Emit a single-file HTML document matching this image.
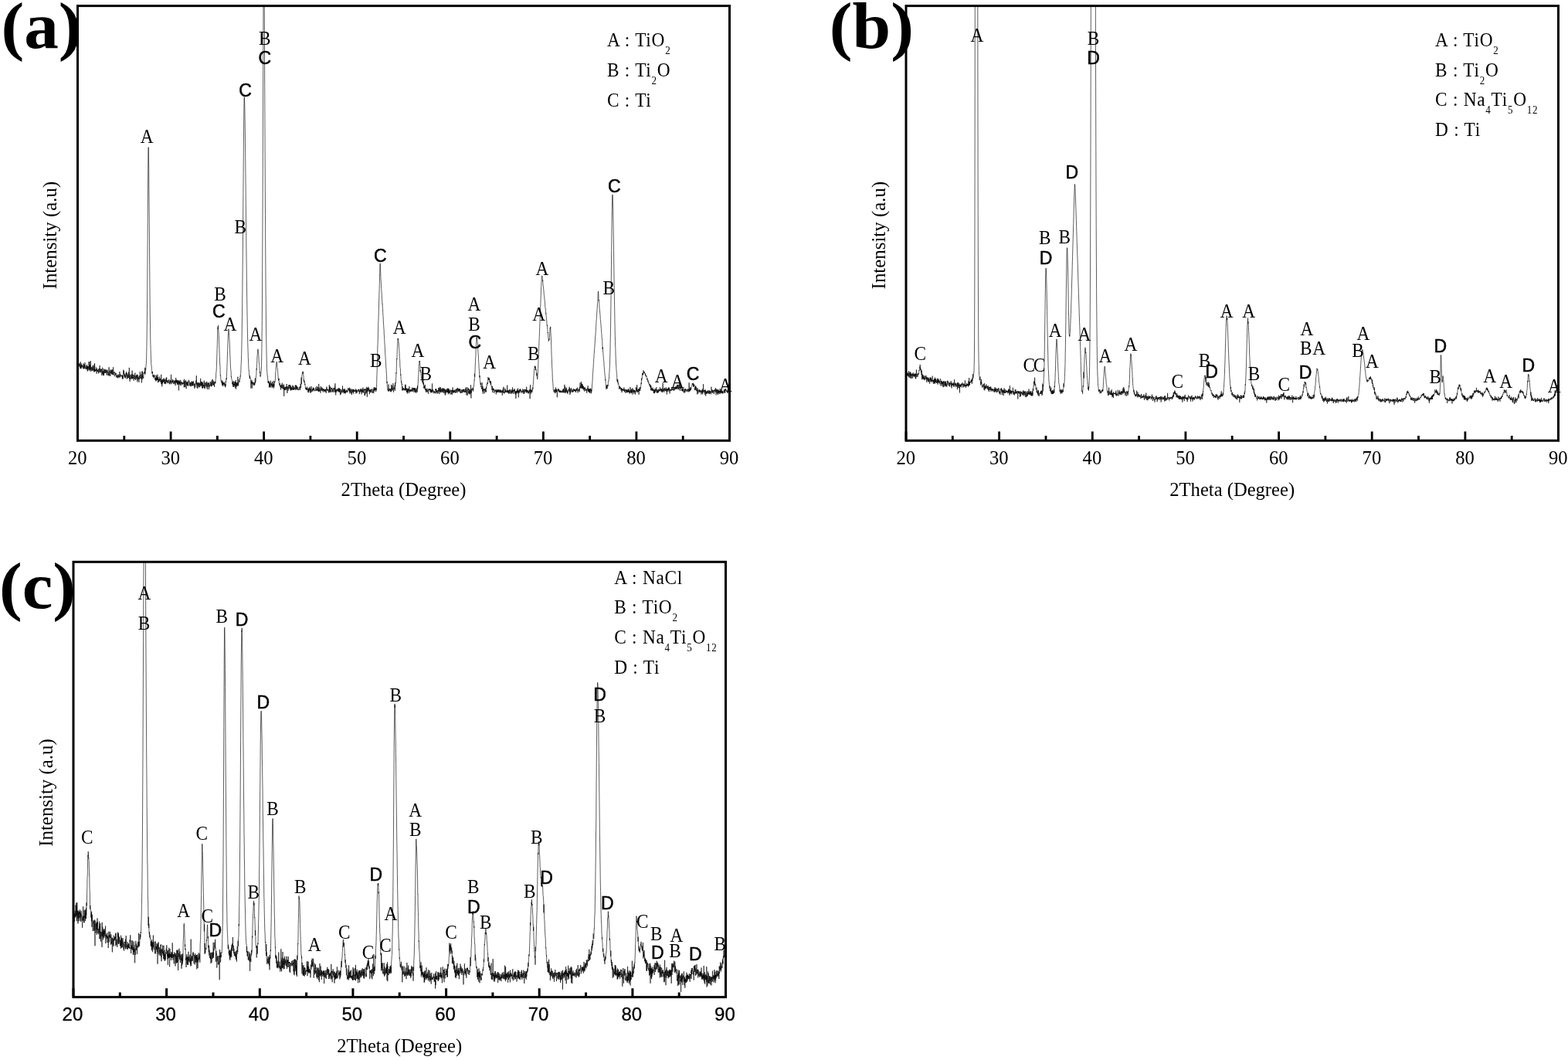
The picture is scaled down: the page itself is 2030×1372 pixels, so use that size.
<!DOCTYPE html>
<html lang="en">
<head>
<meta charset="utf-8">
<title>XRD patterns</title>
<style>
html,body{margin:0;padding:0;background:#fff;}
body{width:2030px;height:1372px;overflow:hidden;}
svg{display:block;}
text{fill:#000;}
</style>
</head>
<body>
<svg width="2030" height="1372" viewBox="0 0 2030 1372">
<rect width="2030" height="1372" fill="#fff"/>
<g id="panel-a">
<clipPath id="clip0"><rect x="100.5" y="7.6" width="846.5" height="562.7"/></clipPath>
<polyline clip-path="url(#clip0)" fill="none" stroke="#000" stroke-opacity="1" stroke-width="0.64" stroke-linejoin="round" points="100.5,475.1 100.7,470.7 100.9,470.6 101.1,465.6 101.3,472 101.5,470.3 101.7,471.2 101.9,473.4 102.1,473.8 102.3,470.6 102.5,471.1 102.7,471.9 102.9,474.7 103.1,474.6 103.3,470.4 103.5,471 103.7,475.1 103.9,477.2 104.1,468.3 104.3,472.1 104.5,476.3 104.7,473.2 104.9,474.7 105.1,477.3 105.3,470.5 105.5,474 105.7,475.4 105.9,472.5 106.1,473.6 106.3,472.7 106.5,473.8 106.7,473.4 106.9,475.5 107.1,473.5 107.3,474.4 107.5,474.3 107.7,474.8 107.9,477.4 108.1,470.5 108.3,477.2 108.5,476.3 108.7,471.5 108.9,474.1 109.1,474.8 109.3,477.3 109.5,472.5 109.7,475.5 109.9,469.3 110.1,471.2 110.3,472.3 110.5,476.4 110.7,476.5 110.9,477.6 111.1,476.2 111.3,475.9 111.5,475.2 111.7,477.8 111.9,473.3 112.1,474.9 112.3,476.2 112.5,471.9 112.7,478.4 112.9,473.9 113.1,475.6 113.3,480.7 113.5,474 113.7,474.5 113.9,479.3 114.1,474 114.3,475 114.5,477.3 114.7,477.1 114.9,477.3 115.1,468.1 115.3,479.5 115.5,478.7 115.7,478 115.9,468.2 116.1,478.1 116.3,472.4 116.5,478.5 116.7,472.8 116.9,478.7 117.1,480.8 117.3,467.2 117.5,475.4 117.7,476 117.9,479.1 118.1,475.1 118.3,476.6 118.5,476 118.7,476.7 118.9,480.3 119.1,475.3 119.3,477.6 119.5,479.5 119.7,479.3 119.9,474.6 120.1,472.9 120.3,478.5 120.5,479.5 120.7,477.7 120.9,473.7 121.1,475.9 121.3,479.3 121.5,477.7 121.7,477.6 121.9,481.7 122.1,471.7 122.3,481 122.5,470.3 122.7,473.8 122.9,480.3 123.1,480.5 123.3,478.1 123.5,480.1 123.7,480.1 123.9,478.7 124.1,480.2 124.3,479.1 124.5,475.4 124.7,479.5 124.9,479.6 125.1,483.7 125.3,477.1 125.5,479.9 125.7,479 125.9,479.7 126.1,480.7 126.3,481 126.5,479.1 126.7,480.3 126.9,481.5 127.1,477.4 127.3,479.2 127.5,483.4 127.7,481.9 127.9,479.8 128.1,479 128.3,479.6 128.5,476.7 128.7,482.4 128.9,481.2 129.1,473.1 129.3,477.3 129.5,478.6 129.7,481.3 129.9,480.6 130.1,479.1 130.3,477.6 130.5,482.3 130.7,477.7 130.9,479.1 131.1,478.5 131.3,477.9 131.5,481 131.7,481.8 131.9,486.1 132.1,478.2 132.3,478.7 132.5,475.7 132.7,484 132.9,481.6 133.1,479.8 133.3,483.1 133.5,485.7 133.7,480.8 133.9,485.2 134.1,481.4 134.3,477 134.5,486.2 134.7,483.5 134.9,480.5 135.1,480.1 135.3,478.3 135.5,483 135.7,481.9 135.9,480.3 136.1,478.9 136.3,481.8 136.5,478.4 136.7,482.9 136.9,481.4 137.1,482.1 137.3,481.7 137.5,478.5 137.7,479.2 137.9,482.2 138.1,485.6 138.3,479.9 138.5,480.9 138.7,482.4 138.9,478.7 139.1,478.6 139.3,481.6 139.5,482.2 139.7,481.6 139.9,485.9 140.1,481.9 140.3,483.1 140.5,485.8 140.7,486.2 140.9,479.2 141.1,475.2 141.3,480.4 141.5,479.8 141.7,486.5 141.9,484.2 142.1,479.8 142.3,480.3 142.5,483.2 142.7,485.3 142.9,486.8 143.1,482.6 143.3,478.3 143.5,482.8 143.7,482.3 143.9,482.4 144.1,483.2 144.3,479.4 144.5,484.4 144.7,478.8 144.9,482 145.1,484.1 145.3,484.2 145.5,484.5 145.7,478.2 145.9,484.3 146.1,485.2 146.3,482.9 146.5,475.2 146.7,481.5 146.9,485.5 147.1,485.1 147.3,481.9 147.5,482.6 147.7,482.8 147.9,482.9 148.1,480.8 148.3,485.1 148.5,487.3 148.7,486.9 148.9,484.7 149.1,484.1 149.3,482.6 149.5,483.1 149.7,483.9 149.9,485.6 150.1,482.8 150.3,485.2 150.5,485.9 150.7,487.9 150.9,486.4 151.1,488.6 151.3,488.9 151.5,486.3 151.7,486.4 151.9,484.8 152.1,485 152.3,488.8 152.5,486.8 152.7,488.1 152.9,489.5 153.1,484.7 153.3,485.5 153.5,485.8 153.7,487.9 153.9,485.3 154.1,486.8 154.3,488.3 154.5,488.4 154.7,486.7 154.9,481 155.1,485 155.3,488.5 155.5,486.9 155.7,483.9 155.9,485.1 156.1,485.1 156.3,485.1 156.5,486.5 156.7,486.2 156.9,487.4 157.1,487.5 157.3,485.7 157.5,487.1 157.7,486.6 157.9,485.8 158.1,485.9 158.3,489.8 158.5,485.6 158.7,489.5 158.9,491 159.1,487.5 159.3,489.5 159.5,484.5 159.7,480.3 159.9,478.6 160.1,483.8 160.3,484.2 160.5,480.1 160.7,486.7 160.9,487.3 161.1,486.5 161.3,483.8 161.5,489 161.7,485.1 161.9,487.6 162.1,485.9 162.3,489.5 162.5,486.4 162.7,486.4 162.9,486.4 163.1,482.9 163.3,485.5 163.5,480.9 163.7,484.6 163.9,487.6 164.1,486.5 164.3,490.8 164.5,490.4 164.7,483 164.9,487.3 165.1,484.9 165.3,488.5 165.5,487.7 165.7,489.4 165.9,488.1 166.1,488.8 166.3,486.5 166.5,481.7 166.7,489 166.9,485.3 167.1,486.1 167.3,475.9 167.5,490.7 167.7,486.6 167.9,490 168.1,493.8 168.3,491.2 168.5,490.6 168.7,488.7 168.9,484.6 169.1,488.5 169.3,490.9 169.5,487.6 169.7,486 169.9,486.4 170.1,486.9 170.3,484.4 170.5,490.1 170.7,487.6 170.9,490.2 171.1,479.6 171.3,484.9 171.5,486.2 171.7,490.3 171.9,484.7 172.1,486.8 172.3,489.1 172.5,489.9 172.7,489.5 172.9,484.8 173.1,492.7 173.3,487.8 173.5,488.2 173.7,488 173.9,487.3 174.1,485.7 174.3,487.2 174.5,490.9 174.7,484.8 174.9,482.5 175.1,488.4 175.3,488.7 175.5,489.5 175.7,492 175.9,486.7 176.1,488.6 176.3,489.2 176.5,486.3 176.7,490.3 176.9,486.3 177.1,485 177.3,487.5 177.5,484.6 177.7,490.6 177.9,494.4 178.1,485.3 178.3,486.3 178.5,491.8 178.7,489.2 178.9,487.7 179.1,490 179.3,488.6 179.5,489.9 179.7,491.5 179.9,494.7 180.1,489.8 180.3,486 180.5,490.9 180.7,489.7 180.9,488.4 181.1,486.9 181.3,481.2 181.5,486 181.7,489.9 181.9,489 182.1,489.3 182.3,486.9 182.5,486.3 182.7,484.5 182.9,490.4 183.1,487.5 183.3,487.6 183.5,495.4 183.7,488 183.9,480.7 184.1,491.1 184.3,480.7 184.5,488.3 184.7,484.7 184.9,485.3 185.1,488.7 185.3,487.7 185.5,488.2 185.7,489.7 185.9,488 186.1,482.3 186.3,483.9 186.5,483.4 186.7,483.6 186.9,480.9 187.1,480.7 187.3,482.8 187.5,482.5 187.7,475.8 187.9,481.3 188.1,484.6 188.3,477.3 188.5,477 188.7,478.6 188.9,475.7 189.1,472 189.3,471.3 189.5,466.7 189.7,461.4 189.9,449.9 190.1,437.9 190.3,421.7 190.5,400.3 190.7,375.6 190.9,343.8 191.1,310.5 191.3,273.9 191.5,244.3 191.7,217.2 191.9,196.1 192.1,190.6 192.3,190.7 192.5,203.8 192.7,219.4 192.9,243.1 193.1,267.6 193.3,291 193.5,317.3 193.7,342.4 193.9,368.8 194.1,388.8 194.3,406.6 194.5,421.1 194.7,436.1 194.9,445.2 195.1,451.6 195.3,459.2 195.5,464.5 195.7,470.3 195.9,472.6 196.1,472.7 196.3,477.6 196.5,479.4 196.7,479.6 196.9,483.6 197.1,481.5 197.3,483 197.5,481.2 197.7,485.1 197.9,487.5 198.1,485.4 198.3,485.3 198.5,487.3 198.7,487 198.9,489.3 199.1,487.9 199.3,485.5 199.5,487.9 199.7,487.6 199.9,485.2 200.1,487.5 200.3,487.4 200.5,490.9 200.7,490.4 200.9,489.9 201.1,492.2 201.3,489.2 201.5,491.8 201.7,489.2 201.9,493.5 202.1,485.5 202.3,490.9 202.5,492.6 202.7,489.6 202.9,486.9 203.1,491.4 203.3,488.9 203.5,492 203.7,491 203.9,484.7 204.1,490.1 204.3,488.3 204.5,495.2 204.7,489.8 204.9,492.3 205.1,490.4 205.3,492 205.5,492.1 205.7,494.5 205.9,492.1 206.1,490.6 206.3,487.5 206.5,493.1 206.7,490.3 206.9,491.1 207.1,491.6 207.3,493.6 207.5,490.6 207.7,490.7 207.9,489.7 208.1,491.3 208.3,495 208.5,490.6 208.7,484.8 208.9,496.7 209.1,493.3 209.3,497.6 209.5,492.2 209.7,500.3 209.9,498.7 210.1,491.4 210.3,493 210.5,496.4 210.7,491.2 210.9,494.5 211.1,490.4 211.3,490.6 211.5,493.5 211.7,491.9 211.9,493.2 212.1,494.8 212.3,489.5 212.5,490.6 212.7,491.9 212.9,496.8 213.1,491.3 213.3,493.5 213.5,493 213.7,496.7 213.9,491.1 214.1,491.8 214.3,492.5 214.5,494.2 214.7,497.1 214.9,489.9 215.1,489.2 215.3,493.1 215.5,494.1 215.7,488.4 215.9,491.8 216.1,495.3 216.3,492.3 216.5,494.5 216.7,494.1 216.9,495.1 217.1,494.7 217.3,494.8 217.5,496.2 217.7,492.4 217.9,493.6 218.1,495.5 218.3,492 218.5,492.2 218.7,491.4 218.9,490.9 219.1,493.5 219.3,494 219.5,496.9 219.7,494.9 219.9,497.4 220.1,492.9 220.3,494.2 220.5,493.1 220.7,495.7 220.9,492 221.1,494.1 221.3,488.3 221.5,484.8 221.7,487.5 221.9,497.2 222.1,495.4 222.3,494 222.5,494.2 222.7,493.1 222.9,495.5 223.1,493.9 223.3,490.8 223.5,492.7 223.7,495.1 223.9,494.3 224.1,491.9 224.3,495.5 224.5,495.2 224.7,495.2 224.9,497.2 225.1,493.6 225.3,492.7 225.5,493.9 225.7,493.5 225.9,496.9 226.1,495.4 226.3,493.3 226.5,492.8 226.7,495.9 226.9,492.1 227.1,499.1 227.3,497 227.5,491.3 227.7,489 227.9,493.6 228.1,493.3 228.3,495.5 228.5,491.6 228.7,494.6 228.9,493.2 229.1,495.8 229.3,491.9 229.5,497.8 229.7,493.3 229.9,497.8 230.1,497.8 230.3,496.6 230.5,492.1 230.7,491.9 230.9,497.6 231.1,493.2 231.3,494.5 231.5,505.4 231.7,493.6 231.9,496.3 232.1,492.4 232.3,492.9 232.5,497.2 232.7,493.7 232.9,496.8 233.1,496.6 233.3,498.4 233.5,496.4 233.7,491.8 233.9,493 234.1,499.3 234.3,497.6 234.5,495.7 234.7,494.1 234.9,496.2 235.1,494.4 235.3,495.6 235.5,495.5 235.7,497.5 235.9,496.1 236.1,497.5 236.3,495.6 236.5,497.1 236.7,495.4 236.9,497 237.1,496.1 237.3,495.4 237.5,494.8 237.7,494.9 237.9,496.4 238.1,492.3 238.3,501.4 238.5,490.7 238.7,495.2 238.9,500.9 239.1,497.1 239.3,496.2 239.5,493.4 239.7,496.5 239.9,498.2 240.1,501 240.3,497 240.5,491.9 240.7,495.6 240.9,497.3 241.1,503.2 241.3,494.9 241.5,495.5 241.7,497.5 241.9,497.1 242.1,493.8 242.3,498.6 242.5,493.9 242.7,499 242.9,499.1 243.1,495.9 243.3,495.8 243.5,499.8 243.7,495.8 243.9,494.3 244.1,495.1 244.3,491.7 244.5,493.3 244.7,495.2 244.9,493.5 245.1,494.3 245.3,499.4 245.5,496.8 245.7,496.1 245.9,498.1 246.1,495.9 246.3,494.9 246.5,499.7 246.7,499.1 246.9,495.4 247.1,498.8 247.3,500.2 247.5,498.2 247.7,495.9 247.9,494.5 248.1,496.6 248.3,493.3 248.5,498.2 248.7,496.9 248.9,499.7 249.1,495.5 249.3,499.1 249.5,494 249.7,496.5 249.9,498.5 250.1,498.2 250.3,497.3 250.5,493.3 250.7,495.9 250.9,498.8 251.1,499.6 251.3,497.3 251.5,496.7 251.7,498.4 251.9,502.9 252.1,499.9 252.3,498.3 252.5,496.5 252.7,501.2 252.9,498.2 253.1,496.7 253.3,496.8 253.5,495.2 253.7,493.3 253.9,492.5 254.1,496.4 254.3,486.1 254.5,498.2 254.7,496 254.9,498.1 255.1,502.2 255.3,495.5 255.5,495.7 255.7,500.1 255.9,502.8 256.1,496.4 256.3,494.9 256.5,497.8 256.7,497.6 256.9,499.8 257.1,496 257.3,497.3 257.5,501.3 257.7,497.9 257.9,494.9 258.1,498.9 258.3,498.5 258.5,496.3 258.7,501.2 258.9,499.9 259.1,499.3 259.3,499.5 259.5,498 259.7,489.9 259.9,499.7 260.1,498 260.3,493.7 260.5,499.2 260.7,496.1 260.9,495.2 261.1,498.7 261.3,494.1 261.5,502.2 261.7,501.4 261.9,495.7 262.1,496.4 262.3,502.9 262.5,500.5 262.7,494.7 262.9,500.5 263.1,501.8 263.3,498.5 263.5,497.9 263.7,500.3 263.9,499.3 264.1,497.3 264.3,492.6 264.5,499 264.7,499.4 264.9,502.7 265.1,498.7 265.3,502.9 265.5,498.1 265.7,495.2 265.9,498.3 266.1,500 266.3,499.4 266.5,499 266.7,495.3 266.9,496.1 267.1,498 267.3,500.1 267.5,501.6 267.7,493.8 267.9,498.1 268.1,497.7 268.3,504 268.5,498.7 268.7,496.5 268.9,495.4 269.1,499.9 269.3,500.5 269.5,496.9 269.7,495.8 269.9,496.6 270.1,495.3 270.3,504.2 270.5,496.9 270.7,495.8 270.9,497 271.1,501.3 271.3,499.1 271.5,498.5 271.7,498.1 271.9,499.6 272.1,499.4 272.3,493.9 272.5,497.6 272.7,496.3 272.9,498.6 273.1,497.9 273.3,500.1 273.5,500.3 273.7,498.5 273.9,494.4 274.1,500.1 274.3,492.1 274.5,498.5 274.7,497.5 274.9,497.7 275.1,490.8 275.3,493.9 275.5,496 275.7,497.7 275.9,497.5 276.1,498.6 276.3,497 276.5,492.8 276.7,498.8 276.9,495.7 277.1,494.6 277.3,496.4 277.5,501 277.7,497.2 277.9,494.6 278.1,496.3 278.3,495.5 278.5,494.4 278.7,493.8 278.9,496.3 279.1,491.6 279.3,490.5 279.5,489.5 279.7,483.9 279.9,481.1 280.1,481 280.3,475.9 280.5,471.2 280.7,465.8 280.9,457.9 281.1,451.3 281.3,445.6 281.5,438 281.7,430.3 281.9,423.7 282.1,425.7 282.3,422.6 282.5,421.1 282.7,424.7 282.9,428.2 283.1,431.4 283.3,433.7 283.5,442.7 283.7,446.6 283.9,451.1 284.1,457.4 284.3,461.5 284.5,466.1 284.7,472.1 284.9,472 285.1,479.9 285.3,486.4 285.5,485.6 285.7,488 285.9,491.2 286.1,492.8 286.3,493.4 286.5,492.3 286.7,495.2 286.9,493.9 287.1,493.7 287.3,496.7 287.5,497.1 287.7,498.8 287.9,492.6 288.1,497.8 288.3,494.1 288.5,497.2 288.7,500 288.9,495.5 289.1,497.9 289.3,495.9 289.5,497 289.7,495.2 289.9,496.9 290.1,498.3 290.3,497 290.5,494.7 290.7,495.2 290.9,499.5 291.1,498.8 291.3,496.6 291.5,497.4 291.7,501.3 291.9,497.2 292.1,499.7 292.3,493.4 292.5,494.8 292.7,493.3 292.9,489.5 293.1,489.9 293.3,491.3 293.5,483.9 293.7,481.1 293.9,475.5 294.1,469.8 294.3,464.6 294.5,457 294.7,454.1 294.9,445.8 295.1,440 295.3,434.1 295.5,430.4 295.7,429.7 295.9,425.7 296.1,426.7 296.3,427.8 296.5,430.8 296.7,436.2 296.9,437.8 297.1,442.3 297.3,445.5 297.5,451.7 297.7,457 297.9,460.8 298.1,465.3 298.3,470.8 298.5,477 298.7,477.3 298.9,479.6 299.1,480.6 299.3,488.1 299.5,487.4 299.7,490.4 299.9,490.3 300.1,490.7 300.3,491.7 300.5,492.5 300.7,496.9 300.9,495.8 301.1,496.5 301.3,498.3 301.5,494.4 301.7,500.5 301.9,498.5 302.1,493.1 302.3,499.9 302.5,500.9 302.7,497 302.9,497.4 303.1,498.4 303.3,494.1 303.5,497.8 303.7,499.3 303.9,496.7 304.1,499.8 304.3,501.8 304.5,494.1 304.7,494.2 304.9,499.6 305.1,492.2 305.3,498.6 305.5,503.8 305.7,495.4 305.9,496.2 306.1,500.7 306.3,495.6 306.5,496.3 306.7,499.1 306.9,496.8 307.1,495.3 307.3,499.5 307.5,497.4 307.7,496.6 307.9,487.7 308.1,497.9 308.3,495.2 308.5,499.6 308.7,497 308.9,496.9 309.1,491.4 309.3,493.5 309.5,493.4 309.7,493.8 309.9,494.7 310.1,494.8 310.3,494 310.5,489.5 310.7,490.4 310.9,488.8 311.1,486.4 311.3,487.4 311.5,484.9 311.7,483.7 311.9,478.2 312.1,471.3 312.3,470.2 312.5,465.2 312.7,458.3 312.9,449 313.1,438.2 313.3,424 313.5,410.4 313.7,392.7 313.9,373.2 314.1,351.5 314.3,328.6 314.5,305 314.7,278 314.9,249.6 315.1,223.3 315.3,197.1 315.5,177 315.7,155.9 315.9,139.9 316.1,128.6 316.3,125.5 316.5,131.7 316.7,133.1 316.9,141.5 317.1,155.6 317.3,168.2 317.5,184.6 317.7,203.5 317.9,223.8 318.1,241.8 318.3,264.7 318.5,282.4 318.7,300.3 318.9,321 319.1,338.3 319.3,356.9 319.5,371.3 319.7,385.3 319.9,398.7 320.1,410.4 320.3,422.6 320.5,432.5 320.7,442.2 320.9,449 321.1,454.7 321.3,462.5 321.5,466 321.7,471.3 321.9,476.5 322.1,479.4 322.3,479.2 322.5,482.3 322.7,486.7 322.9,487.6 323.1,488.3 323.3,490 323.5,486.1 323.7,490 323.9,488.9 324.1,491 324.3,492 324.5,493.8 324.7,495.4 324.9,502.6 325.1,494.4 325.3,493.6 325.5,496.6 325.7,495 325.9,491.6 326.1,494.8 326.3,502.6 326.5,493.8 326.7,496 326.9,498.4 327.1,495.5 327.3,496.1 327.5,496.3 327.7,494.8 327.9,495.9 328.1,495 328.3,496.4 328.5,495.6 328.7,498.8 328.9,496.9 329.1,498.9 329.3,494.9 329.5,497 329.7,498.1 329.9,498 330.1,495.4 330.3,489.4 330.5,495.9 330.7,494.4 330.9,493.1 331.1,493.6 331.3,489.2 331.5,486.4 331.7,486 331.9,484.4 332.1,477.2 332.3,478.5 332.5,472.6 332.7,470 332.9,463 333.1,459.8 333.3,458.1 333.5,455.6 333.7,452.9 333.9,451.8 334.1,452.7 334.3,455.5 334.5,455.4 334.7,457.6 334.9,461.2 335.1,465.2 335.3,469 335.5,470.5 335.7,473.5 335.9,475.9 336.1,478 336.3,481.6 336.5,482.9 336.7,481.4 336.9,487.3 337.1,486.4 337.3,487.3 337.5,485.5 337.7,485.4 337.9,482.8 338.1,481.7 338.3,479.3 338.5,473.6 338.7,464 338.9,450.8 339.1,435.7 339.3,414.4 339.5,387.4 339.7,348.5 339.9,306.8 340.1,257 340.3,201.4 340.5,142.1 340.7,81.5 340.9,32 341.1,-11.5 341.3,-39.4 341.5,-50.8 341.7,-44.7 341.9,-26.6 342.1,-2.8 342.3,30.1 342.5,67.8 342.7,111.7 342.9,152.3 343.1,196.9 343.3,239.8 343.5,278.7 343.7,315.7 343.9,347.4 344.1,376.7 344.3,399 344.5,418.9 344.7,436.1 344.9,447.3 345.1,461.1 345.3,466.9 345.5,476.6 345.7,481.3 345.9,482.2 346.1,486 346.3,486 346.5,486.2 346.7,491.6 346.9,491.5 347.1,495.8 347.3,493.1 347.5,495.2 347.7,494 347.9,495.8 348.1,494.8 348.3,495.6 348.5,501.5 348.7,493.6 348.9,496.6 349.1,499.4 349.3,497.9 349.5,495.7 349.7,500.9 349.9,498.9 350.1,501.7 350.3,496.9 350.5,492.7 350.7,497.4 350.9,497 351.1,499.3 351.3,496 351.5,497.3 351.7,496.9 351.9,499.6 352.1,497.7 352.3,502 352.5,494.2 352.7,495.3 352.9,499 353.1,499.8 353.3,497.2 353.5,497.6 353.7,501.1 353.9,498.7 354.1,492.9 354.3,502.7 354.5,501.5 354.7,496.7 354.9,500.4 355.1,497.3 355.3,496.5 355.5,496.3 355.7,493.7 355.9,494.8 356.1,492.4 356.3,492.5 356.5,488.7 356.7,481.6 356.9,481.1 357.1,480.6 357.3,475.4 357.5,472.8 357.7,471 357.9,469.6 358.1,468.1 358.3,468.8 358.5,469.4 358.7,472 358.9,475.3 359.1,476.3 359.3,477.1 359.5,479.6 359.7,482.5 359.9,485.5 360.1,487.2 360.3,490.5 360.5,492.6 360.7,490.7 360.9,491.8 361.1,489.8 361.3,496.8 361.5,498.3 361.7,498.5 361.9,498.8 362.1,496.5 362.3,495.8 362.5,497.7 362.7,500 362.9,501.1 363.1,498.5 363.3,499.4 363.5,504.5 363.7,499 363.9,499.4 364.1,498.4 364.3,497.9 364.5,502.3 364.7,499.4 364.9,499.6 365.1,499.3 365.3,495.7 365.5,502.1 365.7,500 365.9,497.8 366.1,503.4 366.3,500.8 366.5,501.3 366.7,501.6 366.9,503.6 367.1,498.9 367.3,500.2 367.5,497.5 367.7,512.8 367.9,500.8 368.1,500.7 368.3,504.9 368.5,503.1 368.7,504.7 368.9,501.7 369.1,504.7 369.3,500.7 369.5,502.2 369.7,502 369.9,501.1 370.1,504.9 370.3,504.3 370.5,500.8 370.7,503.2 370.9,502 371.1,497 371.3,501.4 371.5,500.6 371.7,501.7 371.9,508.9 372.1,500.3 372.3,500.6 372.5,503.1 372.7,501.8 372.9,505.8 373.1,505.4 373.3,501.1 373.5,503.5 373.7,498.4 373.9,500.7 374.1,500.2 374.3,500.3 374.5,498.1 374.7,502.5 374.9,502.4 375.1,500.8 375.3,502.1 375.5,503.8 375.7,498 375.9,500.2 376.1,505.5 376.3,499.5 376.5,501.1 376.7,504 376.9,505.1 377.1,503.2 377.3,501.7 377.5,504.6 377.7,502.1 377.9,500.8 378.1,504.4 378.3,501.3 378.5,499.5 378.7,498.7 378.9,501.9 379.1,505 379.3,503.3 379.5,502.2 379.7,504.2 379.9,499.4 380.1,502.8 380.3,503.4 380.5,504.7 380.7,501 380.9,503.8 381.1,502.6 381.3,502.4 381.5,503.6 381.7,502.7 381.9,502 382.1,502 382.3,498.7 382.5,505.1 382.7,504.9 382.9,503.7 383.1,498.3 383.3,503.8 383.5,501.2 383.7,499 383.9,500.9 384.1,502.2 384.3,503.5 384.5,500.1 384.7,500.8 384.9,505 385.1,501.5 385.3,501.4 385.5,501 385.7,501 385.9,504 386.1,503.5 386.3,504.4 386.5,504.5 386.7,505.2 386.9,503.3 387.1,504.2 387.3,503.8 387.5,503.8 387.7,500.5 387.9,502 388.1,501.7 388.3,501.1 388.5,504.6 388.7,504.8 388.9,503 389.1,496.9 389.3,500.9 389.5,502 389.7,496.6 389.9,494.6 390.1,488.5 390.3,497.2 390.5,493.9 390.7,491.4 390.9,485.7 391.1,485.2 391.3,483.2 391.5,483.2 391.7,482.2 391.9,483.6 392.1,480.7 392.3,483 392.5,481.7 392.7,483.7 392.9,486.1 393.1,487.4 393.3,493.2 393.5,491.3 393.7,493.5 393.9,495.2 394.1,493.2 394.3,495.2 394.5,496.2 394.7,498.1 394.9,496.7 395.1,498.6 395.3,500.1 395.5,503.4 395.7,502.6 395.9,501.7 396.1,503.7 396.3,502.8 396.5,503.3 396.7,504.8 396.9,501.8 397.1,503.8 397.3,504.8 397.5,502.7 397.7,500.6 397.9,502.2 398.1,502.9 398.3,504.1 398.5,503.1 398.7,503.6 398.9,507.8 399.1,504 399.3,508.1 399.5,503.5 399.7,505.5 399.9,502.2 400.1,503.9 400.3,503.1 400.5,502.7 400.7,505.7 400.9,502.5 401.1,500.6 401.3,508.2 401.5,503.8 401.7,503.8 401.9,505.1 402.1,502.7 402.3,504.8 402.5,508.6 402.7,503.3 402.9,503.3 403.1,500 403.3,505.2 403.5,507 403.7,506.5 403.9,505.2 404.1,504.9 404.3,505.4 404.5,503.1 404.7,506.2 404.9,506.6 405.1,504.6 405.3,505 405.5,501.4 405.7,504.9 405.9,505 406.1,502.7 406.3,505.4 406.5,503.3 406.7,502.6 406.9,504.2 407.1,505.1 407.3,506.2 407.5,505.6 407.7,505.3 407.9,506.1 408.1,505.5 408.3,505.2 408.5,505.2 408.7,501.6 408.9,503.5 409.1,505.7 409.3,505.5 409.5,504.6 409.7,504 409.9,505.9 410.1,499.8 410.3,503.3 410.5,503.6 410.7,505.1 410.9,503.6 411.1,504.2 411.3,500.9 411.5,506.3 411.7,504.5 411.9,505.7 412.1,503.4 412.3,506.1 412.5,506.7 412.7,496.9 412.9,501.9 413.1,507 413.3,505 413.5,501.7 413.7,503.2 413.9,504.1 414.1,506.1 414.3,503.6 414.5,505 414.7,506.7 414.9,508.6 415.1,507.8 415.3,499.9 415.5,504.1 415.7,502.2 415.9,501.5 416.1,505.9 416.3,503.4 416.5,503 416.7,502.6 416.9,505.2 417.1,504.4 417.3,501.8 417.5,505.8 417.7,505.7 417.9,504.1 418.1,503.8 418.3,507.6 418.5,503.8 418.7,504.9 418.9,504.4 419.1,505.3 419.3,503.5 419.5,503.1 419.7,506 419.9,504.2 420.1,506 420.3,507.3 420.5,504.6 420.7,506.3 420.9,505 421.1,507.2 421.3,505.3 421.5,503.7 421.7,505.4 421.9,505.1 422.1,503.8 422.3,508.8 422.5,502.7 422.7,503.1 422.9,500.5 423.1,501.5 423.3,505 423.5,504.7 423.7,503.7 423.9,505.9 424.1,505.8 424.3,503.7 424.5,505.1 424.7,506.3 424.9,505.5 425.1,504.8 425.3,504.5 425.5,505.4 425.7,508.4 425.9,503.8 426.1,504.2 426.3,498.2 426.5,505.2 426.7,507.8 426.9,500.7 427.1,507.1 427.3,507.4 427.5,500.3 427.7,502.3 427.9,505.9 428.1,505.2 428.3,506.8 428.5,508 428.7,507 428.9,502.6 429.1,503.8 429.3,502.1 429.5,504.1 429.7,501.8 429.9,504.2 430.1,507.2 430.3,503.8 430.5,504.5 430.7,505.2 430.9,507.4 431.1,505.5 431.3,504.7 431.5,504.6 431.7,501.9 431.9,507.7 432.1,505.3 432.3,504.9 432.5,504.7 432.7,504 432.9,502.2 433.1,503.8 433.3,505 433.5,500.4 433.7,507.5 433.9,496.3 434.1,507.6 434.3,504.9 434.5,505.8 434.7,511.4 434.9,505.4 435.1,503.6 435.3,506.1 435.5,507.6 435.7,505 435.9,504.3 436.1,505.6 436.3,505.6 436.5,505.4 436.7,504.2 436.9,506.4 437.1,502.7 437.3,503.7 437.5,506.4 437.7,504.2 437.9,505.5 438.1,505.2 438.3,505.2 438.5,506.6 438.7,502.2 438.9,507.5 439.1,502.5 439.3,507.6 439.5,506.5 439.7,503 439.9,506 440.1,504.9 440.3,503.5 440.5,511.2 440.7,507.3 440.9,506.1 441.1,508.1 441.3,510 441.5,510.1 441.7,507.4 441.9,504 442.1,506.6 442.3,507.1 442.5,505.7 442.7,505.5 442.9,508.4 443.1,505.9 443.3,504.4 443.5,499.5 443.7,504.7 443.9,503 444.1,507.9 444.3,504.9 444.5,505.9 444.7,506.9 444.9,507.2 445.1,504 445.3,509.3 445.5,507.2 445.7,506.7 445.9,503.9 446.1,508.8 446.3,502.9 446.5,507.4 446.7,505.1 446.9,508.9 447.1,508.2 447.3,505.7 447.5,509.4 447.7,506.3 447.9,507.5 448.1,507.1 448.3,507.1 448.5,504.7 448.7,505.1 448.9,507.4 449.1,507.5 449.3,507 449.5,505.2 449.7,504.8 449.9,507.9 450.1,505.5 450.3,504.8 450.5,502.4 450.7,502.5 450.9,503.7 451.1,502.3 451.3,504.9 451.5,505.2 451.7,504.1 451.9,505.8 452.1,505.7 452.3,503.2 452.5,507.4 452.7,501.6 452.9,509.4 453.1,503.6 453.3,506 453.5,505.3 453.7,506.7 453.9,507.6 454.1,506.5 454.3,503.3 454.5,507.2 454.7,509.2 454.9,506.6 455.1,507.8 455.3,511.1 455.5,504.9 455.7,504.7 455.9,505.8 456.1,503.7 456.3,507.1 456.5,506.3 456.7,505.8 456.9,508.2 457.1,503.8 457.3,507.7 457.5,509.6 457.7,504.1 457.9,506.4 458.1,506 458.3,504.8 458.5,506.9 458.7,504.6 458.9,505.1 459.1,506.7 459.3,505.9 459.5,506.7 459.7,506.3 459.9,505.2 460.1,506.1 460.3,503.5 460.5,506.6 460.7,505.7 460.9,509.4 461.1,506.3 461.3,507.6 461.5,504.1 461.7,507.4 461.9,506.4 462.1,508.6 462.3,506.7 462.5,505.5 462.7,506.8 462.9,506.9 463.1,506.7 463.3,506 463.5,504.1 463.7,504 463.9,505.1 464.1,505.6 464.3,503.7 464.5,505.5 464.7,507.1 464.9,505 465.1,507.1 465.3,510.1 465.5,506.5 465.7,506.5 465.9,507.8 466.1,503.8 466.3,505 466.5,504.9 466.7,507.1 466.9,503 467.1,506.3 467.3,504.9 467.5,505.1 467.7,504.7 467.9,508 468.1,510.3 468.3,503.5 468.5,508 468.7,504.2 468.9,505.9 469.1,504.8 469.3,505.1 469.5,505 469.7,507.3 469.9,501.6 470.1,508.5 470.3,506.5 470.5,508.1 470.7,506.3 470.9,503.8 471.1,505.2 471.3,505.9 471.5,505.5 471.7,504.6 471.9,503.3 472.1,512.1 472.3,506.9 472.5,511.6 472.7,509.1 472.9,503.2 473.1,505.4 473.3,503.5 473.5,505.7 473.7,506.6 473.9,509.5 474.1,506.7 474.3,506.4 474.5,504.8 474.7,500.8 474.9,508 475.1,504.8 475.3,513.8 475.5,502.1 475.7,506.9 475.9,506.4 476.1,502.1 476.3,503 476.5,504.7 476.7,505.5 476.9,500.7 477.1,503.1 477.3,506.6 477.5,505.9 477.7,502.4 477.9,503.3 478.1,504.8 478.3,510.2 478.5,505 478.7,505.4 478.9,504.4 479.1,506.1 479.3,508.2 479.5,504.2 479.7,506.1 479.9,506.6 480.1,507.8 480.3,507.2 480.5,505.2 480.7,504.4 480.9,506.7 481.1,505.3 481.3,503.2 481.5,504.7 481.7,505.1 481.9,508.9 482.1,507.2 482.3,507.4 482.5,506.7 482.7,507.5 482.9,507.7 483.1,503.5 483.3,506.4 483.5,506.5 483.7,509.1 483.9,506.1 484.1,501.2 484.3,505.5 484.5,503.4 484.7,506.6 484.9,502.6 485.1,504.3 485.3,504.6 485.5,501.2 485.7,504.4 485.9,503.3 486.1,504.9 486.3,503.7 486.5,502.7 486.7,507 486.9,502 487.1,503.4 487.3,504.9 487.5,502.2 487.7,495.6 487.9,486.7 488.1,482.2 488.3,474 488.5,467.7 488.7,459.6 488.9,447.9 489.1,445.5 489.3,437.1 489.5,430.3 489.7,420.8 489.9,414.7 490.1,410.1 490.3,402.9 490.5,393.2 490.7,388.1 490.9,381.8 491.1,374.5 491.3,366.6 491.5,358.6 491.7,353.6 491.9,344.7 492.1,340.8 492.3,341.2 492.5,347.5 492.7,351.3 492.9,358.4 493.1,362.5 493.3,365 493.5,369.8 493.7,373.4 493.9,375.9 494.1,378.8 494.3,382.8 494.5,386.6 494.7,389.2 494.9,393.4 495.1,393 495.3,398.1 495.5,399.3 495.7,404.6 495.9,408.4 496.1,409.7 496.3,415 496.5,419.1 496.7,421.5 496.9,425.2 497.1,427.1 497.3,433.1 497.5,435.5 497.7,439.6 497.9,443.2 498.1,446.5 498.3,449.2 498.5,453.8 498.7,457.7 498.9,460.4 499.1,463.7 499.3,467.1 499.5,469.2 499.7,474.1 499.9,477 500.1,478.6 500.3,483.1 500.5,485.1 500.7,490.9 500.9,495.9 501.1,493.9 501.3,498.9 501.5,502.1 501.7,504.9 501.9,505 502.1,505.4 502.3,505.5 502.5,505.5 502.7,504 502.9,506.6 503.1,497.5 503.3,504.3 503.5,502.7 503.7,506.5 503.9,506 504.1,503.8 504.3,503.1 504.5,505.2 504.7,505.1 504.9,504.7 505.1,505.3 505.3,503.3 505.5,506.1 505.7,507 505.9,503.9 506.1,503.8 506.3,507.4 506.5,497.8 506.7,503.9 506.9,503.9 507.1,502.1 507.3,505.9 507.5,505.3 507.7,504.9 507.9,498.9 508.1,504.5 508.3,504.6 508.5,505.1 508.7,504.3 508.9,496.1 509.1,504.2 509.3,504.3 509.5,507.7 509.7,502.9 509.9,501.8 510.1,503.7 510.3,502.2 510.5,501.9 510.7,502.8 510.9,503.2 511.1,498.9 511.3,505.8 511.5,496.4 511.7,499.9 511.9,495.1 512.1,496.3 512.3,495.9 512.5,492.8 512.7,488.7 512.9,482.3 513.1,483.5 513.3,476.8 513.5,468.5 513.7,464.2 513.9,465 514.1,458.4 514.3,452.4 514.5,448.3 514.7,445.2 514.9,443.4 515.1,437.8 515.3,440 515.5,438.5 515.7,440.2 515.9,443.2 516.1,443.1 516.3,446 516.5,449.1 516.7,450.5 516.9,454.3 517.1,457.5 517.3,464.3 517.5,464.5 517.7,466.3 517.9,475 518.1,475.9 518.3,476.7 518.5,481.3 518.7,485.7 518.9,484.7 519.1,490.8 519.3,491.8 519.5,495.2 519.7,493.5 519.9,497 520.1,497.8 520.3,496.6 520.5,499 520.7,505.3 520.9,500.1 521.1,501.4 521.3,502.9 521.5,503.2 521.7,505.4 521.9,502.8 522.1,504.6 522.3,503.3 522.5,502 522.7,504.3 522.9,504.5 523.1,505.1 523.3,505 523.5,504.5 523.7,502.9 523.9,504.1 524.1,505.1 524.3,505.4 524.5,497.7 524.7,505.2 524.9,504.1 525.1,498.1 525.3,505.1 525.5,504 525.7,502.7 525.9,505.1 526.1,502.2 526.3,504.7 526.5,508.1 526.7,504.2 526.9,507.8 527.1,505.5 527.3,503.4 527.5,507.1 527.7,504.4 527.9,509.7 528.1,502.6 528.3,506.9 528.5,507.5 528.7,503.7 528.9,503.1 529.1,504.7 529.3,505.2 529.5,504.3 529.7,506.1 529.9,500 530.1,508.5 530.3,506.7 530.5,507 530.7,504.7 530.9,506.9 531.1,505.6 531.3,504 531.5,506 531.7,506.8 531.9,506.1 532.1,504.1 532.3,504.7 532.5,506.3 532.7,505.9 532.9,504.9 533.1,506.2 533.3,501.8 533.5,505.7 533.7,507.1 533.9,506.9 534.1,504.5 534.3,505.7 534.5,505.7 534.7,501.8 534.9,504.1 535.1,503.2 535.3,504.5 535.5,503.4 535.7,502 535.9,507.6 536.1,503 536.3,504.4 536.5,504.3 536.7,502.5 536.9,505.7 537.1,502.2 537.3,507.7 537.5,502.3 537.7,507.8 537.9,504.5 538.1,504.4 538.3,504.6 538.5,506.4 538.7,506.9 538.9,508.6 539.1,503 539.3,506.8 539.5,505.8 539.7,503.9 539.9,501.8 540.1,507.5 540.3,504.9 540.5,499.1 540.7,502.9 540.9,499.8 541.1,497.2 541.3,495.4 541.5,490.3 541.7,487.6 541.9,485.1 542.1,477.5 542.3,474.3 542.5,470.9 542.7,470.7 542.9,467.4 543.1,468 543.3,468.6 543.5,467.2 543.7,472.2 543.9,473 544.1,480.8 544.3,478.9 544.5,481 544.7,482.2 544.9,481.7 545.1,485.6 545.3,487.4 545.5,489.2 545.7,490 545.9,489.8 546.1,489.5 546.3,492.4 546.5,493.8 546.7,494.7 546.9,493.4 547.1,492.2 547.3,494.9 547.5,495.8 547.7,496.5 547.9,491.9 548.1,497.1 548.3,498.6 548.5,495.4 548.7,502.5 548.9,500.4 549.1,500.3 549.3,501.9 549.5,501.1 549.7,499.4 549.9,503.5 550.1,502.8 550.3,497.9 550.5,504.3 550.7,504.4 550.9,504.7 551.1,504 551.3,506.6 551.5,502.9 551.7,506.6 551.9,507.9 552.1,504.1 552.3,506.7 552.5,505.9 552.7,505.5 552.9,502.7 553.1,503.4 553.3,506.5 553.5,507.5 553.7,506.6 553.9,505.4 554.1,504.5 554.3,507.3 554.5,509.9 554.7,508.2 554.9,503.6 555.1,504.5 555.3,503.3 555.5,503.9 555.7,505 555.9,503 556.1,505.1 556.3,504.6 556.5,503.6 556.7,504.8 556.9,507 557.1,505.9 557.3,505 557.5,503.4 557.7,508.3 557.9,504 558.1,506.7 558.3,504.7 558.5,508.2 558.7,508 558.9,505.6 559.1,505.1 559.3,507.8 559.5,496.4 559.7,504.7 559.9,506.7 560.1,503.9 560.3,505.3 560.5,504.8 560.7,506.4 560.9,505.9 561.1,509.2 561.3,507.4 561.5,506.2 561.7,507.1 561.9,505.8 562.1,506.6 562.3,507.2 562.5,507 562.7,508.6 562.9,507.1 563.1,508.1 563.3,506.9 563.5,507.1 563.7,509.5 563.9,503.1 564.1,505.5 564.3,503.1 564.5,504.6 564.7,505.6 564.9,507.9 565.1,504 565.3,507.9 565.5,506 565.7,505.7 565.9,509.7 566.1,507.6 566.3,506.8 566.5,505.6 566.7,506.1 566.9,505.4 567.1,509 567.3,506.5 567.5,504.9 567.7,501.9 567.9,507 568.1,504.4 568.3,505 568.5,503.6 568.7,502.4 568.9,510 569.1,505.8 569.3,500.9 569.5,507 569.7,506.5 569.9,504 570.1,505.8 570.3,507.2 570.5,501.4 570.7,507.2 570.9,508.2 571.1,507 571.3,506.6 571.5,503.4 571.7,505.2 571.9,507.7 572.1,504.5 572.3,504.4 572.5,505.2 572.7,502.6 572.9,506.8 573.1,504.6 573.3,506.4 573.5,508 573.7,502.1 573.9,504.1 574.1,508.7 574.3,505.7 574.5,504.7 574.7,503.1 574.9,506 575.1,503.1 575.3,504.9 575.5,507.1 575.7,508.6 575.9,503.6 576.1,509.4 576.3,511.6 576.5,504.9 576.7,506.1 576.9,510.4 577.1,507 577.3,504.3 577.5,504.1 577.7,507.8 577.9,508.1 578.1,505.1 578.3,506.4 578.5,507.5 578.7,505.6 578.9,502.7 579.1,507.9 579.3,507.5 579.5,503.7 579.7,508 579.9,505.3 580.1,502.6 580.3,510.3 580.5,503.3 580.7,508.3 580.9,506.9 581.1,509.1 581.3,503.4 581.5,506.5 581.7,508.8 581.9,505.1 582.1,507.6 582.3,506 582.5,507.6 582.7,507.7 582.9,510.6 583.1,504.8 583.3,504.4 583.5,505.1 583.7,506.5 583.9,506.8 584.1,505.6 584.3,507 584.5,510.3 584.7,508.4 584.9,505.1 585.1,506.1 585.3,504.6 585.5,510.7 585.7,505.2 585.9,506.8 586.1,501.4 586.3,505.8 586.5,508 586.7,506.3 586.9,505.5 587.1,506.4 587.3,508.7 587.5,505.3 587.7,505.2 587.9,508.1 588.1,505.2 588.3,507.6 588.5,505.7 588.7,504.7 588.9,504.3 589.1,507.6 589.3,507.4 589.5,507.4 589.7,508.7 589.9,504.3 590.1,505.2 590.3,506.3 590.5,508.2 590.7,504.8 590.9,503.1 591.1,506.2 591.3,505.1 591.5,504.5 591.7,502.9 591.9,507 592.1,508.4 592.3,504.3 592.5,501.8 592.7,505 592.9,505.5 593.1,506.9 593.3,506.1 593.5,502.9 593.7,506 593.9,506.2 594.1,504.8 594.3,506.5 594.5,503.6 594.7,505.4 594.9,503.6 595.1,505.9 595.3,507.3 595.5,503 595.7,506.3 595.9,508.3 596.1,506.6 596.3,509 596.5,508.4 596.7,507.8 596.9,506.5 597.1,504.2 597.3,505.9 597.5,505 597.7,508.2 597.9,508.9 598.1,509 598.3,507.5 598.5,506.1 598.7,507.9 598.9,504.3 599.1,507.4 599.3,503.9 599.5,505.5 599.7,506.3 599.9,506.8 600.1,503.6 600.3,503.9 600.5,504.1 600.7,507.5 600.9,504.1 601.1,507.4 601.3,507 601.5,507.6 601.7,507 601.9,506 602.1,507.4 602.3,502.9 602.5,506.8 602.7,507.3 602.9,507.4 603.1,505.1 603.3,501.2 603.5,508.6 603.7,506 603.9,511.6 604.1,505.6 604.3,505.7 604.5,506.1 604.7,503.9 604.9,503.8 605.1,501.3 605.3,511.8 605.5,507.6 605.7,505.7 605.9,504.5 606.1,503.2 606.3,502.7 606.5,504.2 606.7,503.1 606.9,509.4 607.1,503.2 607.3,509.2 607.5,506.9 607.7,509.5 607.9,505.3 608.1,507.5 608.3,510.7 608.5,506.8 608.7,507.7 608.9,504 609.1,508.6 609.3,506.1 609.5,498.3 609.7,500.4 609.9,515.4 610.1,503.3 610.3,503.1 610.5,508.4 610.7,505.5 610.9,504.9 611.1,504.7 611.3,503.3 611.5,502.8 611.7,503.4 611.9,504.8 612.1,505.1 612.3,501.8 612.5,506 612.7,506.4 612.9,502.2 613.1,500 613.3,499.9 613.5,500 613.7,497.1 613.9,495.2 614.1,491.8 614.3,492.3 614.5,483.7 614.7,487.8 614.9,481.7 615.1,477.7 615.3,472 615.5,468.6 615.7,462.4 615.9,461.8 616.1,454.2 616.3,449.5 616.5,445.7 616.7,442.7 616.9,440.2 617.1,436.5 617.3,438.8 617.5,438 617.7,442 617.9,442.1 618.1,442.6 618.3,444.2 618.5,446.8 618.7,451.4 618.9,454.2 619.1,457.6 619.3,459.9 619.5,464.8 619.7,468.5 619.9,470.8 620.1,476.2 620.3,478.2 620.5,480.5 620.7,484.9 620.9,488.5 621.1,486.1 621.3,491.5 621.5,492.5 621.7,493.7 621.9,496.7 622.1,498.1 622.3,497.4 622.5,495.5 622.7,499.7 622.9,501 623.1,499.9 623.3,502.3 623.5,503.5 623.7,502.3 623.9,503.1 624.1,495.2 624.3,503.3 624.5,502.7 624.7,506.5 624.9,502.8 625.1,500.2 625.3,509.7 625.5,504 625.7,506.5 625.9,502.9 626.1,504.1 626.3,504.6 626.5,503.7 626.7,504.9 626.9,506.7 627.1,507.1 627.3,509.4 627.5,505.7 627.7,503.6 627.9,505.9 628.1,503 628.3,504.7 628.5,502.8 628.7,505.9 628.9,507.3 629.1,505.1 629.3,507.5 629.5,500.7 629.7,503.2 629.9,500.8 630.1,500.5 630.3,497.6 630.5,498.4 630.7,497.3 630.9,495.4 631.1,497.1 631.3,495.5 631.5,496.2 631.7,491.9 631.9,488.1 632.1,489.6 632.3,489.5 632.5,491.9 632.7,490.3 632.9,489.5 633.1,491 633.3,492 633.5,489.4 633.7,491.9 633.9,494.3 634.1,495.2 634.3,492.7 634.5,495.3 634.7,495.8 634.9,494.3 635.1,496.1 635.3,498 635.5,493.5 635.7,498.1 635.9,499.4 636.1,500.2 636.3,499.8 636.5,499.3 636.7,503.4 636.9,504.8 637.1,503.9 637.3,504.5 637.5,499.9 637.7,508.1 637.9,503.1 638.1,503.7 638.3,503.4 638.5,504.4 638.7,502.7 638.9,504.3 639.1,504.3 639.3,505.9 639.5,503.2 639.7,508.8 639.9,507.7 640.1,506.8 640.3,505.8 640.5,505.9 640.7,506.4 640.9,505.5 641.1,506.1 641.3,504.6 641.5,506.6 641.7,504.6 641.9,505.4 642.1,505.2 642.3,510.4 642.5,506.4 642.7,507.9 642.9,504.1 643.1,507.2 643.3,505.8 643.5,507.7 643.7,505.6 643.9,504.6 644.1,507.8 644.3,506.6 644.5,504.3 644.7,506.4 644.9,505 645.1,507.7 645.3,506.9 645.5,507.4 645.7,504 645.9,506.3 646.1,505.9 646.3,507.3 646.5,506.3 646.7,506.9 646.9,504.7 647.1,508.4 647.3,507.1 647.5,504.3 647.7,508.1 647.9,504.8 648.1,505.6 648.3,505.2 648.5,508.1 648.7,505.6 648.9,505.7 649.1,507 649.3,507.5 649.5,508.3 649.7,505.8 649.9,505.4 650.1,505.2 650.3,511.7 650.5,505.1 650.7,507.3 650.9,505.8 651.1,506.1 651.3,502.8 651.5,508.4 651.7,507.3 651.9,500.7 652.1,505.7 652.3,506.5 652.5,509.1 652.7,507.2 652.9,508.8 653.1,509.4 653.3,507.9 653.5,505.1 653.7,504.3 653.9,502.6 654.1,507.7 654.3,507.1 654.5,504.1 654.7,507.6 654.9,506.7 655.1,505.7 655.3,508 655.5,506.7 655.7,505.8 655.9,505.5 656.1,505.9 656.3,507.5 656.5,506.7 656.7,498.6 656.9,507.7 657.1,508.3 657.3,505 657.5,507.9 657.7,505.8 657.9,506.5 658.1,508.6 658.3,505 658.5,506.7 658.7,509.8 658.9,509.4 659.1,506 659.3,505.1 659.5,509 659.7,507.1 659.9,507 660.1,503.9 660.3,506.7 660.5,503.9 660.7,505.9 660.9,509.4 661.1,508.3 661.3,509 661.5,506.3 661.7,506.9 661.9,505.7 662.1,509.7 662.3,507.4 662.5,504.2 662.7,505.9 662.9,508.5 663.1,505.8 663.3,507.1 663.5,501.4 663.7,502 663.9,508.4 664.1,505 664.3,506.4 664.5,507.8 664.7,509.9 664.9,506.2 665.1,504.6 665.3,506.5 665.5,503.8 665.7,506.1 665.9,504.8 666.1,506.2 666.3,503.5 666.5,509.4 666.7,506.3 666.9,508.1 667.1,506.4 667.3,510.7 667.5,509.7 667.7,507.4 667.9,515.8 668.1,506.3 668.3,508.1 668.5,506.4 668.7,508.3 668.9,506.4 669.1,509.5 669.3,504.2 669.5,508.1 669.7,506.2 669.9,506.4 670.1,508 670.3,506.1 670.5,502.5 670.7,508.3 670.9,505.4 671.1,506.9 671.3,514.3 671.5,505.9 671.7,509.1 671.9,505.3 672.1,507.3 672.3,506.9 672.5,504.2 672.7,507.8 672.9,508 673.1,508.5 673.3,503 673.5,505.8 673.7,505.5 673.9,506.4 674.1,504.3 674.3,505.5 674.5,506.9 674.7,507.1 674.9,505.6 675.1,506.5 675.3,508.9 675.5,508.2 675.7,506 675.9,506.8 676.1,506.2 676.3,506.2 676.5,506.8 676.7,503.4 676.9,504 677.1,508.4 677.3,505.8 677.5,504.9 677.7,507.4 677.9,510 678.1,508.2 678.3,507.2 678.5,503.8 678.7,504 678.9,509.4 679.1,506.8 679.3,505.9 679.5,506.6 679.7,507.5 679.9,503.8 680.1,505.8 680.3,505.7 680.5,504 680.7,506.2 680.9,507.3 681.1,504.6 681.3,505.5 681.5,508.4 681.7,500.8 681.9,507.3 682.1,505.4 682.3,505.2 682.5,507.4 682.7,504.8 682.9,507.1 683.1,506.7 683.3,509.2 683.5,506.2 683.7,505.4 683.9,507.1 684.1,508.4 684.3,507.1 684.5,508.4 684.7,509.4 684.9,505.4 685.1,506.5 685.3,506.2 685.5,507.7 685.7,503.9 685.9,508.2 686.1,516.2 686.3,507.3 686.5,498 686.7,505.8 686.9,507.5 687.1,504.6 687.3,507.6 687.5,509.7 687.7,504.4 687.9,504.6 688.1,504.4 688.3,507.4 688.5,505.6 688.7,505.2 688.9,507.8 689.1,505.4 689.3,504 689.5,504.9 689.7,501.6 689.9,503.4 690.1,498.2 690.3,497.9 690.5,494 690.7,493.1 690.9,486.9 691.1,486.1 691.3,484.1 691.5,479 691.7,477.9 691.9,476.8 692.1,473.8 692.3,474.4 692.5,475.5 692.7,475.9 692.9,473.7 693.1,475 693.3,479.1 693.5,475.3 693.7,478.8 693.9,478.1 694.1,478.7 694.3,481.7 694.5,483.6 694.7,485.9 694.9,486.4 695.1,482.8 695.3,488.1 695.5,489.4 695.7,490.9 695.9,490.9 696.1,485.2 696.3,482.8 696.5,477.6 696.7,475.2 696.9,469.2 697.1,464.2 697.3,458.2 697.5,454.2 697.7,449.1 697.9,443.6 698.1,438.9 698.3,435.6 698.5,429.2 698.7,423.2 698.9,418.8 699.1,412.1 699.3,408.4 699.5,402.1 699.7,398.2 699.9,392.8 700.1,386.3 700.3,382.5 700.5,374 700.7,371.6 700.9,367.2 701.1,362.4 701.3,357.4 701.5,356.9 701.7,357.7 701.9,358 702.1,357.8 702.3,360.7 702.5,364 702.7,362.6 702.9,367.5 703.1,368.1 703.3,370.8 703.5,372.1 703.7,374.1 703.9,375.2 704.1,378.2 704.3,381.2 704.5,382.5 704.7,382.7 704.9,387 705.1,387.6 705.3,391 705.5,391.8 705.7,396.1 705.9,398.4 706.1,399.6 706.3,399.4 706.5,402.6 706.7,406.1 706.9,405.4 707.1,408.4 707.3,410.3 707.5,413 707.7,414.2 707.9,418.1 708.1,420.1 708.3,421.7 708.5,420.7 708.7,426.1 708.9,427.1 709.1,431 709.3,430.2 709.5,431 709.7,435.4 709.9,437.8 710.1,438.8 710.3,440.7 710.5,441.7 710.7,438.7 710.9,440.1 711.1,440 711.3,437.5 711.5,435.6 711.7,430.8 711.9,429.3 712.1,424.5 712.3,425.3 712.5,425.5 712.7,422.8 712.9,428.8 713.1,432.8 713.3,436.3 713.5,440 713.7,447.4 713.9,453.4 714.1,461.3 714.3,464.2 714.5,470.2 714.7,475.8 714.9,477.9 715.1,482.7 715.3,491.7 715.5,491.5 715.7,494.6 715.9,496.6 716.1,500.3 716.3,503.9 716.5,505.9 716.7,506 716.9,507.1 717.1,507 717.3,507.6 717.5,507.1 717.7,506 717.9,504 718.1,506.6 718.3,506.3 718.5,504.9 718.7,509.2 718.9,504.4 719.1,508.1 719.3,505.1 719.5,501.5 719.7,505.7 719.9,504.3 720.1,507.7 720.3,503.5 720.5,506.5 720.7,505.9 720.9,506.6 721.1,505.2 721.3,514.3 721.5,508.9 721.7,508 721.9,505.7 722.1,504.2 722.3,505.7 722.5,503.3 722.7,504.3 722.9,503.1 723.1,504.6 723.3,504.2 723.5,506.9 723.7,503.9 723.9,507.5 724.1,507 724.3,506 724.5,508 724.7,506.8 724.9,505.1 725.1,504.9 725.3,506.6 725.5,507.9 725.7,506 725.9,507.6 726.1,506.1 726.3,507.4 726.5,508.2 726.7,505.8 726.9,505.7 727.1,506.8 727.3,507.9 727.5,507 727.7,506.6 727.9,507.3 728.1,506.8 728.3,504.7 728.5,508.2 728.7,508.1 728.9,507.7 729.1,503.4 729.3,508 729.5,503.3 729.7,505.8 729.9,505.6 730.1,508.6 730.3,507.7 730.5,506 730.7,506.8 730.9,497.9 731.1,505.8 731.3,507.3 731.5,507.8 731.7,500.5 731.9,508.9 732.1,509.1 732.3,505.3 732.5,506.5 732.7,506.9 732.9,502.9 733.1,507.9 733.3,501.7 733.5,506.4 733.7,505.5 733.9,505.2 734.1,504.9 734.3,504.9 734.5,509.2 734.7,506 734.9,508.3 735.1,509.6 735.3,506.4 735.5,506.3 735.7,504.2 735.9,504.4 736.1,506.6 736.3,506.4 736.5,505.5 736.7,503.4 736.9,503.9 737.1,500.7 737.3,505.2 737.5,507.9 737.7,502.3 737.9,511 738.1,507.3 738.3,503.6 738.5,506.6 738.7,508.6 738.9,506.6 739.1,506.3 739.3,503.3 739.5,502.6 739.7,502.2 739.9,506.2 740.1,506 740.3,507.4 740.5,505.2 740.7,505.6 740.9,503.7 741.1,507.2 741.3,507.2 741.5,506 741.7,507.8 741.9,505.5 742.1,506.2 742.3,505.5 742.5,503.1 742.7,506.7 742.9,506.5 743.1,505.8 743.3,505.2 743.5,503.8 743.7,506 743.9,504.1 744.1,504.6 744.3,505.9 744.5,506.5 744.7,503.8 744.9,504.3 745.1,506.2 745.3,504.6 745.5,507.9 745.7,506.8 745.9,505.5 746.1,503.5 746.3,503.8 746.5,505.6 746.7,502.6 746.9,503.4 747.1,504.6 747.3,505.9 747.5,501.6 747.7,504.4 747.9,504.9 748.1,508.4 748.3,505 748.5,504.9 748.7,504.3 748.9,504.5 749.1,504.8 749.3,503.7 749.5,504.4 749.7,506.3 749.9,502.7 750.1,507.1 750.3,505.3 750.5,500.8 750.7,501.6 750.9,500.4 751.1,495.4 751.3,502.6 751.5,501.2 751.7,499.8 751.9,499.9 752.1,499.2 752.3,501.5 752.5,494.1 752.7,502.2 752.9,502.9 753.1,499.3 753.3,496.7 753.5,502.3 753.7,500.3 753.9,497 754.1,499.6 754.3,502.6 754.5,498.7 754.7,503.7 754.9,500.5 755.1,502.6 755.3,502.9 755.5,499.9 755.7,502.7 755.9,505.3 756.1,502.2 756.3,501.9 756.5,504.2 756.7,501.6 756.9,506.6 757.1,506.2 757.3,501.5 757.5,501.6 757.7,503 757.9,502.8 758.1,505 758.3,505.4 758.5,505.8 758.7,504.4 758.9,504.8 759.1,503.4 759.3,504 759.5,507.3 759.7,508.7 759.9,504.2 760.1,505.6 760.3,504.4 760.5,503.2 760.7,502.5 760.9,504.2 761.1,499.3 761.3,501.4 761.5,507 761.7,503.2 761.9,503.2 762.1,504.8 762.3,507.7 762.5,503.3 762.7,507.1 762.9,503.5 763.1,506 763.3,505 763.5,508.3 763.7,503.6 763.9,508.7 764.1,503.2 764.3,503.8 764.5,505.5 764.7,505.1 764.9,502.6 765.1,505.7 765.3,509.3 765.5,504.2 765.7,507.4 765.9,505.5 766.1,506 766.3,503.7 766.5,497.4 766.7,497.3 766.9,495.4 767.1,492.2 767.3,484.9 767.5,482.8 767.7,482.3 767.9,476.9 768.1,476.3 768.3,471.5 768.5,468.5 768.7,464.4 768.9,463.4 769.1,458.3 769.3,457.1 769.5,452.5 769.7,450.9 769.9,449.2 770.1,444.9 770.3,443.1 770.5,439.2 770.7,435.9 770.9,434.3 771.1,431.6 771.3,427.5 771.5,423.3 771.7,422.4 771.9,418.1 772.1,414.2 772.3,412.5 772.5,408.4 772.7,405.5 772.9,402.2 773.1,399.8 773.3,398.1 773.5,392.2 773.7,391.6 773.9,388.1 774.1,383.9 774.3,379.8 774.5,377 774.7,378.7 774.9,381.9 775.1,389.1 775.3,388 775.5,389 775.7,392.7 775.9,394.8 776.1,399.3 776.3,400.9 776.5,401.9 776.7,405.1 776.9,406.3 777.1,409.9 777.3,413.6 777.5,414.2 777.7,417 777.9,418.7 778.1,422.1 778.3,425.3 778.5,425.8 778.7,430.3 778.9,431.5 779.1,436.9 779.3,437.1 779.5,440.3 779.7,440.8 779.9,445.8 780.1,451.9 780.3,449.5 780.5,455 780.7,454.9 780.9,457.1 781.1,461.3 781.3,462.1 781.5,465.6 781.7,466.9 781.9,468.9 782.1,474.2 782.3,475.3 782.5,478.6 782.7,481 782.9,482.3 783.1,485.3 783.3,486.4 783.5,488.8 783.7,492.3 783.9,491.2 784.1,496.6 784.3,497.4 784.5,501.1 784.7,500.4 784.9,503.9 785.1,502.8 785.3,500.3 785.5,502.2 785.7,498.9 785.9,498 786.1,503 786.3,502.2 786.5,498.9 786.7,499.8 786.9,498.2 787.1,499.7 787.3,495.6 787.5,493.2 787.7,493.4 787.9,493.5 788.1,492.9 788.3,489.5 788.5,489.7 788.7,483.8 788.9,483.1 789.1,478.1 789.3,474.5 789.5,469.1 789.7,464.3 789.9,457.3 790.1,444.8 790.3,436.2 790.5,424.8 790.7,410.2 790.9,395.8 791.1,379.3 791.3,362.2 791.5,342.2 791.7,324.7 791.9,306.3 792.1,287.7 792.3,271.7 792.5,260.6 792.7,252.4 792.9,251.9 793.1,252.2 793.3,256.1 793.5,262.3 793.7,271.2 793.9,284 794.1,294.5 794.3,309.5 794.5,323.6 794.7,336.4 794.9,350 795.1,367.1 795.3,376.9 795.5,389.9 795.7,399.4 795.9,413.7 796.1,423.7 796.3,434.4 796.5,441.5 796.7,448.5 796.9,451.4 797.1,461.6 797.3,465.8 797.5,471.1 797.7,473.2 797.9,477.3 798.1,479.6 798.3,483.4 798.5,483.8 798.7,486.5 798.9,492.9 799.1,493.4 799.3,490.9 799.5,495 799.7,491.2 799.9,494.9 800.1,494 800.3,497.4 800.5,496 800.7,497.5 800.9,498 801.1,498.1 801.3,501.1 801.5,500.4 801.7,503.6 801.9,501.5 802.1,501.5 802.3,499.8 802.5,500 802.7,502.7 802.9,501.4 803.1,503.7 803.3,503.3 803.5,501.5 803.7,502.1 803.9,504.8 804.1,504.7 804.3,505.9 804.5,502.3 804.7,504.2 804.9,502.9 805.1,508 805.3,503.9 805.5,504.3 805.7,503.8 805.9,503 806.1,505.4 806.3,503.7 806.5,504.9 806.7,505.5 806.9,504.8 807.1,503.9 807.3,506 807.5,505.1 807.7,503.2 807.9,501.5 808.1,503.2 808.3,505.3 808.5,507.4 808.7,504.3 808.9,505.7 809.1,503.7 809.3,506.7 809.5,506.5 809.7,506.1 809.9,505.7 810.1,509 810.3,504.8 810.5,504.1 810.7,505.5 810.9,506.1 811.1,505.2 811.3,505.6 811.5,507.6 811.7,504.2 811.9,507.7 812.1,504.9 812.3,507.4 812.5,508 812.7,506.1 812.9,505.2 813.1,507.5 813.3,503.6 813.5,507 813.7,503.2 813.9,506.1 814.1,505.6 814.3,507.9 814.5,505.3 814.7,508.3 814.9,506 815.1,509.6 815.3,505.7 815.5,505.5 815.7,504.5 815.9,500.9 816.1,505.5 816.3,508 816.5,505.9 816.7,504.3 816.9,508.9 817.1,508.8 817.3,506.1 817.5,508.2 817.7,503.5 817.9,507.9 818.1,506 818.3,504.3 818.5,506 818.7,510.6 818.9,502.2 819.1,505.5 819.3,506.3 819.5,506.7 819.7,507.7 819.9,505 820.1,504.1 820.3,506.3 820.5,506.1 820.7,509.8 820.9,504.7 821.1,507 821.3,505 821.5,507.9 821.7,505.9 821.9,506.9 822.1,505.8 822.3,508.1 822.5,510.6 822.7,507.4 822.9,508 823.1,506 823.3,501.2 823.5,504.4 823.7,506.6 823.9,505.3 824.1,506.1 824.3,502.8 824.5,504.9 824.7,498.2 824.9,504.7 825.1,508 825.3,504.8 825.5,507.4 825.7,506.8 825.9,504.6 826.1,504 826.3,504.9 826.5,506.9 826.7,503.1 826.9,505.6 827.1,510.7 827.3,508 827.5,504.3 827.7,505.3 827.9,504.8 828.1,501.9 828.3,505.7 828.5,501.2 828.7,505.6 828.9,501.8 829.1,502.6 829.3,502.6 829.5,502.4 829.7,499.2 829.9,498 830.1,495.4 830.3,497.1 830.5,489.9 830.7,492.3 830.9,489.9 831.1,489.4 831.3,490.1 831.5,483.9 831.7,485.3 831.9,482.9 832.1,484.5 832.3,482.7 832.5,483.3 832.7,485.3 832.9,479.3 833.1,479.8 833.3,481.3 833.5,482.4 833.7,481.2 833.9,483.1 834.1,482.5 834.3,481.2 834.5,483.1 834.7,483.3 834.9,483.1 835.1,483.8 835.3,484.1 835.5,485.9 835.7,483.5 835.9,487.3 836.1,487 836.3,486.2 836.5,486.9 836.7,487.2 836.9,486.1 837.1,486.9 837.3,489.5 837.5,489.7 837.7,489.8 837.9,491.8 838.1,489.7 838.3,491.3 838.5,493.2 838.7,494.2 838.9,493.1 839.1,493.4 839.3,492.5 839.5,496.1 839.7,495.7 839.9,495.7 840.1,495.2 840.3,498 840.5,497.6 840.7,498.3 840.9,499.4 841.1,498 841.3,497 841.5,497.3 841.7,500.5 841.9,499.2 842.1,501.6 842.3,499 842.5,498.6 842.7,505.2 842.9,499.7 843.1,505 843.3,503.5 843.5,502.2 843.7,503 843.9,503.3 844.1,505.9 844.3,503.1 844.5,504.2 844.7,506.1 844.9,502 845.1,501.7 845.3,503.8 845.5,503.4 845.7,505.5 845.9,504.1 846.1,504.4 846.3,508.5 846.5,504.4 846.7,508.9 846.9,506.8 847.1,504.9 847.3,509.2 847.5,505.3 847.7,506.3 847.9,503.5 848.1,503.1 848.3,507.7 848.5,504.4 848.7,503.5 848.9,503.8 849.1,506.5 849.3,504.5 849.5,503.8 849.7,501.1 849.9,504 850.1,505.7 850.3,508.1 850.5,504.3 850.7,508.9 850.9,506.4 851.1,504.5 851.3,506.4 851.5,507.3 851.7,506.6 851.9,508.4 852.1,505.3 852.3,507.9 852.5,504.9 852.7,503.5 852.9,505 853.1,504.8 853.3,506.5 853.5,505.2 853.7,506.2 853.9,504.2 854.1,504.9 854.3,505.9 854.5,501.2 854.7,504.3 854.9,505.4 855.1,503.9 855.3,503.6 855.5,505.3 855.7,503.5 855.9,504 856.1,507.2 856.3,504.6 856.5,503.6 856.7,503.8 856.9,507.1 857.1,502.6 857.3,505.7 857.5,508.1 857.7,504.5 857.9,506.8 858.1,495.7 858.3,503.1 858.5,503.2 858.7,506 858.9,504.6 859.1,506.2 859.3,503.7 859.5,504.3 859.7,507.8 859.9,506 860.1,502 860.3,504.5 860.5,502.7 860.7,505 860.9,502.9 861.1,506.1 861.3,504.9 861.5,505.8 861.7,504.5 861.9,505.3 862.1,505 862.3,501.3 862.5,506.7 862.7,505.3 862.9,503.9 863.1,503.1 863.3,510.5 863.5,507.7 863.7,505.7 863.9,503.1 864.1,506 864.3,503.2 864.5,504.4 864.7,506.4 864.9,506.9 865.1,504.7 865.3,501.5 865.5,504.3 865.7,505.2 865.9,501.9 866.1,504.3 866.3,501.7 866.5,506.4 866.7,503 866.9,506.2 867.1,509.4 867.3,507.4 867.5,506 867.7,505.1 867.9,504.2 868.1,504.1 868.3,504 868.5,506 868.7,504.2 868.9,506 869.1,503.7 869.3,504 869.5,501.8 869.7,501.3 869.9,504.8 870.1,503.5 870.3,504.8 870.5,504 870.7,504.2 870.9,504.5 871.1,501.2 871.3,504 871.5,505 871.7,504.3 871.9,505 872.1,501.1 872.3,505.7 872.5,505.1 872.7,505 872.9,504.4 873.1,504.6 873.3,505.1 873.5,502.8 873.7,501.9 873.9,503.8 874.1,500.6 874.3,503.3 874.5,501.1 874.7,501.5 874.9,501.2 875.1,503.5 875.3,500 875.5,503.6 875.7,500.7 875.9,500.2 876.1,503.5 876.3,500.9 876.5,497.9 876.7,500.3 876.9,501.4 877.1,502.2 877.3,498.1 877.5,499.8 877.7,503.8 877.9,499.9 878.1,497.8 878.3,503.4 878.5,502.5 878.7,501.9 878.9,504.3 879.1,502.2 879.3,498 879.5,501.7 879.7,499.8 879.9,494.1 880.1,500.1 880.3,500.2 880.5,506 880.7,501.7 880.9,502.9 881.1,501.3 881.3,501.9 881.5,502 881.7,502.3 881.9,502.2 882.1,502 882.3,501.2 882.5,505.9 882.7,504.9 882.9,504.2 883.1,504 883.3,502.3 883.5,506.4 883.7,503.5 883.9,503.9 884.1,503.8 884.3,505.3 884.5,506.8 884.7,503.1 884.9,502.4 885.1,505.4 885.3,507.6 885.5,508.6 885.7,507.9 885.9,508.2 886.1,504.6 886.3,505.7 886.5,507.2 886.7,503.7 886.9,508.1 887.1,503 887.3,502.9 887.5,505.4 887.7,503.9 887.9,504.1 888.1,505.3 888.3,504.7 888.5,504.8 888.7,504.6 888.9,506.6 889.1,505.7 889.3,505.5 889.5,503.9 889.7,504.6 889.9,507.3 890.1,505.4 890.3,505.8 890.5,504.5 890.7,503.3 890.9,504.3 891.1,505.1 891.3,504.7 891.5,507.4 891.7,503.9 891.9,505.5 892.1,495.3 892.3,505.3 892.5,506 892.7,506.8 892.9,502.9 893.1,505.7 893.3,503.1 893.5,506.1 893.7,500.9 893.9,502.3 894.1,503 894.3,504.8 894.5,502.6 894.7,503.6 894.9,502 895.1,502.2 895.3,500.3 895.5,499.5 895.7,499.4 895.9,498.7 896.1,497.5 896.3,496.5 896.5,498.2 896.7,496.9 896.9,496 897.1,496.5 897.3,495.7 897.5,500.8 897.7,496.6 897.9,498.8 898.1,499.9 898.3,497.6 898.5,500 898.7,499.4 898.9,497.8 899.1,501.5 899.3,502.1 899.5,505.2 899.7,503.3 899.9,501.7 900.1,504.1 900.3,500 900.5,502 900.7,499.4 900.9,504.8 901.1,503.6 901.3,501 901.5,505.8 901.7,505.6 901.9,505.8 902.1,506.3 902.3,503.8 902.5,504.1 902.7,510.4 902.9,502.1 903.1,502.5 903.3,505.9 903.5,505.4 903.7,504.9 903.9,509.4 904.1,506.2 904.3,505.9 904.5,506.8 904.7,506.4 904.9,505.5 905.1,504 905.3,506.4 905.5,505.6 905.7,507.7 905.9,505.2 906.1,505 906.3,507.9 906.5,507.7 906.7,504.8 906.9,504.7 907.1,505.8 907.3,505.9 907.5,506.6 907.7,506.7 907.9,510.6 908.1,506.3 908.3,505.1 908.5,508 908.7,506.8 908.9,505.8 909.1,508.6 909.3,503.4 909.5,507 909.7,510.3 909.9,505.5 910.1,507.1 910.3,507.2 910.5,497.1 910.7,505.6 910.9,505.9 911.1,508.1 911.3,506.6 911.5,506.1 911.7,505 911.9,506.3 912.1,504.5 912.3,508.8 912.5,510.7 912.7,507.5 912.9,505.4 913.1,508.4 913.3,504.5 913.5,508.2 913.7,512.5 913.9,508.8 914.1,506.4 914.3,507.8 914.5,509.2 914.7,507.1 914.9,509.6 915.1,506.5 915.3,506.8 915.5,509.5 915.7,506.3 915.9,507 916.1,505.7 916.3,505.2 916.5,508.8 916.7,507.5 916.9,506.2 917.1,506.2 917.3,506.9 917.5,508.3 917.7,507.8 917.9,509.9 918.1,505 918.3,510.1 918.5,505.9 918.7,506.8 918.9,506.1 919.1,508.6 919.3,507.2 919.5,507.7 919.7,508.4 919.9,506.2 920.1,507.2 920.3,510.4 920.5,508 920.7,507.9 920.9,500.7 921.1,503.4 921.3,507 921.5,507.4 921.7,508.3 921.9,505.5 922.1,504.4 922.3,507.6 922.5,508.6 922.7,505.3 922.9,506.6 923.1,508.2 923.3,505.1 923.5,505.5 923.7,506 923.9,505 924.1,508.5 924.3,510.1 924.5,507.9 924.7,505.8 924.9,504.5 925.1,505.8 925.3,505.9 925.5,504.2 925.7,505.2 925.9,507.7 926.1,506.6 926.3,502.1 926.5,507.2 926.7,507.3 926.9,507.3 927.1,511.4 927.3,503.7 927.5,507.1 927.7,508.2 927.9,503.7 928.1,506.4 928.3,506.4 928.5,504.8 928.7,509.3 928.9,507.8 929.1,508.6 929.3,510.7 929.5,504 929.7,510.3 929.9,505 930.1,507.1 930.3,505.9 930.5,508.9 930.7,505.4 930.9,507.2 931.1,507.9 931.3,506.5 931.5,508.2 931.7,509.7 931.9,510.2 932.1,503 932.3,507.1 932.5,508.3 932.7,507.4 932.9,509.2 933.1,506.8 933.3,508.5 933.5,504.8 933.7,504.8 933.9,504 934.1,507.9 934.3,507.6 934.5,509.1 934.7,507 934.9,507.4 935.1,505.7 935.3,509 935.5,507.1 935.7,507.1 935.9,509.7 936.1,507.3 936.3,507.7 936.5,507.3 936.7,508 936.9,507.6 937.1,508.1 937.3,504.2 937.5,506.7 937.7,507.6 937.9,506.5 938.1,504 938.3,508.5 938.5,506.8 938.7,508.8 938.9,503.3 939.1,504.4 939.3,505.9 939.5,506 939.7,503.1 939.9,504.2 940.1,505.1 940.3,506.9 940.5,506.8 940.7,505.9 940.9,505.5 941.1,506.3 941.3,506.9 941.5,508.3 941.7,505.5 941.9,506.2 942.1,508.9 942.3,503.8 942.5,505.5 942.7,505.8 942.9,506.3 943.1,506.8 943.3,502.9 943.5,505.4 943.7,508.3 943.9,504.9 944.1,506.6 944.3,506.8 944.5,505.9"/>
<rect x="100.5" y="7.6" width="844" height="562.7" fill="none" stroke="#000" stroke-width="3"/>
<path d="M100.5 570.3v-11.7M160.8 570.3v-6.3M221.1 570.3v-11.7M281.4 570.3v-6.3M341.6 570.3v-11.7M401.9 570.3v-6.3M462.2 570.3v-11.7M522.5 570.3v-6.3M582.8 570.3v-11.7M643.1 570.3v-6.3M703.4 570.3v-11.7M763.6 570.3v-6.3M823.9 570.3v-11.7M884.2 570.3v-6.3M944.5 570.3v-11.7" stroke="#000" stroke-width="2.8" fill="none"/>
<g font-family='"Liberation Serif","Times New Roman",serif' font-size="24.6" text-anchor="middle">
<text x="100.2" y="600.9">20</text>
<text x="220.7" y="600.9">30</text>
<text x="341.3" y="600.9">40</text>
<text x="461.9" y="600.9">50</text>
<text x="582.4" y="600.9">60</text>
<text x="703" y="600.9">70</text>
<text x="823.6" y="600.9">80</text>
<text x="944.1" y="600.9">90</text>
</g>
<text x="522.5" y="642.1" font-family='"Liberation Serif","Times New Roman",serif' font-size="24.6" text-anchor="middle">2Theta (Degree)</text>
<text transform="translate(73.2 304.6) rotate(-90)" font-family='"Liberation Serif","Times New Roman",serif' font-size="24.9" text-anchor="middle">Intensity (a.u)</text>
<text transform="translate(1.5 62) scale(1.05 1)" font-family='"Liberation Serif","Times New Roman",serif' font-size="85" font-weight="bold">(a)</text>
<g font-family='"Liberation Serif","Times New Roman",serif' font-size="25.1" letter-spacing="0.8">
<text transform="translate(785.9 59.8) scale(0.93 1)" xml:space="preserve">A : TiO<tspan dy="10" font-size="14">2</tspan></text>
<text transform="translate(785.9 98.7) scale(0.93 1)" xml:space="preserve">B : Ti<tspan dy="10" font-size="14">2</tspan><tspan dy="-10">O</tspan></text>
<text transform="translate(785.9 137.5) scale(0.93 1)" xml:space="preserve">C : Ti</text>
</g>
<g font-family='"Liberation Serif","Times New Roman",serif' font-size="25.1" text-anchor="middle"><text transform="translate(342.7 58.2) scale(0.93 1)">B</text><text transform="translate(190.1 184.5) scale(0.93 1)">A</text><text transform="translate(311.2 301.6) scale(0.93 1)">B</text><text transform="translate(285.1 389) scale(0.93 1)">B</text><text transform="translate(297.9 427.9) scale(0.93 1)">A</text><text transform="translate(331 441.3) scale(0.93 1)">A</text><text transform="translate(358.6 468.9) scale(0.93 1)">A</text><text transform="translate(394.5 472.3) scale(0.93 1)">A</text><text transform="translate(486.7 475.3) scale(0.93 1)">B</text><text transform="translate(517.2 431.8) scale(0.93 1)">A</text><text transform="translate(541 461.8) scale(0.93 1)">A</text><text transform="translate(551.2 492) scale(0.93 1)">B</text><text transform="translate(614 402.3) scale(0.93 1)">A</text><text transform="translate(614 427.9) scale(0.93 1)">B</text><text transform="translate(633.7 476.6) scale(0.93 1)">A</text><text transform="translate(690.8 466.4) scale(0.93 1)">B</text><text transform="translate(697.8 414.6) scale(0.93 1)">A</text><text transform="translate(701.9 356.2) scale(0.93 1)">A</text><text transform="translate(788.4 381.3) scale(0.93 1)">B</text><text transform="translate(856.1 495.3) scale(0.93 1)">A</text><text transform="translate(877.1 501.7) scale(0.93 1)">A</text><text transform="translate(939.3 507.3) scale(0.93 1)">A</text></g>
<g font-family='"Liberation Sans",Arial,sans-serif' font-size="23.0" text-anchor="middle" stroke="#000" stroke-width="0.5"><text x="342.7" y="83.1">C</text><text x="317.6" y="124.8">C</text><text x="492.3" y="338.7">C</text><text x="283.3" y="411.3">C</text><text x="614.8" y="450.5">C</text><text x="897" y="491.5">C</text><text x="795.3" y="248.6">C</text></g>
</g>
<g id="panel-b">
<clipPath id="clip1"><rect x="1173" y="7.6" width="847" height="562.7"/></clipPath>
<polyline clip-path="url(#clip1)" fill="none" stroke="#000" stroke-opacity="1" stroke-width="0.64" stroke-linejoin="round" points="1173,484.6 1173.2,482.8 1173.4,487.3 1173.6,484.6 1173.8,484.1 1174,483.1 1174.2,486.4 1174.4,483.1 1174.6,486 1174.8,482.1 1175,484.9 1175.2,484.5 1175.4,485.9 1175.6,486.3 1175.8,483.5 1176,487.2 1176.2,486.5 1176.4,480.3 1176.6,488 1176.8,487.8 1177,488.5 1177.2,482.6 1177.4,484.1 1177.6,485.7 1177.8,487 1178,488.8 1178.2,481 1178.4,486.3 1178.6,483.5 1178.8,485.4 1179,489.7 1179.2,482.3 1179.4,486.4 1179.6,485.4 1179.8,484.1 1180,490 1180.2,485.9 1180.4,485.2 1180.6,485.6 1180.8,483.8 1181,486.6 1181.2,484.6 1181.4,483.7 1181.6,489.3 1181.8,489.4 1182,484.7 1182.2,482.3 1182.4,486.4 1182.6,483.8 1182.8,484.5 1183,486.9 1183.2,486.6 1183.4,484.5 1183.6,486.7 1183.8,487.9 1184,485.7 1184.2,484.3 1184.4,486.9 1184.6,483.3 1184.8,486.8 1185,486.1 1185.2,489.7 1185.4,483.7 1185.6,490.5 1185.8,490.2 1186,486.3 1186.2,485.5 1186.4,478.5 1186.6,487 1186.8,488 1187,487.5 1187.2,486.2 1187.4,483.7 1187.6,485.5 1187.8,486.9 1188,486.8 1188.2,487.6 1188.4,484.9 1188.6,483 1188.8,483.6 1189,484.6 1189.2,485.1 1189.4,484.4 1189.6,483.9 1189.8,479 1190,479.2 1190.2,479.8 1190.4,478.4 1190.6,478.4 1190.8,474.7 1191,477 1191.2,471.9 1191.4,475.3 1191.6,478.8 1191.8,476.4 1192,478.8 1192.2,478 1192.4,481.6 1192.6,480.9 1192.8,479.2 1193,485.2 1193.2,479.7 1193.4,484.1 1193.6,491.2 1193.8,483.8 1194,485.3 1194.2,486.4 1194.4,485.5 1194.6,490.5 1194.8,485.5 1195,487.4 1195.2,489.5 1195.4,488.8 1195.6,491.1 1195.8,485.8 1196,488 1196.2,488.7 1196.4,490.5 1196.6,487.2 1196.8,488.8 1197,492.2 1197.2,489.7 1197.4,489.8 1197.6,489 1197.8,491.3 1198,486.3 1198.2,488.1 1198.4,488.4 1198.6,489.6 1198.8,489.5 1199,486 1199.2,490 1199.4,488.4 1199.6,494.7 1199.8,489.3 1200,491.5 1200.2,489 1200.4,489.7 1200.6,488.7 1200.8,491.8 1201,492.6 1201.2,488.3 1201.4,491.3 1201.6,494.7 1201.8,490.5 1202,494.1 1202.2,493.9 1202.4,489.4 1202.6,491.9 1202.8,490.8 1203,490.3 1203.2,493.6 1203.4,492.5 1203.6,496.7 1203.8,492.3 1204,490.3 1204.2,488.1 1204.4,491.8 1204.6,489.4 1204.8,493.6 1205,493.9 1205.2,488.8 1205.4,490.6 1205.6,493.6 1205.8,490.2 1206,494.7 1206.2,491.7 1206.4,492.5 1206.6,492.2 1206.8,493.2 1207,490.6 1207.2,486.6 1207.4,491.3 1207.6,494.2 1207.8,493.4 1208,491.9 1208.2,493.1 1208.4,496.9 1208.6,492.5 1208.8,492 1209,494 1209.2,491.8 1209.4,490.5 1209.6,495.9 1209.8,490.8 1210,496.6 1210.2,493.6 1210.4,488.5 1210.6,496.3 1210.8,492.9 1211,493.9 1211.2,490.7 1211.4,494.1 1211.6,490.3 1211.8,494.4 1212,495 1212.2,494.1 1212.4,495.8 1212.6,493.9 1212.8,492.1 1213,493 1213.2,495.8 1213.4,490.1 1213.6,494.4 1213.8,491.6 1214,497.7 1214.2,490.2 1214.4,489.7 1214.6,492.2 1214.8,495.4 1215,492.5 1215.2,494.8 1215.4,491.4 1215.6,493.6 1215.8,495.6 1216,494.7 1216.2,494.1 1216.4,493.1 1216.6,496.2 1216.8,497.5 1217,497 1217.2,492.2 1217.4,490.2 1217.6,493.1 1217.8,493.9 1218,495.4 1218.2,499.7 1218.4,495.7 1218.6,495.2 1218.8,493.1 1219,496.6 1219.2,492.6 1219.4,496.7 1219.6,497 1219.8,494.1 1220,498.5 1220.2,499.5 1220.4,494.2 1220.6,496.9 1220.8,494.7 1221,501.2 1221.2,497.3 1221.4,496.2 1221.6,493.3 1221.8,494.3 1222,500.6 1222.2,493.2 1222.4,493.8 1222.6,495.2 1222.8,494.9 1223,496.6 1223.2,499.5 1223.4,495.5 1223.6,499 1223.8,493.8 1224,497.2 1224.2,496.4 1224.4,500.5 1224.6,493.3 1224.8,499.2 1225,496.3 1225.2,496.8 1225.4,497.3 1225.6,499.7 1225.8,500.7 1226,497.2 1226.2,495.7 1226.4,495.3 1226.6,492.8 1226.8,495 1227,498.6 1227.2,492.9 1227.4,494.7 1227.6,495.9 1227.8,495.8 1228,495.5 1228.2,495.1 1228.4,496.8 1228.6,499.5 1228.8,498.3 1229,497.3 1229.2,495.1 1229.4,500.5 1229.6,497.7 1229.8,495.7 1230,495.2 1230.2,497.7 1230.4,496 1230.6,496 1230.8,497.3 1231,497 1231.2,493 1231.4,500.2 1231.6,498 1231.8,497.3 1232,502.4 1232.2,500.2 1232.4,495.6 1232.6,498.4 1232.8,495.5 1233,497.5 1233.2,497.8 1233.4,497 1233.6,498.5 1233.8,496.9 1234,499.1 1234.2,496.6 1234.4,499.5 1234.6,495.3 1234.8,500.9 1235,500.6 1235.2,499.7 1235.4,497.9 1235.6,491.1 1235.8,497.8 1236,498.1 1236.2,497.4 1236.4,498.5 1236.6,498.9 1236.8,497.3 1237,495.6 1237.2,500.9 1237.4,496 1237.6,498.1 1237.8,498 1238,498.6 1238.2,497.6 1238.4,499.7 1238.6,500.3 1238.8,499.9 1239,499.4 1239.2,495.8 1239.4,504.2 1239.6,499.3 1239.8,495.2 1240,497.7 1240.2,501.6 1240.4,495 1240.6,499.1 1240.8,498 1241,501.7 1241.2,499.7 1241.4,498.5 1241.6,499.2 1241.8,496.2 1242,502.6 1242.2,500.5 1242.4,508.4 1242.6,497.9 1242.8,499.9 1243,497.9 1243.2,497.5 1243.4,500.4 1243.6,498.8 1243.8,499.5 1244,500.3 1244.2,497.4 1244.4,501.3 1244.6,500.2 1244.8,496.6 1245,496.4 1245.2,498.7 1245.4,498.3 1245.6,497.4 1245.8,498.2 1246,495.2 1246.2,498 1246.4,499.2 1246.6,501.2 1246.8,501.6 1247,497.1 1247.2,498.5 1247.4,497.5 1247.6,498.5 1247.8,496.4 1248,500.9 1248.2,500.3 1248.4,497.9 1248.6,498.9 1248.8,499.5 1249,497.7 1249.2,499.7 1249.4,492.4 1249.6,497.6 1249.8,499.4 1250,500.3 1250.2,498.5 1250.4,502 1250.6,501.7 1250.8,498 1251,500 1251.2,498.3 1251.4,496 1251.6,499.7 1251.8,499.3 1252,497.1 1252.2,498.5 1252.4,499.1 1252.6,497.5 1252.8,498.9 1253,496.8 1253.2,498.1 1253.4,498.3 1253.6,500.7 1253.8,493.4 1254,499.4 1254.2,497.7 1254.4,499 1254.6,489.1 1254.8,496.2 1255,497.6 1255.2,494.7 1255.4,498.6 1255.6,494.4 1255.8,494 1256,495.3 1256.2,495.1 1256.4,494 1256.6,494.9 1256.8,495.2 1257,492.3 1257.2,491.6 1257.4,493.9 1257.6,491.3 1257.8,494.2 1258,494.7 1258.2,493.3 1258.4,496.9 1258.6,491.3 1258.8,489.2 1259,493.1 1259.2,490.3 1259.4,488.1 1259.6,484 1259.8,489.3 1260,489.1 1260.2,485.9 1260.4,483.5 1260.6,483.2 1260.8,483.3 1261,479.4 1261.2,473.7 1261.4,460.7 1261.6,434.9 1261.8,380.8 1262,285.1 1262.2,121.4 1262.4,-128.2 1262.6,-487.2 1262.8,-947.6 1263,-1487.8 1263.2,-2045.8 1263.4,-2537.7 1263.6,-2880.3 1263.8,-3000.4 1264,-2932.3 1264.2,-2734.7 1264.4,-2436.8 1264.6,-2063.9 1264.8,-1651.3 1265,-1239 1265.2,-852.1 1265.4,-511.4 1265.6,-229.3 1265.8,-8.3 1266,155.8 1266.2,274.9 1266.4,355.7 1266.6,409 1266.8,443.6 1267,463.4 1267.2,472.8 1267.4,478.7 1267.6,485.3 1267.8,486.2 1268,488.3 1268.2,491.7 1268.4,490.6 1268.6,491.4 1268.8,491.5 1269,487.5 1269.2,493.4 1269.4,495.2 1269.6,497.6 1269.8,498.6 1270,493.9 1270.2,495.9 1270.4,491 1270.6,497.1 1270.8,495.2 1271,497.8 1271.2,498.7 1271.4,498.9 1271.6,501.7 1271.8,500 1272,498 1272.2,497.9 1272.4,498.6 1272.6,498.4 1272.8,499.7 1273,501.2 1273.2,499.3 1273.4,497 1273.6,497.2 1273.8,501 1274,504.5 1274.2,501.4 1274.4,496.1 1274.6,502 1274.8,505.3 1275,501 1275.2,500.5 1275.4,502.9 1275.6,499.8 1275.8,499.3 1276,503.2 1276.2,499.7 1276.4,502.4 1276.6,500.3 1276.8,497.4 1277,499.7 1277.2,502.2 1277.4,501.5 1277.6,501.4 1277.8,500.9 1278,499.6 1278.2,503.7 1278.4,503.4 1278.6,503.8 1278.8,500.2 1279,502.8 1279.2,499.2 1279.4,504.6 1279.6,505.3 1279.8,502.7 1280,502.8 1280.2,503.6 1280.4,507 1280.6,500.8 1280.8,504.5 1281,504.4 1281.2,502.5 1281.4,500.9 1281.6,502.4 1281.8,502.7 1282,504.8 1282.2,500.2 1282.4,500.9 1282.6,503.4 1282.8,506.6 1283,501.3 1283.2,504 1283.4,503.2 1283.6,504.4 1283.8,504.2 1284,505.3 1284.2,504.2 1284.4,503 1284.6,506.4 1284.8,504.3 1285,505.6 1285.2,505.2 1285.4,505.3 1285.6,503.3 1285.8,503.9 1286,504 1286.2,504.9 1286.4,506.6 1286.6,507.2 1286.8,503.7 1287,504.4 1287.2,504.7 1287.4,507.9 1287.6,503.5 1287.8,505.1 1288,501.1 1288.2,505.8 1288.4,503.7 1288.6,505.2 1288.8,506.9 1289,503.4 1289.2,502 1289.4,506.5 1289.6,504.7 1289.8,506.6 1290,508.2 1290.2,504.1 1290.4,503.8 1290.6,504.6 1290.8,503 1291,504.5 1291.2,507.6 1291.4,504.4 1291.6,503.4 1291.8,506.4 1292,506.7 1292.2,506.8 1292.4,505.8 1292.6,504.7 1292.8,501.9 1293,504.1 1293.2,504.8 1293.4,503.6 1293.6,509.5 1293.8,506.7 1294,507.2 1294.2,507 1294.4,506.3 1294.6,508.5 1294.8,507.2 1295,510.8 1295.2,507.9 1295.4,502.9 1295.6,504.2 1295.8,505.4 1296,504.9 1296.2,504 1296.4,505.5 1296.6,502.1 1296.8,504.6 1297,507.9 1297.2,505.6 1297.4,511 1297.6,504.1 1297.8,506.3 1298,505.3 1298.2,505.4 1298.4,508.3 1298.6,507.3 1298.8,504.9 1299,505.1 1299.2,512.2 1299.4,505.3 1299.6,506.2 1299.8,508.9 1300,502.4 1300.2,506.6 1300.4,506.4 1300.6,508.6 1300.8,506.1 1301,503.9 1301.2,508.8 1301.4,507.6 1301.6,507.4 1301.8,506.6 1302,508.7 1302.2,506.4 1302.4,504.8 1302.6,507.3 1302.8,506.6 1303,507.4 1303.2,505.8 1303.4,507.2 1303.6,507.1 1303.8,506.1 1304,507.9 1304.2,507.1 1304.4,506.1 1304.6,507.1 1304.8,509.4 1305,509.1 1305.2,504.7 1305.4,508.2 1305.6,504.5 1305.8,505.9 1306,503.3 1306.2,508.1 1306.4,507.4 1306.6,504.7 1306.8,507.7 1307,511.7 1307.2,506.4 1307.4,499.2 1307.6,510 1307.8,507.1 1308,509.4 1308.2,506.3 1308.4,508.9 1308.6,504.9 1308.8,508.4 1309,507.1 1309.2,505.9 1309.4,507 1309.6,510.3 1309.8,505.9 1310,508.4 1310.2,506.2 1310.4,506.3 1310.6,507.5 1310.8,506.7 1311,507.3 1311.2,505.4 1311.4,501.7 1311.6,505.7 1311.8,508.9 1312,510.7 1312.2,506.2 1312.4,508.7 1312.6,509.9 1312.8,507.1 1313,508.4 1313.2,508.3 1313.4,511.6 1313.6,508 1313.8,508.7 1314,509.1 1314.2,504.1 1314.4,505.9 1314.6,509.1 1314.8,509.4 1315,504.3 1315.2,509.4 1315.4,508.5 1315.6,507.4 1315.8,508.7 1316,507.8 1316.2,509.6 1316.4,506.4 1316.6,507.7 1316.8,507.9 1317,506.8 1317.2,506.5 1317.4,508.8 1317.6,510 1317.8,516.5 1318,506.1 1318.2,508.1 1318.4,507.6 1318.6,508.4 1318.8,506.1 1319,509.1 1319.2,506.9 1319.4,509.5 1319.6,507.7 1319.8,507 1320,507.4 1320.2,508.7 1320.4,513.9 1320.6,509.6 1320.8,506 1321,507.2 1321.2,510.5 1321.4,513 1321.6,507.9 1321.8,509.4 1322,507.4 1322.2,508.6 1322.4,507.8 1322.6,508.6 1322.8,506.9 1323,510.4 1323.2,510.2 1323.4,509 1323.6,511.5 1323.8,509.4 1324,508.3 1324.2,509.7 1324.4,505.8 1324.6,509.7 1324.8,511.1 1325,505.4 1325.2,506.5 1325.4,512.4 1325.6,508.1 1325.8,507.8 1326,508.2 1326.2,507.9 1326.4,509.1 1326.6,506.7 1326.8,511.2 1327,509.9 1327.2,506 1327.4,513.6 1327.6,512.6 1327.8,507.3 1328,507.3 1328.2,507.5 1328.4,514.2 1328.6,512 1328.8,512 1329,509.9 1329.2,508.7 1329.4,508.8 1329.6,513.2 1329.8,506.2 1330,510.2 1330.2,512.6 1330.4,508.9 1330.6,510 1330.8,510.7 1331,507.3 1331.2,508.2 1331.4,506.6 1331.6,510.3 1331.8,507.6 1332,503.5 1332.2,510.7 1332.4,507.9 1332.6,510.2 1332.8,510 1333,508.8 1333.2,509.3 1333.4,509.9 1333.6,506.4 1333.8,511.4 1334,506.3 1334.2,510.7 1334.4,510.4 1334.6,507.6 1334.8,511.8 1335,511.1 1335.2,509.3 1335.4,511.6 1335.6,511.8 1335.8,508.4 1336,513 1336.2,505.9 1336.4,510.8 1336.6,508.8 1336.8,507.8 1337,511.8 1337.2,502.8 1337.4,503.9 1337.6,504.1 1337.8,505.8 1338,499.7 1338.2,499 1338.4,499.5 1338.6,493.5 1338.8,497.6 1339,494.6 1339.2,496.3 1339.4,495.5 1339.6,488.7 1339.8,494.6 1340,499.2 1340.2,496.9 1340.4,497.4 1340.6,496.8 1340.8,498.4 1341,502.8 1341.2,504.1 1341.4,503.1 1341.6,504.2 1341.8,503.6 1342,501.5 1342.2,507.9 1342.4,505.4 1342.6,504.5 1342.8,508 1343,507.2 1343.2,509.5 1343.4,507.5 1343.6,510.3 1343.8,509.4 1344,505.6 1344.2,512 1344.4,505 1344.6,508.7 1344.8,509.8 1345,511.7 1345.2,512.9 1345.4,510 1345.6,509.8 1345.8,510.3 1346,508.9 1346.2,508.2 1346.4,508.4 1346.6,509.1 1346.8,510.1 1347,506.8 1347.2,507 1347.4,506.4 1347.6,509.8 1347.8,507.6 1348,509 1348.2,505.3 1348.4,505.7 1348.6,507.9 1348.8,506.2 1349,511.9 1349.2,506.2 1349.4,510.2 1349.6,510.4 1349.8,496.6 1350,500.5 1350.2,506.4 1350.4,498.3 1350.6,500.5 1350.8,498.5 1351,496.2 1351.2,490.7 1351.4,486.9 1351.6,483.8 1351.8,476.9 1352,468.9 1352.2,459.9 1352.4,443.9 1352.6,432 1352.8,416.8 1353,402.8 1353.2,386.6 1353.4,373.4 1353.6,361.1 1353.8,353.2 1354,347.1 1354.2,347.1 1354.4,348.7 1354.6,355.8 1354.8,362.6 1355,372.1 1355.2,379.9 1355.4,392.1 1355.6,402.6 1355.8,413.5 1356,425.2 1356.2,434.9 1356.4,446.1 1356.6,452.9 1356.8,461.3 1357,470.8 1357.2,477.9 1357.4,479.2 1357.6,483.7 1357.8,489.9 1358,494.3 1358.2,494.3 1358.4,497.9 1358.6,498.4 1358.8,502.6 1359,502.3 1359.2,499.5 1359.4,505.8 1359.6,503.6 1359.8,505.9 1360,506.2 1360.2,506.3 1360.4,508.1 1360.6,502.7 1360.8,501.6 1361,506.9 1361.2,509.9 1361.4,509.1 1361.6,506.6 1361.8,506.1 1362,510.2 1362.2,505.9 1362.4,505 1362.6,510 1362.8,504.9 1363,509.2 1363.2,506.9 1363.4,509.8 1363.6,506.9 1363.8,508.9 1364,505.9 1364.2,508.2 1364.4,503.9 1364.6,504.7 1364.8,508.6 1365,503.4 1365.2,499.6 1365.4,501.2 1365.6,494.8 1365.8,495.1 1366,489.3 1366.2,482.6 1366.4,480.7 1366.6,472.4 1366.8,464.4 1367,457.1 1367.2,452.7 1367.4,449.1 1367.6,443.9 1367.8,440.2 1368,438.8 1368.2,440 1368.4,443.7 1368.6,445.8 1368.8,451.5 1369,457.1 1369.2,459.9 1369.4,467.4 1369.6,472 1369.8,476.3 1370,479.9 1370.2,483.5 1370.4,487.8 1370.6,491.4 1370.8,495.9 1371,496.3 1371.2,497.3 1371.4,498.9 1371.6,500.1 1371.8,501.1 1372,506.8 1372.2,506.3 1372.4,505.5 1372.6,506.2 1372.8,505.3 1373,509.7 1373.2,503.8 1373.4,506.7 1373.6,507.9 1373.8,508.6 1374,505.9 1374.2,507.8 1374.4,505 1374.6,507.3 1374.8,506.3 1375,509.3 1375.2,503.9 1375.4,506.4 1375.6,505.9 1375.8,505.2 1376,507.3 1376.2,506.3 1376.4,506.2 1376.6,507.2 1376.8,502.8 1377,496.3 1377.2,499.7 1377.4,501 1377.6,497.6 1377.8,495.9 1378,495.1 1378.2,492.5 1378.4,487.6 1378.6,482.6 1378.8,475.9 1379,471.4 1379.2,458.1 1379.4,446.4 1379.6,433.3 1379.8,421.4 1380,405.1 1380.2,388.4 1380.4,374.8 1380.6,360.9 1380.8,345.1 1381,329.8 1381.2,325.6 1381.4,320.6 1381.6,320.7 1381.8,322 1382,328 1382.2,335.7 1382.4,342.1 1382.6,352 1382.8,363.9 1383,373.9 1383.2,387.1 1383.4,400.5 1383.6,409.5 1383.8,419.7 1384,430.9 1384.2,432.3 1384.4,434.9 1384.6,433.7 1384.8,435.6 1385,434.4 1385.2,431.1 1385.4,429.3 1385.6,424.5 1385.8,421 1386,414.8 1386.2,411.5 1386.4,406.3 1386.6,400.3 1386.8,391.8 1387,387.9 1387.2,381.6 1387.4,373.4 1387.6,365.9 1387.8,360.1 1388,352.7 1388.2,344.6 1388.4,337.3 1388.6,332.6 1388.8,322.3 1389,317 1389.2,309.7 1389.4,301.5 1389.6,294.1 1389.8,289.8 1390,280.5 1390.2,270.4 1390.4,266.7 1390.6,260.3 1390.8,252.4 1391,248.4 1391.2,243.7 1391.4,238.4 1391.6,239.6 1391.8,243.4 1392,246.8 1392.2,251.2 1392.4,255.3 1392.6,261 1392.8,268.1 1393,273.1 1393.2,279.1 1393.4,285.5 1393.6,293.5 1393.8,298.3 1394,304.6 1394.2,312.3 1394.4,318.2 1394.6,322.3 1394.8,329.4 1395,334.8 1395.2,340.9 1395.4,347.3 1395.6,353.1 1395.8,360 1396,367.6 1396.2,371.6 1396.4,379.6 1396.6,385.9 1396.8,391.8 1397,398.4 1397.2,404.5 1397.4,411.1 1397.6,416.7 1397.8,422.5 1398,428.4 1398.2,433 1398.4,441.4 1398.6,448.4 1398.8,453.4 1399,459.8 1399.2,466.2 1399.4,473.7 1399.6,482 1399.8,488.1 1400,489.9 1400.2,495.6 1400.4,504 1400.6,506.8 1400.8,506.8 1401,505.8 1401.2,506.4 1401.4,506.6 1401.6,509.6 1401.8,504.6 1402,504.5 1402.2,499.3 1402.4,500.6 1402.6,498.3 1402.8,498.2 1403,481.5 1403.2,489.5 1403.4,481.4 1403.6,477.4 1403.8,471.7 1404,465.1 1404.2,460.7 1404.4,456.8 1404.6,453.1 1404.8,450.4 1405,449.8 1405.2,450.5 1405.4,451.8 1405.6,457 1405.8,455.9 1406,459.1 1406.2,463.2 1406.4,466.5 1406.6,471.9 1406.8,474.1 1407,479.9 1407.2,483.1 1407.4,485.6 1407.6,489.7 1407.8,492.3 1408,496.3 1408.2,496.1 1408.4,497.7 1408.6,500.6 1408.8,504.1 1409,500.6 1409.2,504.3 1409.4,505.5 1409.6,500.9 1409.8,501.7 1410,497 1410.2,492.1 1410.4,485.5 1410.6,475.5 1410.8,460.5 1411,440 1411.2,414.8 1411.4,375.1 1411.6,327.8 1411.8,263.8 1412,186.1 1412.2,89.4 1412.4,-27.2 1412.6,-159.8 1412.8,-313.5 1413,-481.8 1413.2,-666.8 1413.4,-856.5 1413.6,-1041.7 1413.8,-1231.7 1414,-1401.5 1414.2,-1550.2 1414.4,-1668.9 1414.6,-1751.8 1414.8,-1795.1 1415,-1797.5 1415.2,-1772.7 1415.4,-1727 1415.6,-1659.1 1415.8,-1571.8 1416,-1467.9 1416.2,-1349.8 1416.4,-1216.7 1416.6,-1079.3 1416.8,-942.3 1417,-800.5 1417.2,-660.6 1417.4,-524.3 1417.6,-397.5 1417.8,-272.5 1418,-162.4 1418.2,-61.9 1418.4,30.9 1418.6,111.2 1418.8,181 1419,242.9 1419.2,293.5 1419.4,336.7 1419.6,374.5 1419.8,403 1420,425.8 1420.2,446.4 1420.4,460.3 1420.6,471 1420.8,480.3 1421,487.3 1421.2,487.8 1421.4,495.6 1421.6,499.3 1421.8,499.9 1422,501.1 1422.2,504.9 1422.4,506.2 1422.6,507 1422.8,504.5 1423,506.1 1423.2,504.6 1423.4,504.9 1423.6,506.1 1423.8,504.2 1424,509.2 1424.2,508.2 1424.4,506.5 1424.6,505.6 1424.8,507.9 1425,508.5 1425.2,506.6 1425.4,508.5 1425.6,508.9 1425.8,507.2 1426,507.2 1426.2,506 1426.4,504.9 1426.6,506.8 1426.8,506.8 1427,505.4 1427.2,504.9 1427.4,506.2 1427.6,503.8 1427.8,506.5 1428,502.2 1428.2,501.2 1428.4,497.1 1428.6,494.4 1428.8,491.1 1429,487.7 1429.2,486.3 1429.4,482.3 1429.6,477.8 1429.8,476.2 1430,475 1430.2,474.1 1430.4,475.4 1430.6,475.7 1430.8,478.6 1431,481.6 1431.2,483.1 1431.4,487.3 1431.6,489.4 1431.8,489.4 1432,494 1432.2,495.8 1432.4,497.5 1432.6,497.9 1432.8,499.7 1433,501.6 1433.2,505.1 1433.4,505.8 1433.6,505.7 1433.8,505.6 1434,508.5 1434.2,506 1434.4,509.9 1434.6,511.9 1434.8,507.9 1435,508.3 1435.2,511.7 1435.4,507.1 1435.6,501.6 1435.8,507.7 1436,506.5 1436.2,507.6 1436.4,508.9 1436.6,510.3 1436.8,507.7 1437,509 1437.2,510.7 1437.4,509.6 1437.6,510.9 1437.8,507.5 1438,508.2 1438.2,505.7 1438.4,510.9 1438.6,508.7 1438.8,511 1439,508.4 1439.2,504.3 1439.4,508.2 1439.6,512 1439.8,509 1440,514.2 1440.2,508.6 1440.4,509.4 1440.6,512.9 1440.8,510.2 1441,509.1 1441.2,508.9 1441.4,514.9 1441.6,507.3 1441.8,509.9 1442,510 1442.2,508.8 1442.4,509.6 1442.6,509 1442.8,509.9 1443,509 1443.2,510.2 1443.4,508.9 1443.6,509.7 1443.8,509.5 1444,508.3 1444.2,507.9 1444.4,511.2 1444.6,506.1 1444.8,505.7 1445,506.4 1445.2,512.5 1445.4,510.8 1445.6,511.7 1445.8,509.3 1446,510.8 1446.2,509.6 1446.4,510.4 1446.6,512.2 1446.8,510 1447,507.9 1447.2,507.4 1447.4,504.7 1447.6,507.2 1447.8,508.2 1448,507.9 1448.2,512.4 1448.4,508.6 1448.6,508.5 1448.8,510.2 1449,509.3 1449.2,506.4 1449.4,509.7 1449.6,505.2 1449.8,508.7 1450,509.4 1450.2,508.3 1450.4,511.2 1450.6,508.7 1450.8,510.5 1451,507.7 1451.2,509.4 1451.4,507.1 1451.6,508 1451.8,508.6 1452,506 1452.2,511.3 1452.4,506.3 1452.6,506.2 1452.8,508.5 1453,508.2 1453.2,508.9 1453.4,507.9 1453.6,508.4 1453.8,502.6 1454,509.6 1454.2,506.7 1454.4,506.7 1454.6,508.4 1454.8,500.9 1455,506.8 1455.2,505.7 1455.4,507.3 1455.6,503.4 1455.8,508.4 1456,507.3 1456.2,507.8 1456.4,506.8 1456.6,509.3 1456.8,511.6 1457,507.4 1457.2,508.7 1457.4,509 1457.6,508.7 1457.8,509.1 1458,510.4 1458.2,512.8 1458.4,506.3 1458.6,506.2 1458.8,508.1 1459,507.6 1459.2,508.9 1459.4,507 1459.6,506.8 1459.8,507.1 1460,511.8 1460.2,506.8 1460.4,510 1460.6,506.2 1460.8,506.9 1461,505.2 1461.2,503.4 1461.4,503.2 1461.6,499.3 1461.8,500.5 1462,498.3 1462.2,494 1462.4,491.1 1462.6,483.5 1462.8,475.6 1463,475.3 1463.2,471.1 1463.4,464.8 1463.6,461 1463.8,457.7 1464,459.3 1464.2,459.5 1464.4,459 1464.6,461.8 1464.8,465.9 1465,469 1465.2,471.8 1465.4,474.5 1465.6,479 1465.8,479.2 1466,487.1 1466.2,490.1 1466.4,489.9 1466.6,496.3 1466.8,499.6 1467,500.4 1467.2,502.3 1467.4,503.2 1467.6,506.3 1467.8,507.1 1468,504.8 1468.2,508.8 1468.4,510.3 1468.6,507.4 1468.8,508.9 1469,510.8 1469.2,510.6 1469.4,509.9 1469.6,512.7 1469.8,511.6 1470,511.6 1470.2,513.2 1470.4,511 1470.6,512.3 1470.8,510.1 1471,510.9 1471.2,512.1 1471.4,511.2 1471.6,505.7 1471.8,511.7 1472,511 1472.2,512.9 1472.4,514.4 1472.6,510 1472.8,509.3 1473,507.4 1473.2,511.2 1473.4,513.1 1473.6,513.3 1473.8,510.4 1474,512.4 1474.2,510.1 1474.4,513 1474.6,514.2 1474.8,510.8 1475,513.2 1475.2,511.9 1475.4,511.8 1475.6,513 1475.8,513.5 1476,512.3 1476.2,512.1 1476.4,512.5 1476.6,513.9 1476.8,516.1 1477,514.4 1477.2,510.9 1477.4,513.3 1477.6,509.9 1477.8,514.9 1478,514 1478.2,514.6 1478.4,514.8 1478.6,513.6 1478.8,513.1 1479,515.2 1479.2,513 1479.4,514.2 1479.6,512.2 1479.8,513.3 1480,514.3 1480.2,512.2 1480.4,512.8 1480.6,514.3 1480.8,510.4 1481,511.9 1481.2,513.6 1481.4,517.7 1481.6,515 1481.8,514.6 1482,512.9 1482.2,514.4 1482.4,513.4 1482.6,511.5 1482.8,512.2 1483,516.5 1483.2,514 1483.4,514 1483.6,515.3 1483.8,508.6 1484,514 1484.2,514.2 1484.4,513.8 1484.6,517.7 1484.8,512.6 1485,514.9 1485.2,514.8 1485.4,513.4 1485.6,516.5 1485.8,518.3 1486,513.9 1486.2,514.8 1486.4,517.2 1486.6,514.5 1486.8,513 1487,512 1487.2,515.6 1487.4,514.3 1487.6,516 1487.8,513.5 1488,516.3 1488.2,514.8 1488.4,512.8 1488.6,515.5 1488.8,515.1 1489,513.2 1489.2,512.8 1489.4,514 1489.6,513.4 1489.8,513.9 1490,513.9 1490.2,515.1 1490.4,517 1490.6,514 1490.8,514.4 1491,515.3 1491.2,511.7 1491.4,510.6 1491.6,515.1 1491.8,513.1 1492,512.5 1492.2,518.9 1492.4,517.4 1492.6,515.3 1492.8,515.2 1493,513.6 1493.2,514.3 1493.4,516.6 1493.6,514.1 1493.8,514.7 1494,514.1 1494.2,518.2 1494.4,517.4 1494.6,517.1 1494.8,518.2 1495,520.6 1495.2,516 1495.4,516.5 1495.6,516.7 1495.8,517.3 1496,513.4 1496.2,512.8 1496.4,516.7 1496.6,515.4 1496.8,516.2 1497,516.4 1497.2,512.3 1497.4,515.7 1497.6,514.9 1497.8,514.8 1498,518.7 1498.2,520 1498.4,515.9 1498.6,514.4 1498.8,517.1 1499,517.5 1499.2,514.8 1499.4,517.1 1499.6,516.4 1499.8,514.1 1500,516.5 1500.2,514.5 1500.4,515.5 1500.6,514.3 1500.8,514.4 1501,515.3 1501.2,514.9 1501.4,514 1501.6,517.9 1501.8,515.7 1502,514.5 1502.2,513.4 1502.4,515.7 1502.6,516.3 1502.8,513 1503,514.8 1503.2,520.5 1503.4,514.6 1503.6,514.8 1503.8,516.8 1504,513.5 1504.2,513.1 1504.4,514.5 1504.6,515 1504.8,517.2 1505,517.5 1505.2,514.8 1505.4,516 1505.6,515 1505.8,515.2 1506,513.9 1506.2,514.7 1506.4,517.1 1506.6,515.5 1506.8,516.9 1507,514.7 1507.2,513.3 1507.4,515.4 1507.6,519.5 1507.8,518.1 1508,512.3 1508.2,516 1508.4,512.2 1508.6,514.1 1508.8,518.9 1509,515.6 1509.2,518.3 1509.4,516.4 1509.6,515.3 1509.8,515 1510,515 1510.2,514.8 1510.4,517.1 1510.6,517.9 1510.8,515.2 1511,515.7 1511.2,514.7 1511.4,514.5 1511.6,508.8 1511.8,517.2 1512,514.2 1512.2,514 1512.4,514 1512.6,514.7 1512.8,514.9 1513,514.5 1513.2,516.3 1513.4,515.4 1513.6,515.7 1513.8,518.4 1514,514.2 1514.2,515.4 1514.4,514.8 1514.6,515.8 1514.8,515.5 1515,514.5 1515.2,515.8 1515.4,514.6 1515.6,516.3 1515.8,514 1516,514.8 1516.2,514.8 1516.4,514.2 1516.6,515 1516.8,514.1 1517,514.3 1517.2,517 1517.4,515.2 1517.6,513 1517.8,516.4 1518,512.8 1518.2,512.7 1518.4,511.5 1518.6,513.5 1518.8,514.5 1519,510 1519.2,508.1 1519.4,509.3 1519.6,513.5 1519.8,508.1 1520,509.7 1520.2,507.3 1520.4,509 1520.6,507.4 1520.8,505.4 1521,507.5 1521.2,506.6 1521.4,510.5 1521.6,508.1 1521.8,507.5 1522,510.5 1522.2,510.5 1522.4,508.9 1522.6,510.7 1522.8,512.3 1523,514.4 1523.2,511.6 1523.4,511.4 1523.6,513.5 1523.8,509.2 1524,512.7 1524.2,513.2 1524.4,512.9 1524.6,514.8 1524.8,511.6 1525,514 1525.2,515.1 1525.4,515.4 1525.6,512 1525.8,514.1 1526,513.1 1526.2,516.9 1526.4,516.7 1526.6,515.2 1526.8,511.8 1527,515.9 1527.2,515.9 1527.4,512.4 1527.6,516.8 1527.8,515.1 1528,513 1528.2,516 1528.4,512.7 1528.6,515.1 1528.8,516.8 1529,516.9 1529.2,515.4 1529.4,514 1529.6,516.2 1529.8,516.3 1530,517.3 1530.2,513.6 1530.4,515.2 1530.6,518.5 1530.8,520.6 1531,513.7 1531.2,516.9 1531.4,513.6 1531.6,514.8 1531.8,515.5 1532,512.7 1532.2,515 1532.4,514.2 1532.6,515.2 1532.8,516.5 1533,514.2 1533.2,519.1 1533.4,516.8 1533.6,515.1 1533.8,512.6 1534,515.7 1534.2,510.9 1534.4,513.3 1534.6,515.1 1534.8,515.8 1535,514.4 1535.2,516.1 1535.4,514.9 1535.6,515.6 1535.8,516.7 1536,515 1536.2,514.6 1536.4,516.3 1536.6,515.6 1536.8,517.5 1537,514.3 1537.2,520 1537.4,516.8 1537.6,514.7 1537.8,514.3 1538,515.1 1538.2,517.1 1538.4,513 1538.6,511.5 1538.8,513.3 1539,513.3 1539.2,513 1539.4,514.1 1539.6,514.9 1539.8,514.4 1540,512.9 1540.2,515.3 1540.4,514.9 1540.6,516.5 1540.8,514.4 1541,515.9 1541.2,515.2 1541.4,519.7 1541.6,514.8 1541.8,513.1 1542,514.3 1542.2,516.3 1542.4,516.4 1542.6,513.2 1542.8,513.9 1543,511.7 1543.2,516.8 1543.4,516.4 1543.6,516.2 1543.8,514.5 1544,519.5 1544.2,515 1544.4,514.2 1544.6,516 1544.8,517.2 1545,515 1545.2,516 1545.4,516.7 1545.6,513.9 1545.8,515.6 1546,515.3 1546.2,515.8 1546.4,517.7 1546.6,514.2 1546.8,514.1 1547,515.8 1547.2,515.2 1547.4,514.9 1547.6,512.3 1547.8,515.1 1548,515 1548.2,513.3 1548.4,514 1548.6,514.2 1548.8,514.2 1549,516.5 1549.2,515.4 1549.4,515.7 1549.6,515.1 1549.8,515.3 1550,513.5 1550.2,516.2 1550.4,515.1 1550.6,512.2 1550.8,514.3 1551,514.8 1551.2,515.1 1551.4,514.3 1551.6,513.3 1551.8,514.9 1552,516.3 1552.2,515.2 1552.4,513.3 1552.6,514.9 1552.8,515.6 1553,514.8 1553.2,513.3 1553.4,512.3 1553.6,515.5 1553.8,514.5 1554,518 1554.2,514.6 1554.4,514.1 1554.6,515.7 1554.8,514.6 1555,516.2 1555.2,514.2 1555.4,513.5 1555.6,511.5 1555.8,513.5 1556,510.3 1556.2,513.8 1556.4,516.8 1556.6,510.9 1556.8,510.9 1557,508.8 1557.2,512.6 1557.4,506.5 1557.6,507.3 1557.8,503.3 1558,503.4 1558.2,501.7 1558.4,497.9 1558.6,496.1 1558.8,492.9 1559,490.9 1559.2,488.9 1559.4,487.4 1559.6,486 1559.8,486 1560,486.9 1560.2,486.3 1560.4,485.9 1560.6,490.2 1560.8,488.9 1561,494.5 1561.2,487.8 1561.4,493.7 1561.6,494.7 1561.8,498.6 1562,495.9 1562.2,494.8 1562.4,495.9 1562.6,496.4 1562.8,495.8 1563,497.1 1563.2,499.2 1563.4,496.6 1563.6,498 1563.8,499.8 1564,494.3 1564.2,495.8 1564.4,496.8 1564.6,498.5 1564.8,500.9 1565,500.1 1565.2,495.4 1565.4,501.5 1565.6,498 1565.8,499.2 1566,501.2 1566.2,501.6 1566.4,500.9 1566.6,502 1566.8,504 1567,503.8 1567.2,504.7 1567.4,505.5 1567.6,505.9 1567.8,505.7 1568,505 1568.2,507.2 1568.4,508.4 1568.6,508.4 1568.8,508.1 1569,510.7 1569.2,508.8 1569.4,508.7 1569.6,511.8 1569.8,511.8 1570,512.1 1570.2,511.6 1570.4,513.1 1570.6,509.9 1570.8,512.4 1571,512.8 1571.2,511 1571.4,515 1571.6,514.8 1571.8,513.4 1572,513.3 1572.2,513 1572.4,513 1572.6,513.7 1572.8,511.8 1573,513.1 1573.2,514 1573.4,512.9 1573.6,515 1573.8,514.3 1574,514.3 1574.2,510.4 1574.4,514.9 1574.6,510.5 1574.8,511.5 1575,513 1575.2,512.2 1575.4,512.6 1575.6,512.2 1575.8,510.6 1576,514.2 1576.2,514.8 1576.4,515.9 1576.6,512.2 1576.8,512.6 1577,517.6 1577.2,513.2 1577.4,513.7 1577.6,514.3 1577.8,515.1 1578,514.1 1578.2,513 1578.4,513.2 1578.6,512.5 1578.8,513 1579,516.2 1579.2,512.5 1579.4,511.6 1579.6,513.2 1579.8,513.9 1580,514 1580.2,511 1580.4,513.8 1580.6,512.7 1580.8,509.7 1581,512.5 1581.2,506.4 1581.4,513.1 1581.6,509.7 1581.8,511.1 1582,511.9 1582.2,511.2 1582.4,513.2 1582.6,510.9 1582.8,510.6 1583,512.5 1583.2,509.1 1583.4,508.3 1583.6,511.1 1583.8,507.6 1584,507.3 1584.2,502.7 1584.4,501.6 1584.6,500 1584.8,494.9 1585,493 1585.2,487.6 1585.4,484.2 1585.6,476.7 1585.8,471.8 1586,465.3 1586.2,458.9 1586.4,450.3 1586.6,443.4 1586.8,437.7 1587,430.8 1587.2,423.6 1587.4,417.7 1587.6,413 1587.8,411.1 1588,409.2 1588.2,408.7 1588.4,409.5 1588.6,413.8 1588.8,411.9 1589,416.7 1589.2,421 1589.4,426.2 1589.6,429.4 1589.8,434.9 1590,440.5 1590.2,447.4 1590.4,452.1 1590.6,457.4 1590.8,464.5 1591,468 1591.2,471.9 1591.4,476.2 1591.6,480.1 1591.8,484.2 1592,490 1592.2,490.9 1592.4,492.9 1592.6,496.5 1592.8,499.6 1593,499.4 1593.2,503.6 1593.4,500.8 1593.6,506 1593.8,506.9 1594,505 1594.2,507.5 1594.4,509 1594.6,510.5 1594.8,511.3 1595,509.5 1595.2,510 1595.4,510.6 1595.6,507.8 1595.8,509.2 1596,512.8 1596.2,512.5 1596.4,510 1596.6,510.8 1596.8,510.3 1597,513.7 1597.2,512.9 1597.4,513.5 1597.6,513.8 1597.8,512.2 1598,510.8 1598.2,512.2 1598.4,511.1 1598.6,513.7 1598.8,513.3 1599,514.8 1599.2,512.5 1599.4,515.7 1599.6,512.3 1599.8,512.9 1600,511.7 1600.2,511.8 1600.4,516.1 1600.6,515.5 1600.8,515 1601,516.4 1601.2,515 1601.4,514.2 1601.6,517.4 1601.8,512.5 1602,515.1 1602.2,512.5 1602.4,510.4 1602.6,513.5 1602.8,515.2 1603,511.3 1603.2,513.2 1603.4,513.2 1603.6,514.8 1603.8,513.4 1604,513.9 1604.2,515.2 1604.4,514.2 1604.6,513.3 1604.8,520.8 1605,513.6 1605.2,515 1605.4,514.4 1605.6,515.2 1605.8,515.6 1606,511.4 1606.2,513.7 1606.4,514.8 1606.6,513.8 1606.8,516.6 1607,514.9 1607.2,516.1 1607.4,511.7 1607.6,515.5 1607.8,514.6 1608,515.2 1608.2,512.8 1608.4,513.2 1608.6,513.6 1608.8,513.7 1609,513.3 1609.2,514.4 1609.4,511.7 1609.6,515.1 1609.8,511.4 1610,511.4 1610.2,513.4 1610.4,512 1610.6,515 1610.8,511.9 1611,511.1 1611.2,508 1611.4,510.1 1611.6,506.5 1611.8,507.3 1612,505.1 1612.2,497.6 1612.4,498.7 1612.6,495.5 1612.8,491 1613,485.8 1613.2,479.7 1613.4,475.5 1613.6,468.4 1613.8,459.9 1614,453 1614.2,445.3 1614.4,438.4 1614.6,431.8 1614.8,423.2 1615,420 1615.2,415.5 1615.4,413.2 1615.6,411.6 1615.8,418.7 1616,416.5 1616.2,420.4 1616.4,423.9 1616.6,428.2 1616.8,433.4 1617,437.9 1617.2,443.2 1617.4,447.4 1617.6,458.1 1617.8,461.5 1618,465.1 1618.2,469 1618.4,475 1618.6,480.3 1618.8,482.1 1619,487.6 1619.2,489.4 1619.4,490.2 1619.6,493.1 1619.8,494.5 1620,497 1620.2,497.1 1620.4,500 1620.6,498.7 1620.8,497.9 1621,499.4 1621.2,500 1621.4,501.6 1621.6,500.6 1621.8,503.4 1622,499.7 1622.2,504.2 1622.4,502.5 1622.6,504.3 1622.8,504.9 1623,506.2 1623.2,507.6 1623.4,508.8 1623.6,503.1 1623.8,507.3 1624,510.5 1624.2,508.3 1624.4,511.4 1624.6,513.3 1624.8,513.4 1625,510.2 1625.2,513.7 1625.4,513.1 1625.6,510.6 1625.8,513.5 1626,513.7 1626.2,512.9 1626.4,513.7 1626.6,516 1626.8,515.4 1627,515.9 1627.2,516.2 1627.4,516.5 1627.6,518.4 1627.8,516.2 1628,515 1628.2,512.1 1628.4,515.8 1628.6,514.1 1628.8,516.5 1629,515.3 1629.2,515.8 1629.4,515.2 1629.6,514.7 1629.8,514.1 1630,515.8 1630.2,513 1630.4,514.8 1630.6,515 1630.8,517 1631,517 1631.2,515.4 1631.4,516.5 1631.6,514.6 1631.8,516.7 1632,514.8 1632.2,516 1632.4,515 1632.6,512.9 1632.8,516.1 1633,515.5 1633.2,517 1633.4,515.5 1633.6,514.3 1633.8,515.8 1634,515.2 1634.2,515.4 1634.4,514.9 1634.6,517.1 1634.8,515.4 1635,517.2 1635.2,516.2 1635.4,512.9 1635.6,515.8 1635.8,516.2 1636,514.9 1636.2,513.6 1636.4,516.5 1636.6,515.3 1636.8,514 1637,516.5 1637.2,516.2 1637.4,518.2 1637.6,515.5 1637.8,516.1 1638,517.9 1638.2,517 1638.4,514.4 1638.6,518.1 1638.8,515.3 1639,517.1 1639.2,517.3 1639.4,516.8 1639.6,517 1639.8,521.4 1640,516.4 1640.2,517.7 1640.4,514.3 1640.6,517.5 1640.8,515.1 1641,516.5 1641.2,517.3 1641.4,513.6 1641.6,513.3 1641.8,516.6 1642,514 1642.2,517.5 1642.4,513.6 1642.6,514.3 1642.8,517.1 1643,517.4 1643.2,516.2 1643.4,516.5 1643.6,514.1 1643.8,515.2 1644,513.1 1644.2,517.9 1644.4,515.6 1644.6,513 1644.8,514.4 1645,517.6 1645.2,516.3 1645.4,516.5 1645.6,515.8 1645.8,514.5 1646,513.1 1646.2,517 1646.4,515.8 1646.6,513.2 1646.8,515.6 1647,515.2 1647.2,514.6 1647.4,514.7 1647.6,516.3 1647.8,517.3 1648,514.9 1648.2,516.9 1648.4,517.7 1648.6,515.1 1648.8,516.6 1649,512.7 1649.2,516.4 1649.4,516.7 1649.6,516.2 1649.8,516.3 1650,513.5 1650.2,516.3 1650.4,517.5 1650.6,517 1650.8,518.1 1651,518.9 1651.2,517.3 1651.4,514.3 1651.6,517.8 1651.8,517.7 1652,515.6 1652.2,515 1652.4,515.8 1652.6,517.7 1652.8,516 1653,514 1653.2,513.5 1653.4,514.2 1653.6,514.9 1653.8,515.4 1654,515.9 1654.2,514.3 1654.4,514.6 1654.6,514.8 1654.8,518.3 1655,516.9 1655.2,515.8 1655.4,511.7 1655.6,516.4 1655.8,514.3 1656,513.3 1656.2,517.4 1656.4,514.5 1656.6,512.8 1656.8,513.9 1657,515.8 1657.2,515.6 1657.4,512.9 1657.6,512.1 1657.8,512.7 1658,514.8 1658.2,514.1 1658.4,510 1658.6,513.9 1658.8,513.6 1659,514.6 1659.2,516.3 1659.4,514.3 1659.6,512.2 1659.8,511.4 1660,510.2 1660.2,513.6 1660.4,510.4 1660.6,512.4 1660.8,511.1 1661,510.5 1661.2,513.3 1661.4,511.1 1661.6,509.3 1661.8,513 1662,507.8 1662.2,514.3 1662.4,513.6 1662.6,514.6 1662.8,517.4 1663,514.8 1663.2,513.7 1663.4,512 1663.6,514 1663.8,514.4 1664,513.1 1664.2,512 1664.4,513.9 1664.6,514.4 1664.8,513.7 1665,514.9 1665.2,515.4 1665.4,516.1 1665.6,515.7 1665.8,516.6 1666,513.8 1666.2,516.6 1666.4,515.1 1666.6,513.1 1666.8,515.9 1667,515.1 1667.2,513.6 1667.4,517.6 1667.6,517.6 1667.8,513.5 1668,516.4 1668.2,514 1668.4,515.3 1668.6,511.9 1668.8,514.9 1669,514.1 1669.2,517.2 1669.4,512.7 1669.6,515 1669.8,514.8 1670,518 1670.2,514 1670.4,515.4 1670.6,514.4 1670.8,515.3 1671,514.6 1671.2,515.5 1671.4,514.4 1671.6,517.6 1671.8,516.5 1672,516.9 1672.2,516.5 1672.4,516.5 1672.6,516.7 1672.8,511.6 1673,516 1673.2,514.2 1673.4,516.6 1673.6,521.3 1673.8,514.7 1674,514.8 1674.2,514 1674.4,517 1674.6,514.6 1674.8,516 1675,512.9 1675.2,516.9 1675.4,517.2 1675.6,516 1675.8,515.1 1676,516.5 1676.2,516.9 1676.4,514.8 1676.6,516.9 1676.8,517.1 1677,516.6 1677.2,515.5 1677.4,516.7 1677.6,516.3 1677.8,512.9 1678,517.6 1678.2,515.5 1678.4,516.1 1678.6,515.1 1678.8,515.1 1679,516.8 1679.2,516.6 1679.4,515.6 1679.6,515.8 1679.8,514.6 1680,514.6 1680.2,514.6 1680.4,513.9 1680.6,515 1680.8,516.2 1681,516.1 1681.2,517.7 1681.4,515.3 1681.6,515.4 1681.8,514 1682,516.7 1682.2,516 1682.4,516.4 1682.6,516.8 1682.8,513.7 1683,516.3 1683.2,516 1683.4,511.8 1683.6,515.8 1683.8,516.8 1684,513.9 1684.2,516.3 1684.4,514.7 1684.6,513.9 1684.8,514.7 1685,513.1 1685.2,513.9 1685.4,513.4 1685.6,511 1685.8,512.5 1686,511 1686.2,510.1 1686.4,510.9 1686.6,508.5 1686.8,506.4 1687,506.8 1687.2,508.4 1687.4,504.8 1687.6,502 1687.8,502.8 1688,500.8 1688.2,497.4 1688.4,500.8 1688.6,497.4 1688.8,497.2 1689,496.2 1689.2,493.9 1689.4,495.8 1689.6,494.7 1689.8,495.6 1690,496.6 1690.2,497.3 1690.4,498.3 1690.6,495 1690.8,501.7 1691,500.9 1691.2,501.2 1691.4,502.7 1691.6,503 1691.8,504.9 1692,506 1692.2,506.5 1692.4,508 1692.6,508.3 1692.8,513.1 1693,511 1693.2,509.1 1693.4,510.8 1693.6,512 1693.8,508.6 1694,514.7 1694.2,515.6 1694.4,514.8 1694.6,513.1 1694.8,514.7 1695,513.5 1695.2,512.6 1695.4,511.3 1695.6,513.3 1695.8,515.4 1696,513 1696.2,516.1 1696.4,513.5 1696.6,513.6 1696.8,515.5 1697,516.2 1697.2,515.7 1697.4,516 1697.6,513.5 1697.8,516.8 1698,516.6 1698.2,513.8 1698.4,514.9 1698.6,515.9 1698.8,516.2 1699,514.9 1699.2,514.1 1699.4,515.7 1699.6,513.8 1699.8,514.7 1700,511.2 1700.2,511.7 1700.4,511.6 1700.6,513 1700.8,515.8 1701,514.2 1701.2,510.7 1701.4,513.9 1701.6,509.4 1701.8,507.3 1702,506 1702.2,505.2 1702.4,504.1 1702.6,499.9 1702.8,499.9 1703,499.1 1703.2,495 1703.4,493.9 1703.6,489.1 1703.8,488.3 1704,485.8 1704.2,484.2 1704.4,481.1 1704.6,479.8 1704.8,479.4 1705,476.7 1705.2,477.4 1705.4,477.5 1705.6,479.3 1705.8,478.3 1706,479.3 1706.2,481.6 1706.4,481.6 1706.6,484.2 1706.8,484.9 1707,487.4 1707.2,488.6 1707.4,491.7 1707.6,494.8 1707.8,495.2 1708,496.6 1708.2,497.9 1708.4,501.5 1708.6,500.3 1708.8,502.4 1709,504.4 1709.2,507 1709.4,508.9 1709.6,510.2 1709.8,508.9 1710,510.2 1710.2,510.2 1710.4,509.9 1710.6,510.9 1710.8,511.6 1711,513 1711.2,514.7 1711.4,511.8 1711.6,515.9 1711.8,516.2 1712,513.1 1712.2,515.3 1712.4,515.4 1712.6,518.7 1712.8,515.1 1713,515.6 1713.2,518.2 1713.4,516.8 1713.6,516.4 1713.8,520.5 1714,518.5 1714.2,515.8 1714.4,519.1 1714.6,517.8 1714.8,515.8 1715,514.7 1715.2,518.9 1715.4,515.6 1715.6,516.6 1715.8,517.1 1716,516.1 1716.2,518.3 1716.4,513.7 1716.6,516.6 1716.8,517.6 1717,516.1 1717.2,518 1717.4,519.7 1717.6,518.3 1717.8,520.1 1718,518.7 1718.2,515.4 1718.4,522.5 1718.6,519.8 1718.8,518 1719,517.3 1719.2,518.3 1719.4,519.5 1719.6,517.4 1719.8,517.6 1720,515.4 1720.2,517.7 1720.4,520.3 1720.6,518.1 1720.8,516.3 1721,519.1 1721.2,515.1 1721.4,515.9 1721.6,518.7 1721.8,518.1 1722,517.7 1722.2,518.5 1722.4,518.5 1722.6,517 1722.8,516.8 1723,516.4 1723.2,517.8 1723.4,518.9 1723.6,518.7 1723.8,516.4 1724,517.7 1724.2,519.4 1724.4,514.6 1724.6,518.1 1724.8,519.1 1725,518.9 1725.2,515.4 1725.4,518.8 1725.6,518.4 1725.8,517.4 1726,518.8 1726.2,521.9 1726.4,520.3 1726.6,517.3 1726.8,518 1727,520.2 1727.2,518.2 1727.4,517.1 1727.6,518.1 1727.8,517.2 1728,518.6 1728.2,520 1728.4,518.6 1728.6,518.3 1728.8,518.5 1729,517.1 1729.2,517.4 1729.4,521.9 1729.6,518.5 1729.8,518.3 1730,518.2 1730.2,520.9 1730.4,518.7 1730.6,517 1730.8,518.4 1731,516 1731.2,519.2 1731.4,516.2 1731.6,518.1 1731.8,517 1732,517.5 1732.2,521.6 1732.4,521.6 1732.6,517.9 1732.8,519.5 1733,517.9 1733.2,518.8 1733.4,517.2 1733.6,518.6 1733.8,517.3 1734,517.5 1734.2,518 1734.4,518.3 1734.6,519.8 1734.8,520.1 1735,517.3 1735.2,516.6 1735.4,518.7 1735.6,519.1 1735.8,517.9 1736,518.5 1736.2,518.9 1736.4,517.4 1736.6,516.5 1736.8,520.1 1737,519.9 1737.2,519.9 1737.4,518.8 1737.6,518 1737.8,518.4 1738,517.5 1738.2,516.5 1738.4,517.1 1738.6,519.7 1738.8,518.4 1739,517 1739.2,520.2 1739.4,517.1 1739.6,519.5 1739.8,516 1740,518.5 1740.2,516.4 1740.4,516.9 1740.6,517.9 1740.8,519.4 1741,518.2 1741.2,519.3 1741.4,518.6 1741.6,518.2 1741.8,519.1 1742,518.7 1742.2,520 1742.4,519.2 1742.6,520 1742.8,516.5 1743,518.3 1743.2,521.7 1743.4,518.2 1743.6,514.5 1743.8,516.8 1744,514.8 1744.2,518.4 1744.4,517.6 1744.6,518.2 1744.8,519.9 1745,519.3 1745.2,518.7 1745.4,518.7 1745.6,518.7 1745.8,512.9 1746,518.1 1746.2,518.7 1746.4,517.4 1746.6,518.7 1746.8,519.2 1747,520 1747.2,517.8 1747.4,517.8 1747.6,519.2 1747.8,517.7 1748,519.1 1748.2,519.4 1748.4,517.4 1748.6,518.9 1748.8,519.1 1749,517.3 1749.2,518.7 1749.4,518.2 1749.6,521.3 1749.8,518.4 1750,521.1 1750.2,517.6 1750.4,518.4 1750.6,516.6 1750.8,519.8 1751,518.3 1751.2,519.2 1751.4,518.3 1751.6,519.2 1751.8,517.8 1752,519.3 1752.2,519.1 1752.4,519.3 1752.6,517.2 1752.8,518.5 1753,518.1 1753.2,520.5 1753.4,519.7 1753.6,519.8 1753.8,516.5 1754,518.4 1754.2,517 1754.4,517.2 1754.6,517.4 1754.8,516.7 1755,519.8 1755.2,515.7 1755.4,516.8 1755.6,520 1755.8,517.2 1756,517.5 1756.2,517.8 1756.4,514.9 1756.6,516.6 1756.8,516.6 1757,513.8 1757.2,518.2 1757.4,518.8 1757.6,513.5 1757.8,513.1 1758,514.8 1758.2,512.3 1758.4,511.6 1758.6,511.4 1758.8,511.2 1759,509 1759.2,507.4 1759.4,504.9 1759.6,502.5 1759.8,501.5 1760,497.6 1760.2,495.9 1760.4,492.5 1760.6,488.7 1760.8,486.6 1761,483.8 1761.2,480.6 1761.4,477.6 1761.6,473.7 1761.8,470.3 1762,467.7 1762.2,465.2 1762.4,461.5 1762.6,460.1 1762.8,456.9 1763,455.4 1763.2,454.4 1763.4,453.1 1763.6,453.5 1763.8,452.4 1764,453.8 1764.2,453.7 1764.4,455.5 1764.6,455.4 1764.8,457.4 1765,457.8 1765.2,460.2 1765.4,461 1765.6,463.1 1765.8,464.5 1766,465 1766.2,468.1 1766.4,469.2 1766.6,470.1 1766.8,472.9 1767,475.5 1767.2,478.5 1767.4,478.9 1767.6,481.3 1767.8,481.9 1768,484.3 1768.2,487 1768.4,487.9 1768.6,488.6 1768.8,488.4 1769,491.1 1769.2,491 1769.4,492 1769.6,492.8 1769.8,492.1 1770,494.6 1770.2,491.3 1770.4,493.7 1770.6,493.1 1770.8,493 1771,492.7 1771.2,492.7 1771.4,493 1771.6,492.5 1771.8,493.2 1772,493.2 1772.2,491.6 1772.4,489.3 1772.6,489.5 1772.8,490.9 1773,489.2 1773.2,490.4 1773.4,488.2 1773.6,490.6 1773.8,489.2 1774,488.6 1774.2,490 1774.4,487.2 1774.6,490.3 1774.8,488.9 1775,491.5 1775.2,491.1 1775.4,490.5 1775.6,491.7 1775.8,491.9 1776,493.5 1776.2,493.9 1776.4,496.5 1776.6,491.4 1776.8,494.5 1777,497 1777.2,496.2 1777.4,500.4 1777.6,497.8 1777.8,500 1778,502.1 1778.2,501.1 1778.4,502.1 1778.6,503.3 1778.8,502.8 1779,504.5 1779.2,505 1779.4,501.6 1779.6,510.1 1779.8,506.9 1780,508.6 1780.2,507.4 1780.4,508.4 1780.6,509.6 1780.8,511.1 1781,509.5 1781.2,511 1781.4,512.8 1781.6,512.2 1781.8,512.1 1782,516.8 1782.2,513.2 1782.4,513.5 1782.6,514.2 1782.8,516.1 1783,515.8 1783.2,516.9 1783.4,515.7 1783.6,515.4 1783.8,514.9 1784,512.3 1784.2,516.6 1784.4,515.5 1784.6,518.7 1784.8,517.7 1785,515.4 1785.2,517.8 1785.4,517.6 1785.6,517.4 1785.8,518.5 1786,516.3 1786.2,517.3 1786.4,519.7 1786.6,518.8 1786.8,519.5 1787,517.1 1787.2,516.9 1787.4,516.1 1787.6,518.1 1787.8,520.4 1788,517.1 1788.2,518.9 1788.4,517.8 1788.6,518.2 1788.8,520.2 1789,518.3 1789.2,519.2 1789.4,516.9 1789.6,516.3 1789.8,518.1 1790,518.3 1790.2,519.4 1790.4,518.9 1790.6,516.3 1790.8,517.5 1791,518.3 1791.2,518.7 1791.4,519.2 1791.6,518.1 1791.8,518.7 1792,518.6 1792.2,519 1792.4,517.1 1792.6,515.6 1792.8,520.7 1793,520 1793.2,519.2 1793.4,520.8 1793.6,518.7 1793.8,520 1794,515.9 1794.2,517.1 1794.4,518.7 1794.6,517.6 1794.8,518 1795,516 1795.2,518.8 1795.4,517.2 1795.6,518.6 1795.8,518.9 1796,516.6 1796.2,518 1796.4,517.8 1796.6,517.3 1796.8,516.6 1797,517.5 1797.2,515.6 1797.4,518 1797.6,518.8 1797.8,516.2 1798,518 1798.2,517.8 1798.4,519.8 1798.6,518.9 1798.8,522.1 1799,517.7 1799.2,518.1 1799.4,516.7 1799.6,517.5 1799.8,517 1800,518.8 1800.2,519 1800.4,517.3 1800.6,520.3 1800.8,516.8 1801,517.6 1801.2,517.5 1801.4,518.7 1801.6,518 1801.8,519 1802,518.8 1802.2,518.8 1802.4,519.4 1802.6,517.9 1802.8,517.5 1803,517.6 1803.2,519.6 1803.4,516.5 1803.6,520.3 1803.8,516.6 1804,518.2 1804.2,518.3 1804.4,518.3 1804.6,517.7 1804.8,516.9 1805,523.8 1805.2,516.9 1805.4,519.4 1805.6,517.1 1805.8,517.3 1806,521.3 1806.2,517.7 1806.4,516.5 1806.6,517.1 1806.8,517.7 1807,517 1807.2,517.2 1807.4,519.1 1807.6,519 1807.8,517.9 1808,520 1808.2,518.3 1808.4,516.7 1808.6,514.6 1808.8,518.4 1809,518.5 1809.2,515.3 1809.4,517.3 1809.6,518.3 1809.8,521.4 1810,518.6 1810.2,519.9 1810.4,518.1 1810.6,519.6 1810.8,518.7 1811,519.3 1811.2,517.1 1811.4,519.1 1811.6,518.3 1811.8,516.7 1812,519 1812.2,516.9 1812.4,517.1 1812.6,517.1 1812.8,518.9 1813,520 1813.2,518.2 1813.4,519.3 1813.6,520 1813.8,517.3 1814,519.9 1814.2,518.8 1814.4,515.8 1814.6,517.4 1814.8,516.9 1815,515.3 1815.2,517.4 1815.4,518 1815.6,516.5 1815.8,518.3 1816,520.5 1816.2,518.8 1816.4,518.7 1816.6,515.6 1816.8,517.4 1817,517.7 1817.2,518.2 1817.4,518.6 1817.6,517.9 1817.8,515 1818,516.6 1818.2,515.1 1818.4,515.9 1818.6,516.1 1818.8,515.4 1819,517 1819.2,516.9 1819.4,516.5 1819.6,515.2 1819.8,513 1820,513.3 1820.2,514.8 1820.4,514.8 1820.6,509.7 1820.8,511 1821,510.4 1821.2,510.2 1821.4,510.5 1821.6,506.9 1821.8,509.2 1822,508 1822.2,505.8 1822.4,508.5 1822.6,507.8 1822.8,506.3 1823,508.5 1823.2,507.9 1823.4,508 1823.6,509 1823.8,507.8 1824,509.6 1824.2,511.1 1824.4,510.4 1824.6,509.8 1824.8,512 1825,512.8 1825.2,511.6 1825.4,512.9 1825.6,513.2 1825.8,513.7 1826,512.9 1826.2,513.6 1826.4,517.5 1826.6,514.7 1826.8,516.6 1827,515.7 1827.2,516.9 1827.4,515.9 1827.6,517.3 1827.8,518 1828,514.1 1828.2,517.9 1828.4,516.6 1828.6,517 1828.8,517.2 1829,518.3 1829.2,517.7 1829.4,515 1829.6,516.2 1829.8,515.4 1830,516.3 1830.2,519.1 1830.4,517.2 1830.6,518 1830.8,517.1 1831,515 1831.2,517.8 1831.4,519 1831.6,521.6 1831.8,518.8 1832,518.4 1832.2,515.5 1832.4,517 1832.6,518.6 1832.8,519.1 1833,519 1833.2,517 1833.4,518.8 1833.6,518.2 1833.8,519.1 1834,516.3 1834.2,515.1 1834.4,517.6 1834.6,516.1 1834.8,518.1 1835,515.5 1835.2,518.3 1835.4,516.2 1835.6,516.1 1835.8,516.9 1836,517.3 1836.2,513.4 1836.4,517.1 1836.6,516.4 1836.8,516.5 1837,517.4 1837.2,515.6 1837.4,515.2 1837.6,515.5 1837.8,517.3 1838,516.1 1838.2,515.4 1838.4,514.2 1838.6,514.3 1838.8,514.9 1839,515 1839.2,514.7 1839.4,514.5 1839.6,514.9 1839.8,513 1840,511.5 1840.2,511.3 1840.4,513.2 1840.6,512.8 1840.8,512 1841,511.6 1841.2,510.3 1841.4,511.9 1841.6,511.7 1841.8,510 1842,511.6 1842.2,511 1842.4,509.3 1842.6,511.1 1842.8,509.6 1843,512.2 1843.2,512.3 1843.4,509 1843.6,512.7 1843.8,511.8 1844,514.1 1844.2,515.4 1844.4,513 1844.6,514.4 1844.8,512.8 1845,514.6 1845.2,514.3 1845.4,514.4 1845.6,512.1 1845.8,513.9 1846,514.3 1846.2,514.7 1846.4,515.6 1846.6,514.5 1846.8,513.7 1847,516.6 1847.2,513.9 1847.4,514.3 1847.6,516.4 1847.8,516 1848,516.7 1848.2,515.5 1848.4,516.3 1848.6,515.2 1848.8,513 1849,516.6 1849.2,518.3 1849.4,518.4 1849.6,517.4 1849.8,514.9 1850,516.3 1850.2,518.5 1850.4,521.7 1850.6,515.5 1850.8,519.1 1851,515.2 1851.2,516.1 1851.4,515.9 1851.6,515.2 1851.8,516.3 1852,517.1 1852.2,514.7 1852.4,517.1 1852.6,514 1852.8,514.9 1853,514.2 1853.2,515.3 1853.4,516.1 1853.6,512.1 1853.8,517.1 1854,514.5 1854.2,514.5 1854.4,512.3 1854.6,516.9 1854.8,511.2 1855,513.5 1855.2,513.4 1855.4,513.2 1855.6,511.1 1855.8,510.4 1856,512.9 1856.2,510.4 1856.4,511.6 1856.6,510.1 1856.8,510.1 1857,509.5 1857.2,509.6 1857.4,509 1857.6,506.5 1857.8,504.3 1858,506.4 1858.2,506.6 1858.4,506.1 1858.6,507.6 1858.8,508.3 1859,506.4 1859.2,506.7 1859.4,508.4 1859.6,504.1 1859.8,508.2 1860,505.5 1860.2,506.6 1860.4,508.7 1860.6,508 1860.8,509.2 1861,510.8 1861.2,506.5 1861.4,510.4 1861.6,508.6 1861.8,508.5 1862,511.3 1862.2,510.1 1862.4,510.8 1862.6,509.4 1862.8,510.6 1863,511.1 1863.2,511.3 1863.4,512 1863.6,508.7 1863.8,509.7 1864,509.9 1864.2,507 1864.4,501.8 1864.6,495.7 1864.8,486.7 1865,476.9 1865.2,465.3 1865.4,459.4 1865.6,459.6 1865.8,463 1866,469.4 1866.2,477.2 1866.4,483.8 1866.6,489.5 1866.8,494.2 1867,495.2 1867.2,494.9 1867.4,492.2 1867.6,493 1867.8,489.7 1868,487.3 1868.2,486.5 1868.4,489.1 1868.6,490.4 1868.8,491.8 1869,494.3 1869.2,498.6 1869.4,501.5 1869.6,502.3 1869.8,509.9 1870,510.3 1870.2,509.7 1870.4,510.2 1870.6,513.1 1870.8,513.7 1871,514.5 1871.2,516.2 1871.4,514.6 1871.6,516.4 1871.8,517.1 1872,515.3 1872.2,516.3 1872.4,516.9 1872.6,517 1872.8,517.7 1873,517.8 1873.2,515.7 1873.4,516.4 1873.6,521.9 1873.8,519.6 1874,515.9 1874.2,518.1 1874.4,517.7 1874.6,517.7 1874.8,517.3 1875,517.7 1875.2,517.7 1875.4,519.3 1875.6,517.7 1875.8,517.3 1876,517.6 1876.2,519 1876.4,517.1 1876.6,515.2 1876.8,518.1 1877,517.1 1877.2,514 1877.4,516.8 1877.6,516.2 1877.8,518.3 1878,519.2 1878.2,517.9 1878.4,516.6 1878.6,515.8 1878.8,518.5 1879,516.3 1879.2,518 1879.4,517.9 1879.6,518.4 1879.8,516.4 1880,522.5 1880.2,517 1880.4,518 1880.6,518.8 1880.8,516.6 1881,517 1881.2,519.2 1881.4,517.9 1881.6,519.1 1881.8,516.7 1882,516.8 1882.2,518.1 1882.4,519.2 1882.6,515.4 1882.8,516.7 1883,517.5 1883.2,516.3 1883.4,517.8 1883.6,517 1883.8,517.2 1884,515.4 1884.2,516.1 1884.4,515.7 1884.6,514.8 1884.8,513.6 1885,516.6 1885.2,513.7 1885.4,515.8 1885.6,513.3 1885.8,512.1 1886,513.4 1886.2,509.8 1886.4,508.8 1886.6,510.8 1886.8,508 1887,506.4 1887.2,505.2 1887.4,501.4 1887.6,503.2 1887.8,502.9 1888,502.1 1888.2,503.7 1888.4,500.1 1888.6,500.3 1888.8,501.3 1889,497.8 1889.2,499.2 1889.4,498.3 1889.6,497.8 1889.8,500.4 1890,498.2 1890.2,500.5 1890.4,500.6 1890.6,504 1890.8,503.5 1891,502.6 1891.2,505.9 1891.4,504.7 1891.6,502.7 1891.8,503.9 1892,507.6 1892.2,508.1 1892.4,512.1 1892.6,511.6 1892.8,510.7 1893,509.3 1893.2,510.1 1893.4,510.8 1893.6,514.2 1893.8,512.8 1894,513.3 1894.2,511.3 1894.4,513 1894.6,514.6 1894.8,514.7 1895,511.8 1895.2,513.8 1895.4,517.1 1895.6,512.1 1895.8,517.4 1896,515.2 1896.2,512.7 1896.4,517.2 1896.6,513 1896.8,516.4 1897,517.1 1897.2,516.4 1897.4,517.5 1897.6,514.7 1897.8,517.1 1898,516.1 1898.2,516.2 1898.4,515.4 1898.6,515.2 1898.8,517.1 1899,518 1899.2,519.2 1899.4,515.7 1899.6,519.6 1899.8,517.2 1900,517.4 1900.2,514.5 1900.4,515 1900.6,517.5 1900.8,517.5 1901,516.8 1901.2,515.3 1901.4,515.2 1901.6,514.9 1901.8,514.6 1902,514.7 1902.2,514.4 1902.4,514 1902.6,514 1902.8,515.1 1903,515.9 1903.2,512 1903.4,515 1903.6,513.5 1903.8,512.5 1904,512.3 1904.2,513.1 1904.4,515 1904.6,512.8 1904.8,516.8 1905,513.9 1905.2,511.5 1905.4,512.9 1905.6,515.9 1905.8,512.7 1906,511.9 1906.2,514.2 1906.4,512.6 1906.6,511.1 1906.8,509.1 1907,513.3 1907.2,512.8 1907.4,512.2 1907.6,508.7 1907.8,509.1 1908,510.3 1908.2,508.7 1908.4,508.7 1908.6,505.5 1908.8,507.8 1909,508 1909.2,505.7 1909.4,508.1 1909.6,506 1909.8,506.7 1910,508.7 1910.2,506 1910.4,506.4 1910.6,506.3 1910.8,505.1 1911,506.8 1911.2,507.4 1911.4,501.9 1911.6,503.7 1911.8,507 1912,506.8 1912.2,506.6 1912.4,505.8 1912.6,507.2 1912.8,505.7 1913,505.4 1913.2,506.3 1913.4,504.9 1913.6,508.7 1913.8,507.2 1914,504.8 1914.2,507.6 1914.4,506.7 1914.6,507.1 1914.8,508.3 1915,506.3 1915.2,507 1915.4,507.8 1915.6,508.1 1915.8,506.7 1916,507.5 1916.2,505.9 1916.4,508.7 1916.6,507.8 1916.8,510.2 1917,508.2 1917.2,509.6 1917.4,509.6 1917.6,509.6 1917.8,509.6 1918,509.2 1918.2,508.3 1918.4,511.7 1918.6,511.3 1918.8,508.2 1919,507.9 1919.2,510.8 1919.4,513.8 1919.6,509.7 1919.8,508.9 1920,508.8 1920.2,510.8 1920.4,512.2 1920.6,510.1 1920.8,510.5 1921,510.4 1921.2,510.2 1921.4,507.8 1921.6,507.5 1921.8,507 1922,508.3 1922.2,508.4 1922.4,506.7 1922.6,506.4 1922.8,507.4 1923,507.5 1923.2,506.2 1923.4,505.9 1923.6,504.8 1923.8,505 1924,503.7 1924.2,501.8 1924.4,501.7 1924.6,503.3 1924.8,502.7 1925,504.7 1925.2,502 1925.4,505.1 1925.6,502.4 1925.8,503.2 1926,503.3 1926.2,505.9 1926.4,504 1926.6,507 1926.8,506.2 1927,506.6 1927.2,508.2 1927.4,506.9 1927.6,506.3 1927.8,507.7 1928,508.3 1928.2,509.9 1928.4,509.1 1928.6,509.3 1928.8,511.1 1929,512.2 1929.2,512.5 1929.4,512.5 1929.6,511.2 1929.8,511.7 1930,512 1930.2,514.6 1930.4,512.8 1930.6,514.4 1930.8,512.3 1931,514.3 1931.2,514.4 1931.4,514.2 1931.6,516.5 1931.8,514 1932,518.7 1932.2,514.5 1932.4,514.5 1932.6,516.7 1932.8,516.5 1933,516.6 1933.2,516.8 1933.4,517.3 1933.6,516 1933.8,517.9 1934,517.4 1934.2,517.6 1934.4,515.7 1934.6,518.3 1934.8,516.9 1935,517.7 1935.2,515.8 1935.4,512.6 1935.6,515.3 1935.8,516.3 1936,517.3 1936.2,515.7 1936.4,517.9 1936.6,516 1936.8,518 1937,513.9 1937.2,517.4 1937.4,517 1937.6,515.7 1937.8,516.3 1938,517.9 1938.2,516.5 1938.4,515.8 1938.6,517.8 1938.8,517.1 1939,517 1939.2,519.9 1939.4,517.1 1939.6,517.7 1939.8,518.3 1940,513.4 1940.2,517.3 1940.4,517.4 1940.6,516.4 1940.8,517.1 1941,517.5 1941.2,515.1 1941.4,515.6 1941.6,516.8 1941.8,517.5 1942,519.7 1942.2,515 1942.4,516 1942.6,515.2 1942.8,516.2 1943,516.7 1943.2,514.3 1943.4,515.9 1943.6,513.4 1943.8,516 1944,514.8 1944.2,513.3 1944.4,512.7 1944.6,512 1944.8,513.8 1945,514 1945.2,512.8 1945.4,510.4 1945.6,511.2 1945.8,510 1946,509.3 1946.2,509.3 1946.4,507.9 1946.6,508.2 1946.8,507.7 1947,508.8 1947.2,507.6 1947.4,504.2 1947.6,506.6 1947.8,506.4 1948,507 1948.2,506.9 1948.4,507.3 1948.6,505 1948.8,508.8 1949,506.6 1949.2,507.4 1949.4,507.6 1949.6,506.7 1949.8,505.8 1950,504.4 1950.2,507 1950.4,507.1 1950.6,508.6 1950.8,508.1 1951,512.7 1951.2,511.9 1951.4,511.2 1951.6,512.1 1951.8,512.5 1952,512.7 1952.2,512.3 1952.4,512.9 1952.6,513.9 1952.8,514.7 1953,513.4 1953.2,513.6 1953.4,514.3 1953.6,514.5 1953.8,515.8 1954,513.5 1954.2,511 1954.4,512.4 1954.6,515 1954.8,515.2 1955,516.4 1955.2,517.5 1955.4,515.2 1955.6,514.9 1955.8,517.2 1956,515 1956.2,516 1956.4,518 1956.6,516.8 1956.8,513.5 1957,517.2 1957.2,517.8 1957.4,516.8 1957.6,516.5 1957.8,516.2 1958,517.9 1958.2,520.1 1958.4,517.4 1958.6,521.2 1958.8,515 1959,517.6 1959.2,516.9 1959.4,513.8 1959.6,517.7 1959.8,517.9 1960,518.6 1960.2,519.5 1960.4,522.9 1960.6,518.7 1960.8,522.2 1961,518.7 1961.2,516.9 1961.4,518.6 1961.6,517.6 1961.8,514.2 1962,517.8 1962.2,517.4 1962.4,520.3 1962.6,516.4 1962.8,521.3 1963,518.3 1963.2,517 1963.4,516.1 1963.6,516.9 1963.8,516.6 1964,517.5 1964.2,518.6 1964.4,515.3 1964.6,516.2 1964.8,515.8 1965,515.1 1965.2,512.8 1965.4,513.4 1965.6,511.9 1965.8,510.4 1966,512.5 1966.2,515.5 1966.4,512.2 1966.6,511.2 1966.8,509.8 1967,508.6 1967.2,507.1 1967.4,507.5 1967.6,507.3 1967.8,505.7 1968,508.2 1968.2,506.2 1968.4,508.7 1968.6,504.1 1968.8,504.4 1969,505.6 1969.2,505.3 1969.4,507.3 1969.6,506.5 1969.8,506.2 1970,506.7 1970.2,507.5 1970.4,506.7 1970.6,508.4 1970.8,506 1971,507.8 1971.2,506.8 1971.4,507.8 1971.6,508.1 1971.8,509.5 1972,509.3 1972.2,507.5 1972.4,511.5 1972.6,511 1972.8,511.9 1973,511.1 1973.2,512.1 1973.4,512.2 1973.6,513.7 1973.8,514.7 1974,512.5 1974.2,515.1 1974.4,516.2 1974.6,514.2 1974.8,512.5 1975,513.1 1975.2,513.9 1975.4,515.4 1975.6,514.5 1975.8,512.7 1976,511.7 1976.2,509.8 1976.4,510.7 1976.6,507.3 1976.8,505 1977,504.6 1977.2,502.6 1977.4,498.2 1977.6,495.9 1977.8,492.8 1978,494.6 1978.2,488 1978.4,485.6 1978.6,484.1 1978.8,484.2 1979,486.6 1979.2,485.7 1979.4,488 1979.6,488.3 1979.8,490.3 1980,493.3 1980.2,492.7 1980.4,495.6 1980.6,499.3 1980.8,501.8 1981,503.4 1981.2,504.5 1981.4,506.3 1981.6,509.3 1981.8,512 1982,507.5 1982.2,513.7 1982.4,511.8 1982.6,519 1982.8,512 1983,514.9 1983.2,516 1983.4,515.5 1983.6,516.5 1983.8,517.9 1984,516.6 1984.2,518.1 1984.4,514.9 1984.6,516.3 1984.8,519.1 1985,518.6 1985.2,517.2 1985.4,518.7 1985.6,517.9 1985.8,517.1 1986,517.3 1986.2,517.3 1986.4,517.4 1986.6,517.9 1986.8,516.8 1987,515.2 1987.2,519.4 1987.4,519.6 1987.6,517.8 1987.8,518.2 1988,520.5 1988.2,516.1 1988.4,518.6 1988.6,518.2 1988.8,519.4 1989,520.1 1989.2,518.2 1989.4,518.7 1989.6,518.2 1989.8,516.8 1990,516.9 1990.2,517.8 1990.4,517.8 1990.6,519.5 1990.8,515.1 1991,519 1991.2,517 1991.4,517.4 1991.6,518 1991.8,517.8 1992,516.9 1992.2,518.9 1992.4,517.8 1992.6,519.1 1992.8,516.7 1993,517.9 1993.2,519.3 1993.4,516.5 1993.6,520.3 1993.8,519 1994,521.3 1994.2,518.9 1994.4,517.8 1994.6,520.4 1994.8,517 1995,518.7 1995.2,519.7 1995.4,514.9 1995.6,519.3 1995.8,518.6 1996,519.1 1996.2,518.5 1996.4,519.8 1996.6,519.4 1996.8,518.4 1997,518.4 1997.2,517.4 1997.4,519.1 1997.6,519.7 1997.8,519 1998,518.9 1998.2,519.1 1998.4,518 1998.6,517.7 1998.8,515.8 1999,517.2 1999.2,515.5 1999.4,519.4 1999.6,519.4 1999.8,518.7 2000,517.1 2000.2,517.6 2000.4,520 2000.6,518 2000.8,518.8 2001,517.6 2001.2,516.9 2001.4,517.2 2001.6,518.4 2001.8,517.3 2002,517.1 2002.2,520.8 2002.4,519.8 2002.6,517 2002.8,518.4 2003,518.8 2003.2,519.3 2003.4,517.8 2003.6,517.9 2003.8,519 2004,517.2 2004.2,517.5 2004.4,519.4 2004.6,515.8 2004.8,521.9 2005,519 2005.2,517 2005.4,516.8 2005.6,518.7 2005.8,518 2006,516.9 2006.2,515.9 2006.4,516.1 2006.6,516.3 2006.8,518.1 2007,517.6 2007.2,516.8 2007.4,515.5 2007.6,517.2 2007.8,516.8 2008,515.7 2008.2,515.9 2008.4,517 2008.6,515.6 2008.8,514 2009,514.8 2009.2,515.8 2009.4,516.6 2009.6,516.2 2009.8,514.6 2010,515.8 2010.2,515.2 2010.4,514.5 2010.6,513.4 2010.8,514.2 2011,514.1 2011.2,513.9 2011.4,515.2 2011.6,512.4 2011.8,512.3 2012,513.7 2012.2,510.6 2012.4,513.3 2012.6,509.9 2012.8,511.5 2013,508.7 2013.2,505.4 2013.4,512.2 2013.6,507 2013.8,508.7 2014,507.9 2014.2,505.3 2014.4,505.7 2014.6,506.6 2014.8,506.2 2015,505.9 2015.2,504.8 2015.4,502.8 2015.6,506.1 2015.8,502.7 2016,504 2016.2,506.5 2016.4,505.5 2016.6,502.9 2016.8,500.2 2017,503.7 2017.2,504.8 2017.4,504"/>
<rect x="1173" y="7.6" width="844.5" height="562.7" fill="none" stroke="#000" stroke-width="3"/>
<path d="M1173 570.3v-11.7M1233.3 570.3v-6.3M1293.6 570.3v-11.7M1354 570.3v-6.3M1414.3 570.3v-11.7M1474.6 570.3v-6.3M1534.9 570.3v-11.7M1595.2 570.3v-6.3M1655.6 570.3v-11.7M1715.9 570.3v-6.3M1776.2 570.3v-11.7M1836.5 570.3v-6.3M1896.9 570.3v-11.7M1957.2 570.3v-6.3M2017.5 570.3v-11.7" stroke="#000" stroke-width="2.8" fill="none"/>
<g font-family='"Liberation Serif","Times New Roman",serif' font-size="24.6" text-anchor="middle">
<text x="1172.7" y="600.9">20</text>
<text x="1293.3" y="600.9">30</text>
<text x="1413.9" y="600.9">40</text>
<text x="1534.6" y="600.9">50</text>
<text x="1655.2" y="600.9">60</text>
<text x="1775.9" y="600.9">70</text>
<text x="1896.5" y="600.9">80</text>
<text x="2017.2" y="600.9">90</text>
</g>
<text x="1595.2" y="642.1" font-family='"Liberation Serif","Times New Roman",serif' font-size="24.6" text-anchor="middle">2Theta (Degree)</text>
<text transform="translate(1146 304.6) rotate(-90)" font-family='"Liberation Serif","Times New Roman",serif' font-size="24.9" text-anchor="middle">Intensity (a.u)</text>
<text transform="translate(1073.8 62) scale(1.05 1)" font-family='"Liberation Serif","Times New Roman",serif' font-size="85" font-weight="bold">(b)</text>
<g font-family='"Liberation Serif","Times New Roman",serif' font-size="25.1" letter-spacing="0.8">
<text transform="translate(1858 59.9) scale(0.93 1)" xml:space="preserve">A : TiO<tspan dy="10" font-size="14">2</tspan></text>
<text transform="translate(1858 98.5) scale(0.93 1)" xml:space="preserve">B : Ti<tspan dy="10" font-size="14">2</tspan><tspan dy="-10">O</tspan></text>
<text transform="translate(1858 137.1) scale(0.93 1)" xml:space="preserve">C : Na<tspan dy="10" font-size="14">4</tspan><tspan dy="-10">Ti</tspan><tspan dy="10" font-size="14">5</tspan><tspan dy="-10">O</tspan><tspan dy="10" font-size="14">12</tspan></text>
<text transform="translate(1858 175.7) scale(0.93 1)" xml:space="preserve">D : Ti</text>
</g>
<g font-family='"Liberation Serif","Times New Roman",serif' font-size="25.1" text-anchor="middle"><text transform="translate(1264.9 53.9) scale(0.93 1)">A</text><text transform="translate(1415.5 58.2) scale(0.93 1)">B</text><text transform="translate(1352.8 316.2) scale(0.93 1)">B</text><text transform="translate(1378.4 315.2) scale(0.93 1)">B</text><text transform="translate(1191.2 466.4) scale(0.93 1)">C</text><text transform="translate(1332.3 481.2) scale(0.93 1)">C</text><text transform="translate(1345.6 481.2) scale(0.93 1)">C</text><text transform="translate(1366.1 435.6) scale(0.93 1)">A</text><text transform="translate(1404 440.7) scale(0.93 1)">A</text><text transform="translate(1430.9 468.9) scale(0.93 1)">A</text><text transform="translate(1464 454.3) scale(0.93 1)">A</text><text transform="translate(1524.2 502) scale(0.93 1)">C</text><text transform="translate(1559.5 474.8) scale(0.93 1)">B</text><text transform="translate(1588.1 410.5) scale(0.93 1)">A</text><text transform="translate(1616.8 411.3) scale(0.93 1)">A</text><text transform="translate(1623.5 491.5) scale(0.93 1)">B</text><text transform="translate(1662.4 506.1) scale(0.93 1)">C</text><text transform="translate(1691.9 433.6) scale(0.93 1)">A</text><text transform="translate(1690.8 458.7) scale(0.93 1)">B</text><text transform="translate(1707.8 459.4) scale(0.93 1)">A</text><text transform="translate(1764.9 440.2) scale(0.93 1)">A</text><text transform="translate(1758 461.8) scale(0.93 1)">B</text><text transform="translate(1776.4 476.1) scale(0.93 1)">A</text><text transform="translate(1858.4 495.8) scale(0.93 1)">B</text><text transform="translate(1928.8 495.1) scale(0.93 1)">A</text><text transform="translate(1949.8 501.7) scale(0.93 1)">A</text><text transform="translate(2012.1 507.9) scale(0.93 1)">A</text></g>
<g font-family='"Liberation Sans",Arial,sans-serif' font-size="23.0" text-anchor="middle" stroke="#000" stroke-width="0.5"><text x="1415.5" y="82.6">D</text><text x="1387.9" y="231.1">D</text><text x="1354.1" y="341.8">D</text><text x="1568.5" y="488.6">D</text><text x="1690.1" y="489.9">D</text><text x="1864.8" y="455.6">D</text><text x="1978.8" y="481.2">D</text></g>
</g>
<g id="panel-c">
<clipPath id="clip2"><rect x="95" y="727.3" width="847" height="563.3"/></clipPath>
<polyline clip-path="url(#clip2)" fill="none" stroke="#000" stroke-opacity="1" stroke-width="0.64" stroke-linejoin="round" points="95,1180 95.2,1174.6 95.4,1175.1 95.6,1179.7 95.8,1181.5 96,1184.2 96.2,1182.7 96.4,1192.9 96.6,1182.9 96.8,1185.1 97,1186.7 97.2,1179 97.4,1182.2 97.6,1187.4 97.8,1176.7 98,1171.4 98.2,1177.3 98.4,1185.5 98.6,1185.9 98.8,1168.6 99,1174.9 99.2,1192.2 99.4,1172.6 99.6,1184.4 99.8,1168.1 100,1181.9 100.2,1188.7 100.4,1184 100.6,1179 100.8,1181.9 101,1195.5 101.2,1178.4 101.4,1192.6 101.6,1183.6 101.8,1181.2 102,1188.5 102.2,1181.4 102.4,1183.3 102.6,1179.6 102.8,1186.8 103,1185.5 103.2,1191.9 103.4,1177.4 103.6,1182.6 103.8,1180.1 104,1187.8 104.2,1181.8 104.4,1185.1 104.6,1182.5 104.8,1192.9 105,1181.3 105.2,1178.8 105.4,1186.3 105.6,1184.9 105.8,1184.6 106,1190.3 106.2,1189.8 106.4,1189.4 106.6,1200.8 106.8,1186.5 107,1192 107.2,1189.5 107.4,1188.8 107.6,1173.3 107.8,1183.3 108,1189.1 108.2,1191.1 108.4,1186.2 108.6,1194.3 108.8,1185.5 109,1194.2 109.2,1177.7 109.4,1186.4 109.6,1188.2 109.8,1187.6 110,1178.6 110.2,1187 110.4,1185.5 110.6,1192 110.8,1177.3 111,1188.6 111.2,1181.8 111.4,1188.8 111.6,1174.7 111.8,1184.5 112,1168.3 112.2,1172.5 112.4,1169.2 112.6,1155.8 112.8,1148.9 113,1136.4 113.2,1135.2 113.4,1127.5 113.6,1111.9 113.8,1107 114,1108.7 114.2,1102.2 114.4,1103.4 114.6,1111.2 114.8,1110.1 115,1113.2 115.2,1114.3 115.4,1125.1 115.6,1133.1 115.8,1132.8 116,1150.2 116.2,1152.9 116.4,1158.2 116.6,1176.8 116.8,1172 117,1174.6 117.2,1175.8 117.4,1176.6 117.6,1180 117.8,1187.6 118,1186.6 118.2,1182.2 118.4,1192.4 118.6,1179.8 118.8,1199.7 119,1199.8 119.2,1197.1 119.4,1183.9 119.6,1191.7 119.8,1191.1 120,1200.1 120.2,1205.1 120.4,1202.9 120.6,1200.3 120.8,1193.2 121,1192.3 121.2,1195.3 121.4,1195.4 121.6,1191.4 121.8,1204.8 122,1200.5 122.2,1190.4 122.4,1203.9 122.6,1195.7 122.8,1208.7 123,1224.3 123.2,1194.4 123.4,1191.6 123.6,1192.4 123.8,1196.9 124,1207.8 124.2,1202.6 124.4,1195.5 124.6,1199.9 124.8,1203.3 125,1195.7 125.2,1193.8 125.4,1210.1 125.6,1193.3 125.8,1198 126,1188.5 126.2,1203.9 126.4,1193.7 126.6,1195.8 126.8,1207.8 127,1205.3 127.2,1202.6 127.4,1202 127.6,1207.2 127.8,1209.3 128,1203.9 128.2,1203.9 128.4,1203.4 128.6,1192.6 128.8,1215.3 129,1198.3 129.2,1203.9 129.4,1207.7 129.6,1204.4 129.8,1195.2 130,1215 130.2,1205.8 130.4,1218.6 130.6,1208.5 130.8,1212.1 131,1206.4 131.2,1205.9 131.4,1205.9 131.6,1208.1 131.8,1212.3 132,1225.9 132.2,1193.9 132.4,1211.7 132.6,1206.4 132.8,1199.8 133,1204.4 133.2,1213.6 133.4,1206.2 133.6,1216.4 133.8,1204.5 134,1202.8 134.2,1210.2 134.4,1204 134.6,1211.2 134.8,1213.8 135,1202.1 135.2,1209 135.4,1204.5 135.6,1211.6 135.8,1211.7 136,1209.2 136.2,1208.7 136.4,1206.5 136.6,1198.5 136.8,1221.1 137,1208.9 137.2,1212.1 137.4,1213.3 137.6,1212.5 137.8,1211 138,1210.1 138.2,1215.4 138.4,1211.6 138.6,1212.8 138.8,1207.3 139,1220.1 139.2,1212.1 139.4,1211.7 139.6,1214.1 139.8,1213.6 140,1211.9 140.2,1227.1 140.4,1215.8 140.6,1212.8 140.8,1205.6 141,1209 141.2,1219.5 141.4,1209.9 141.6,1212.3 141.8,1211.3 142,1211.1 142.2,1212.6 142.4,1205.9 142.6,1214 142.8,1211.6 143,1214.5 143.2,1217 143.4,1221 143.6,1222.8 143.8,1209.3 144,1216.8 144.2,1221.7 144.4,1219 144.6,1220.3 144.8,1218.1 145,1213.5 145.2,1224.9 145.4,1232.4 145.6,1213.9 145.8,1217.8 146,1217.7 146.2,1217.9 146.4,1217.7 146.6,1223.2 146.8,1215 147,1225 147.2,1213.5 147.4,1210.6 147.6,1214.8 147.8,1217.3 148,1215.1 148.2,1217.3 148.4,1213.8 148.6,1213.3 148.8,1215.3 149,1212.2 149.2,1213.5 149.4,1215.2 149.6,1208.4 149.8,1224.5 150,1207.6 150.2,1216.3 150.4,1217.1 150.6,1217.8 150.8,1223 151,1219.5 151.2,1215.8 151.4,1220 151.6,1223.4 151.8,1225.9 152,1218.7 152.2,1213.4 152.4,1206.6 152.6,1213 152.8,1208.9 153,1221.4 153.2,1213.5 153.4,1207.7 153.6,1222.1 153.8,1211.5 154,1221.4 154.2,1213.3 154.4,1216.1 154.6,1212.7 154.8,1218.6 155,1218.2 155.2,1218.6 155.4,1216.8 155.6,1224.4 155.8,1219.6 156,1218.7 156.2,1219.1 156.4,1227.7 156.6,1210.7 156.8,1223 157,1216.1 157.2,1225.4 157.4,1221.7 157.6,1213.7 157.8,1226.8 158,1215.9 158.2,1217.2 158.4,1225.3 158.6,1225.9 158.8,1223.2 159,1214.1 159.2,1221.7 159.4,1222.4 159.6,1220.8 159.8,1219.4 160,1228.7 160.2,1221.9 160.4,1229.4 160.6,1230.7 160.8,1227.2 161,1226.2 161.2,1218.9 161.4,1220 161.6,1219.2 161.8,1219.9 162,1226.1 162.2,1225 162.4,1215.7 162.6,1228.5 162.8,1225.7 163,1227.9 163.2,1211.1 163.4,1223.6 163.6,1225.8 163.8,1225.2 164,1225 164.2,1223.7 164.4,1222.6 164.6,1223.4 164.8,1228.6 165,1219.1 165.2,1223 165.4,1228.8 165.6,1223.9 165.8,1226.2 166,1226 166.2,1221.8 166.4,1227 166.6,1226 166.8,1221.1 167,1226.8 167.2,1226 167.4,1225.7 167.6,1227.9 167.8,1216.5 168,1216.7 168.2,1217.9 168.4,1219.2 168.6,1216.6 168.8,1210.3 169,1226.9 169.2,1228.3 169.4,1226 169.6,1234 169.8,1233.8 170,1217.3 170.2,1228.5 170.4,1223.6 170.6,1225.5 170.8,1225.5 171,1228.2 171.2,1223.5 171.4,1228.6 171.6,1217.4 171.8,1230 172,1227.1 172.2,1226.3 172.4,1235.5 172.6,1227.9 172.8,1234.5 173,1236.2 173.2,1218.6 173.4,1232.3 173.6,1228 173.8,1223.3 174,1230.3 174.2,1230.9 174.4,1229.6 174.6,1246.4 174.8,1227.6 175,1227.6 175.2,1235.8 175.4,1230.4 175.6,1224.3 175.8,1217.9 176,1225 176.2,1221.4 176.4,1223.9 176.6,1229.9 176.8,1224.6 177,1224.6 177.2,1225.6 177.4,1235.1 177.6,1233.7 177.8,1226.9 178,1223.6 178.2,1227 178.4,1219.7 178.6,1219 178.8,1225.7 179,1221.3 179.2,1221.7 179.4,1223.9 179.6,1207.7 179.8,1225.5 180,1218.6 180.2,1222.5 180.4,1222.9 180.6,1224.3 180.8,1220.8 181,1215.1 181.2,1209.1 181.4,1215.9 181.6,1209.7 181.8,1213.6 182,1212.5 182.2,1206.2 182.4,1208 182.6,1205.3 182.8,1195.9 183,1192.5 183.2,1184.5 183.4,1170.7 183.6,1161.9 183.8,1149.7 184,1130.6 184.2,1110.1 184.4,1085.5 184.6,1048.3 184.8,1010.9 185,970.9 185.2,925.5 185.4,878.8 185.6,828.6 185.8,777.1 186,729.5 186.2,679.7 186.4,636.6 186.6,607 186.8,590.1 187,583.3 187.2,584.5 187.4,597.3 187.6,613.9 187.8,641.8 188,668.6 188.2,700.8 188.4,731.8 188.6,772.3 188.8,815 189,848.3 189.2,883.8 189.4,924.2 189.6,959.3 189.8,988.5 190,1016.8 190.2,1043.7 190.4,1069.7 190.6,1093.9 190.8,1111.9 191,1121.4 191.2,1141 191.4,1159.6 191.6,1164.9 191.8,1175.2 192,1197.8 192.2,1186.8 192.4,1188.9 192.6,1201.2 192.8,1195.8 193,1207.2 193.2,1207.9 193.4,1210 193.6,1206.1 193.8,1213.6 194,1210.1 194.2,1210.7 194.4,1212.3 194.6,1215.5 194.8,1214.7 195,1218.3 195.2,1224 195.4,1222.2 195.6,1218.1 195.8,1225.3 196,1220.4 196.2,1219.5 196.4,1230 196.6,1216.4 196.8,1219.5 197,1228.2 197.2,1219.2 197.4,1232.2 197.6,1227.8 197.8,1220.1 198,1224.1 198.2,1226.3 198.4,1210.6 198.6,1224.4 198.8,1224.3 199,1223.5 199.2,1229.4 199.4,1228.7 199.6,1228.2 199.8,1218.7 200,1224.8 200.2,1231 200.4,1234 200.6,1234.4 200.8,1233.4 201,1230.3 201.2,1229.3 201.4,1218.4 201.6,1234.4 201.8,1227 202,1225.7 202.2,1227.4 202.4,1225.1 202.6,1228.6 202.8,1229.1 203,1221.4 203.2,1231.6 203.4,1231.8 203.6,1230.4 203.8,1222.8 204,1247.7 204.2,1220.8 204.4,1222.4 204.6,1228.3 204.8,1234.5 205,1234.7 205.2,1219.3 205.4,1227.7 205.6,1226.7 205.8,1228.8 206,1231 206.2,1236.5 206.4,1231.7 206.6,1231.9 206.8,1225.9 207,1233.4 207.2,1230.9 207.4,1228.7 207.6,1232.1 207.8,1236.9 208,1223.2 208.2,1225.2 208.4,1222.2 208.6,1239.2 208.8,1232.6 209,1244.3 209.2,1228.9 209.4,1231.8 209.6,1231 209.8,1228.4 210,1232.9 210.2,1232.1 210.4,1234.2 210.6,1223.4 210.8,1235.1 211,1235.6 211.2,1236.7 211.4,1231.1 211.6,1234.2 211.8,1240.9 212,1223.8 212.2,1241.9 212.4,1234.4 212.6,1235.9 212.8,1237.6 213,1229.8 213.2,1244 213.4,1240.5 213.6,1235.2 213.8,1243 214,1235.1 214.2,1241.7 214.4,1233.6 214.6,1232.8 214.8,1232.3 215,1235 215.2,1228 215.4,1230.4 215.6,1231.1 215.8,1223.4 216,1231 216.2,1234.3 216.4,1230.9 216.6,1237.7 216.8,1234.2 217,1241.4 217.2,1236 217.4,1249.1 217.6,1229.8 217.8,1240.6 218,1235.2 218.2,1238.8 218.4,1234.8 218.6,1239.5 218.8,1226.8 219,1234 219.2,1239.7 219.4,1233.5 219.6,1251.3 219.8,1240 220,1228.1 220.2,1238.7 220.4,1239.2 220.6,1234.9 220.8,1238 221,1236.8 221.2,1236 221.4,1235.4 221.6,1243.1 221.8,1232.3 222,1238.4 222.2,1237.3 222.4,1234.2 222.6,1240 222.8,1232.5 223,1239.6 223.2,1220.4 223.4,1232.3 223.6,1235.3 223.8,1238.9 224,1242.5 224.2,1235 224.4,1238.5 224.6,1235.5 224.8,1239.3 225,1243.5 225.2,1247.4 225.4,1242.5 225.6,1242 225.8,1232.3 226,1239 226.2,1234.5 226.4,1236.8 226.6,1235.3 226.8,1237.8 227,1250.5 227.2,1233.8 227.4,1238.7 227.6,1239 227.8,1246.3 228,1236.7 228.2,1245.7 228.4,1246.9 228.6,1237.5 228.8,1229.7 229,1237.1 229.2,1246 229.4,1238.5 229.6,1230.2 229.8,1245.2 230,1240.1 230.2,1229.5 230.4,1247.1 230.6,1256.1 230.8,1243 231,1243.5 231.2,1242.6 231.4,1234.1 231.6,1235.1 231.8,1238.9 232,1227.7 232.2,1236.3 232.4,1236.2 232.6,1242 232.8,1232.7 233,1231.4 233.2,1241 233.4,1246 233.6,1241.4 233.8,1236.4 234,1237.6 234.2,1238.3 234.4,1238.9 234.6,1242.9 234.8,1234.9 235,1253.8 235.2,1247 235.4,1240.1 235.6,1249.7 235.8,1236.3 236,1235.8 236.2,1247.6 236.4,1234.3 236.6,1244.4 236.8,1241.3 237,1239.3 237.2,1219.5 237.4,1215.7 237.6,1212 237.8,1208.1 238,1196.5 238.2,1196.4 238.4,1195.3 238.6,1200.9 238.8,1202.2 239,1210 239.2,1214.4 239.4,1225.2 239.6,1222.3 239.8,1229.3 240,1227.7 240.2,1228.2 240.4,1242.7 240.6,1240.6 240.8,1240 241,1252 241.2,1242.9 241.4,1238.5 241.6,1241.9 241.8,1235.4 242,1239.8 242.2,1248.4 242.4,1239.9 242.6,1246.3 242.8,1248.7 243,1238.1 243.2,1241.5 243.4,1238.8 243.6,1249.1 243.8,1237.2 244,1231.7 244.2,1244.4 244.4,1240.8 244.6,1242.2 244.8,1238.9 245,1238.4 245.2,1242.3 245.4,1245.5 245.6,1238.3 245.8,1236 246,1235.9 246.2,1235.7 246.4,1238.7 246.6,1247.7 246.8,1241.1 247,1250.6 247.2,1215.6 247.4,1249.8 247.6,1240.3 247.8,1239.6 248,1240.7 248.2,1237.3 248.4,1244.1 248.6,1241.1 248.8,1240.8 249,1240.9 249.2,1237.9 249.4,1243.6 249.6,1233.7 249.8,1238 250,1232.1 250.2,1234.3 250.4,1235.4 250.6,1234 250.8,1238.3 251,1247.1 251.2,1241.8 251.4,1240.1 251.6,1239.2 251.8,1236 252,1242.3 252.2,1245.6 252.4,1248.6 252.6,1234.1 252.8,1240.7 253,1237.9 253.2,1245.1 253.4,1243.5 253.6,1238.7 253.8,1236.6 254,1246.1 254.2,1235.9 254.4,1242.4 254.6,1236 254.8,1254.4 255,1239.1 255.2,1241.3 255.4,1239 255.6,1245.3 255.8,1235.5 256,1253 256.2,1240.5 256.4,1244.8 256.6,1245.2 256.8,1243.8 257,1240.7 257.2,1233.3 257.4,1241.3 257.6,1238.1 257.8,1242.2 258,1239.4 258.2,1235.7 258.4,1234.6 258.6,1235 258.8,1245.7 259,1234.2 259.2,1221.9 259.4,1218.3 259.6,1216.6 259.8,1205.5 260,1196.9 260.2,1181.6 260.4,1170.1 260.6,1158.7 260.8,1142.8 261,1131.1 261.2,1115.8 261.4,1106.2 261.6,1101.6 261.8,1092.2 262,1100.5 262.2,1102.9 262.4,1107.9 262.6,1118.3 262.8,1130.5 263,1135.9 263.2,1146.9 263.4,1157.9 263.6,1165.5 263.8,1175.2 264,1185.6 264.2,1195.7 264.4,1205.5 264.6,1196.4 264.8,1211.8 265,1234.8 265.2,1220.9 265.4,1228.5 265.6,1229.6 265.8,1233.7 266,1231.9 266.2,1231.4 266.4,1227 266.6,1227.2 266.8,1228.2 267,1228.6 267.2,1224 267.4,1216.3 267.6,1217.8 267.8,1212.6 268,1207.3 268.2,1203.7 268.4,1200.7 268.6,1196.9 268.8,1202.5 269,1214.6 269.2,1214.1 269.4,1211.9 269.6,1215.8 269.8,1226.5 270,1223.4 270.2,1232.3 270.4,1230.9 270.6,1224.5 270.8,1236.7 271,1229.9 271.2,1229.8 271.4,1236.9 271.6,1239.7 271.8,1237.5 272,1238.7 272.2,1240.4 272.4,1233.4 272.6,1241.3 272.8,1239.3 273,1247 273.2,1243.9 273.4,1232.6 273.6,1242.2 273.8,1241.6 274,1245.8 274.2,1242.8 274.4,1241.4 274.6,1239.9 274.8,1233.3 275,1237 275.2,1240.8 275.4,1232.2 275.6,1239.5 275.8,1233.2 276,1236.4 276.2,1220 276.4,1239.6 276.6,1231.3 276.8,1228.1 277,1230 277.2,1227 277.4,1226.1 277.6,1224.9 277.8,1224.5 278,1219.6 278.2,1226.8 278.4,1227.6 278.6,1215.8 278.8,1224 279,1225.6 279.2,1226.9 279.4,1244.8 279.6,1234.3 279.8,1233 280,1230.9 280.2,1235.7 280.4,1234.1 280.6,1238.2 280.8,1252.7 281,1247 281.2,1238.9 281.4,1242.4 281.6,1237.7 281.8,1244.2 282,1236.9 282.2,1245.2 282.4,1246 282.6,1248.4 282.8,1248.8 283,1244.9 283.2,1247.2 283.4,1247.7 283.6,1239 283.8,1237 284,1245.9 284.2,1268.2 284.4,1235.1 284.6,1229 284.8,1238.2 285,1239.5 285.2,1232.5 285.4,1241.5 285.6,1245.5 285.8,1238.7 286,1236 286.2,1239.1 286.4,1238.1 286.6,1233.3 286.8,1233.8 287,1232.7 287.2,1233.2 287.4,1227.6 287.6,1224.2 287.8,1214.6 288,1206.4 288.2,1199.3 288.4,1192.8 288.6,1165 288.8,1132.3 289,1112.3 289.2,1071.3 289.4,1030.4 289.6,991 289.8,941.4 290,898.8 290.2,860.5 290.4,836.2 290.6,813.4 290.8,812.1 291,823 291.2,843 291.4,865.4 291.6,889.4 291.8,926 292,961.3 292.2,996.1 292.4,1025.1 292.6,1054.1 292.8,1084.5 293,1107.5 293.2,1128.3 293.4,1151.6 293.6,1165.5 293.8,1180.2 294,1194.7 294.2,1202.1 294.4,1207.4 294.6,1209.8 294.8,1216.2 295,1221.9 295.2,1228 295.4,1228.3 295.6,1222.8 295.8,1226.5 296,1225.8 296.2,1233.7 296.4,1232.7 296.6,1236.3 296.8,1230.4 297,1236.6 297.2,1229.6 297.4,1241.3 297.6,1234.1 297.8,1242.9 298,1236.8 298.2,1229.7 298.4,1239.3 298.6,1233.1 298.8,1231.4 299,1232.7 299.2,1237.4 299.4,1226.9 299.6,1236.5 299.8,1239 300,1223.1 300.2,1230.8 300.4,1228.9 300.6,1221.4 300.8,1226.3 301,1223.2 301.2,1224.2 301.4,1213 301.6,1224.7 301.8,1227.5 302,1230.9 302.2,1227.2 302.4,1224 302.6,1233.9 302.8,1227.6 303,1230 303.2,1237 303.4,1236.4 303.6,1234.7 303.8,1232.5 304,1233.8 304.2,1237.3 304.4,1231.8 304.6,1238.5 304.8,1237.3 305,1236.8 305.2,1234.8 305.4,1241.9 305.6,1235.8 305.8,1230.8 306,1231.2 306.2,1232.9 306.4,1244.6 306.6,1230.3 306.8,1233.8 307,1235.1 307.2,1224.8 307.4,1229.6 307.6,1231.2 307.8,1232.4 308,1217.9 308.2,1218.1 308.4,1224.9 308.6,1214.3 308.8,1213.5 309,1210.2 309.2,1196.1 309.4,1198.3 309.6,1180.8 309.8,1170.6 310,1158.1 310.2,1141.8 310.4,1117 310.6,1099.8 310.8,1072.3 311,1047.7 311.2,1018.8 311.4,986.1 311.6,958.4 311.8,926.6 312,900.6 312.2,864.5 312.4,844.9 312.6,831.3 312.8,816.2 313,817.4 313.2,812.8 313.4,821.2 313.6,831.7 313.8,845.2 314,862.1 314.2,878.4 314.4,898.2 314.6,923.9 314.8,948.8 315,970.6 315.2,992.2 315.4,1015 315.6,1036.9 315.8,1053.5 316,1077.4 316.2,1092.8 316.4,1113 316.6,1125.2 316.8,1144.9 317,1156.8 317.2,1165.9 317.4,1175.8 317.6,1183.5 317.8,1195.2 318,1205.3 318.2,1210.4 318.4,1213.6 318.6,1218.5 318.8,1221.1 319,1222.5 319.2,1222.5 319.4,1232.7 319.6,1225.2 319.8,1232.6 320,1233.7 320.2,1237.7 320.4,1231.7 320.6,1237.8 320.8,1234.3 321,1231.1 321.2,1242.1 321.4,1241.8 321.6,1238.6 321.8,1240.1 322,1243 322.2,1238.9 322.4,1236.2 322.6,1236.1 322.8,1232.2 323,1244.4 323.2,1234.7 323.4,1245.4 323.6,1256.8 323.8,1244.2 324,1237.6 324.2,1239.4 324.4,1242.7 324.6,1241.5 324.8,1245.1 325,1234.1 325.2,1237.3 325.4,1232.5 325.6,1229.9 325.8,1234.4 326,1230.4 326.2,1231.3 326.4,1217.5 326.6,1211.6 326.8,1213.4 327,1199.1 327.2,1192.6 327.4,1189.9 327.6,1182.4 327.8,1180.5 328,1176 328.2,1167.8 328.4,1166.7 328.6,1166.2 328.8,1171.6 329,1168.8 329.2,1174.3 329.4,1180.5 329.6,1188 329.8,1187.2 330,1192.4 330.2,1198.3 330.4,1210.9 330.6,1204.1 330.8,1210.7 331,1220.3 331.2,1222.4 331.4,1224.1 331.6,1223.9 331.8,1227 332,1224.1 332.2,1239.5 332.4,1231.5 332.6,1231.8 332.8,1224.5 333,1231.6 333.2,1234.7 333.4,1233.9 333.6,1220.8 333.8,1220.8 334,1222.1 334.2,1210.2 334.4,1207.8 334.6,1195.8 334.8,1189.2 335,1178 335.2,1165.6 335.4,1161.3 335.6,1132.5 335.8,1120.2 336,1095.7 336.2,1077.7 336.4,1054.5 336.6,1033.5 336.8,1011.9 337,986.8 337.2,964.8 337.4,949.2 337.6,935 337.8,923.2 338,920.2 338.2,920.7 338.4,923.3 338.6,926.2 338.8,939.9 339,949.2 339.2,959.5 339.4,981.6 339.6,992.2 339.8,1007.9 340,1019.4 340.2,1047.1 340.4,1058 340.6,1072.1 340.8,1088 341,1098.9 341.2,1116.3 341.4,1130.2 341.6,1141.1 341.8,1161.5 342,1166.3 342.2,1178.2 342.4,1186.9 342.6,1194.7 342.8,1203.6 343,1206.4 343.2,1211 343.4,1218.8 343.6,1220.2 343.8,1219.1 344,1226.2 344.2,1230.2 344.4,1229.5 344.6,1236.2 344.8,1222.1 345,1237.8 345.2,1232.6 345.4,1240.4 345.6,1240.7 345.8,1248.1 346,1240.7 346.2,1245.2 346.4,1244.3 346.6,1244.5 346.8,1246.2 347,1245.9 347.2,1237.8 347.4,1247 347.6,1246.8 347.8,1247.5 348,1238.9 348.2,1242.8 348.4,1249.7 348.6,1249.6 348.8,1240 349,1255.3 349.2,1236 349.4,1241.3 349.6,1238.7 349.8,1240.4 350,1236.8 350.2,1229.3 350.4,1231.2 350.6,1221 350.8,1209.3 351,1200.8 351.2,1188.3 351.4,1170.4 351.6,1158.1 351.8,1138.5 352,1123.1 352.2,1104.6 352.4,1090 352.6,1070.6 352.8,1060.9 353,1059.8 353.2,1059.4 353.4,1065.6 353.6,1075 353.8,1089.1 354,1099.4 354.2,1112.6 354.4,1122.9 354.6,1137.8 354.8,1152.2 355,1162.1 355.2,1177 355.4,1186.8 355.6,1195 355.8,1211.2 356,1214.4 356.2,1216.5 356.4,1227.1 356.6,1225.9 356.8,1240.5 357,1236.1 357.2,1239.1 357.4,1236.8 357.6,1242.2 357.8,1247.1 358,1238.1 358.2,1239.9 358.4,1252.6 358.6,1247.5 358.8,1244.7 359,1251.6 359.2,1250.2 359.4,1248.4 359.6,1253 359.8,1253.3 360,1243.5 360.2,1252.1 360.4,1245.8 360.6,1242.9 360.8,1232.5 361,1246.8 361.2,1249.8 361.4,1250.9 361.6,1252.5 361.8,1251.6 362,1244.7 362.2,1253.9 362.4,1252.7 362.6,1250 362.8,1257.5 363,1252 363.2,1251.9 363.4,1254.6 363.6,1248.4 363.8,1228.3 364,1246.5 364.2,1251.5 364.4,1250.4 364.6,1257.4 364.8,1242.4 365,1253.1 365.2,1239.5 365.4,1243.3 365.6,1243.4 365.8,1252.6 366,1232 366.2,1253 366.4,1246.9 366.6,1244.4 366.8,1249.7 367,1254.4 367.2,1240.3 367.4,1245 367.6,1241.4 367.8,1249 368,1245.4 368.2,1254 368.4,1243.5 368.6,1237.8 368.8,1249.2 369,1249.2 369.2,1244.2 369.4,1246.7 369.6,1241.9 369.8,1244.2 370,1244.1 370.2,1244.7 370.4,1250.4 370.6,1249.7 370.8,1242.4 371,1237.8 371.2,1247.9 371.4,1254.1 371.6,1244.2 371.8,1245.5 372,1242.3 372.2,1251.9 372.4,1242.6 372.6,1244.1 372.8,1243.4 373,1246.3 373.2,1238 373.4,1248.3 373.6,1251.8 373.8,1245.3 374,1246.4 374.2,1245 374.4,1246.7 374.6,1245.2 374.8,1247.3 375,1257.9 375.2,1247.8 375.4,1245.6 375.6,1259 375.8,1252 376,1250 376.2,1248.1 376.4,1246.9 376.6,1246.9 376.8,1247 377,1246.6 377.2,1250.5 377.4,1248.6 377.6,1243.9 377.8,1243.9 378,1248.7 378.2,1246.9 378.4,1247.9 378.6,1248.4 378.8,1250.4 379,1243 379.2,1247.3 379.4,1248.3 379.6,1245.8 379.8,1247.3 380,1257.4 380.2,1248.3 380.4,1242.1 380.6,1260.6 380.8,1253.9 381,1262.3 381.2,1249.1 381.4,1246 381.6,1241.5 381.8,1250.9 382,1257.3 382.2,1241.6 382.4,1248.6 382.6,1253.6 382.8,1242.2 383,1251.5 383.2,1256.2 383.4,1249.5 383.6,1261.6 383.8,1243.2 384,1245.6 384.2,1249.4 384.4,1263.9 384.6,1240.3 384.8,1236.7 385,1242.5 385.2,1239.2 385.4,1226.5 385.6,1221.3 385.8,1222.1 386,1213.8 386.2,1196.2 386.4,1189.6 386.6,1181.3 386.8,1172.4 387,1159.5 387.2,1163.2 387.4,1163.1 387.6,1162.3 387.8,1165.6 388,1169.1 388.2,1178.4 388.4,1188.8 388.6,1195.6 388.8,1202.7 389,1209.5 389.2,1216.6 389.4,1221.7 389.6,1223.3 389.8,1232.6 390,1236.5 390.2,1236.3 390.4,1240.4 390.6,1237.9 390.8,1252.3 391,1260.4 391.2,1245.9 391.4,1250.6 391.6,1250.2 391.8,1255.1 392,1250.7 392.2,1262.4 392.4,1255.5 392.6,1256.7 392.8,1262.5 393,1249 393.2,1258.2 393.4,1262.6 393.6,1252.7 393.8,1258.9 394,1262.2 394.2,1263.8 394.4,1255.1 394.6,1252.1 394.8,1255 395,1253.5 395.2,1261.5 395.4,1255.9 395.6,1261.4 395.8,1258.6 396,1257.3 396.2,1256 396.4,1257.5 396.6,1257.4 396.8,1255.8 397,1256.1 397.2,1254.4 397.4,1244.9 397.6,1257.1 397.8,1243.9 398,1263.2 398.2,1249.7 398.4,1258 398.6,1255.5 398.8,1256.9 399,1257.5 399.2,1244.7 399.4,1257.2 399.6,1259.3 399.8,1251.3 400,1259.5 400.2,1254.4 400.4,1258.5 400.6,1255.6 400.8,1254 401,1257 401.2,1256 401.4,1257.8 401.6,1260 401.8,1255.8 402,1265.3 402.2,1260.5 402.4,1248.8 402.6,1249 402.8,1254.9 403,1252 403.2,1246.9 403.4,1242.7 403.6,1251.6 403.8,1247.9 404,1242.6 404.2,1240.6 404.4,1250.3 404.6,1249 404.8,1249.2 405,1245.2 405.2,1248.6 405.4,1251.8 405.6,1240.8 405.8,1245.8 406,1255.7 406.2,1265.7 406.4,1258.4 406.6,1255.5 406.8,1256.7 407,1253 407.2,1253.9 407.4,1246.8 407.6,1261.4 407.8,1256.2 408,1257.1 408.2,1259.6 408.4,1255 408.6,1248.5 408.8,1259.2 409,1259.1 409.2,1256.3 409.4,1256.9 409.6,1263.4 409.8,1263.9 410,1264.9 410.2,1252 410.4,1258.7 410.6,1266.8 410.8,1261.5 411,1253.2 411.2,1255.6 411.4,1262.9 411.6,1263 411.8,1265.1 412,1258.6 412.2,1252.6 412.4,1268.5 412.6,1260.3 412.8,1254.7 413,1261.8 413.2,1256.2 413.4,1271.2 413.6,1264.8 413.8,1264.3 414,1247.1 414.2,1263.2 414.4,1262.6 414.6,1262 414.8,1259.8 415,1263.7 415.2,1250.5 415.4,1261.4 415.6,1255.5 415.8,1258.1 416,1261.3 416.2,1260.4 416.4,1268 416.6,1256.3 416.8,1261 417,1259.1 417.2,1263.5 417.4,1260.6 417.6,1260.3 417.8,1257.6 418,1258.2 418.2,1260.8 418.4,1256.9 418.6,1259.4 418.8,1264.1 419,1256.1 419.2,1261.8 419.4,1258.1 419.6,1273 419.8,1256.6 420,1256.4 420.2,1258.9 420.4,1259 420.6,1264.8 420.8,1262 421,1260.9 421.2,1261.6 421.4,1259.6 421.6,1266 421.8,1255.9 422,1262.1 422.2,1266.3 422.4,1266 422.6,1266.9 422.8,1261.8 423,1258.9 423.2,1254.8 423.4,1262.1 423.6,1260.9 423.8,1251.8 424,1259.2 424.2,1255.7 424.4,1255.1 424.6,1254.2 424.8,1261.4 425,1259.8 425.2,1258.6 425.4,1254.6 425.6,1267.1 425.8,1255.2 426,1264 426.2,1263.7 426.4,1260.6 426.6,1263.2 426.8,1266.6 427,1259.9 427.2,1262.2 427.4,1259.6 427.6,1260.8 427.8,1260.6 428,1263.6 428.2,1258.5 428.4,1266.5 428.6,1267.6 428.8,1247.9 429,1259.2 429.2,1256.8 429.4,1262.2 429.6,1266.1 429.8,1266.5 430,1263.2 430.2,1271.3 430.4,1256.8 430.6,1259.1 430.8,1259.6 431,1260.7 431.2,1254.3 431.4,1254.6 431.6,1262.5 431.8,1260.6 432,1265 432.2,1264.3 432.4,1262.5 432.6,1257.7 432.8,1262.5 433,1272.6 433.2,1257.5 433.4,1265.5 433.6,1263.6 433.8,1263.9 434,1268 434.2,1261.9 434.4,1266.9 434.6,1259.4 434.8,1264.6 435,1259.8 435.2,1266.5 435.4,1260.1 435.6,1266.2 435.8,1257 436,1257.6 436.2,1260.5 436.4,1251.4 436.6,1266.2 436.8,1266.5 437,1263.7 437.2,1265.1 437.4,1264 437.6,1261.8 437.8,1263 438,1255.7 438.2,1257.8 438.4,1258.2 438.6,1261.3 438.8,1259 439,1259.1 439.2,1261.6 439.4,1258.4 439.6,1259 439.8,1267.4 440,1256.6 440.2,1257.7 440.4,1257.5 440.6,1265.3 440.8,1256.2 441,1262.6 441.2,1255.5 441.4,1253.9 441.6,1249.3 441.8,1246.4 442,1243.9 442.2,1251.9 442.4,1250.9 442.6,1243.2 442.8,1239.9 443,1239.1 443.2,1233.3 443.4,1231.2 443.6,1224.1 443.8,1223.4 444,1219.7 444.2,1217.1 444.4,1217.1 444.6,1216 444.8,1225.6 445,1219.7 445.2,1223.3 445.4,1221.3 445.6,1226 445.8,1226.6 446,1229 446.2,1235.9 446.4,1235.1 446.6,1238 446.8,1244.8 447,1246.3 447.2,1242 447.4,1247.9 447.6,1247.3 447.8,1252.7 448,1248.9 448.2,1254.1 448.4,1258.3 448.6,1262.3 448.8,1255.8 449,1253.2 449.2,1261.1 449.4,1263.5 449.6,1267.4 449.8,1262.3 450,1267.6 450.2,1265.1 450.4,1265 450.6,1265.6 450.8,1257.5 451,1257.1 451.2,1254.9 451.4,1268.5 451.6,1249.3 451.8,1266.5 452,1258.8 452.2,1265 452.4,1258.1 452.6,1258.9 452.8,1265.9 453,1263.3 453.2,1263.4 453.4,1256.5 453.6,1258 453.8,1264.7 454,1263 454.2,1265.5 454.4,1258 454.6,1255.5 454.8,1266.3 455,1263 455.2,1264.1 455.4,1263.1 455.6,1265.2 455.8,1267.3 456,1264.3 456.2,1266.4 456.4,1268.7 456.6,1262 456.8,1268.6 457,1252.1 457.2,1268.7 457.4,1257.2 457.6,1258.4 457.8,1263.1 458,1253.8 458.2,1262.9 458.4,1265.1 458.6,1267.8 458.8,1262.8 459,1263.2 459.2,1261.5 459.4,1268.6 459.6,1267.4 459.8,1267.9 460,1252.9 460.2,1263.7 460.4,1248.9 460.6,1269.3 460.8,1264.8 461,1261.1 461.2,1262.1 461.4,1258.8 461.6,1261.4 461.8,1257.2 462,1267 462.2,1254.8 462.4,1259 462.6,1265.9 462.8,1262.7 463,1258.9 463.2,1267.5 463.4,1262.3 463.6,1272.3 463.8,1260.4 464,1260.6 464.2,1257.8 464.4,1267.6 464.6,1256.3 464.8,1260.2 465,1256.7 465.2,1256.7 465.4,1260.6 465.6,1271.6 465.8,1259.3 466,1255.7 466.2,1262.3 466.4,1261.6 466.6,1259.2 466.8,1265.5 467,1264.5 467.2,1256.5 467.4,1263.7 467.6,1261.7 467.8,1264.7 468,1262.1 468.2,1254.8 468.4,1262.5 468.6,1258.2 468.8,1259.9 469,1258.9 469.2,1253.3 469.4,1255.6 469.6,1262.9 469.8,1261.8 470,1261.9 470.2,1258 470.4,1260.3 470.6,1254.3 470.8,1266.1 471,1258.6 471.2,1264 471.4,1254.4 471.6,1266.7 471.8,1262.4 472,1262 472.2,1262 472.4,1259.6 472.6,1258.1 472.8,1256.7 473,1252.4 473.2,1263 473.4,1264.2 473.6,1263 473.8,1263.1 474,1261.6 474.2,1260.2 474.4,1264.3 474.6,1251.8 474.8,1255.4 475,1249 475.2,1255 475.4,1254.7 475.6,1246.7 475.8,1248.9 476,1250.5 476.2,1243.5 476.4,1248.6 476.6,1244.9 476.8,1249 477,1241.4 477.2,1251.5 477.4,1244.1 477.6,1246.6 477.8,1253.9 478,1252.3 478.2,1251.9 478.4,1250.7 478.6,1253.7 478.8,1267.1 479,1256.3 479.2,1258.4 479.4,1256.6 479.6,1258.6 479.8,1256.8 480,1257.3 480.2,1260 480.4,1255.2 480.6,1259.8 480.8,1258.9 481,1264.8 481.2,1265.3 481.4,1258.9 481.6,1254.3 481.8,1267.4 482,1258.5 482.2,1259.2 482.4,1258.7 482.6,1247.6 482.8,1258.2 483,1255.1 483.2,1257.8 483.4,1263.2 483.6,1254.1 483.8,1235 484,1256.4 484.2,1252.5 484.4,1257.9 484.6,1260.6 484.8,1253.5 485,1250.9 485.2,1256.6 485.4,1255.7 485.6,1248.4 485.8,1246.3 486,1236.8 486.2,1240.8 486.4,1229.9 486.6,1226.7 486.8,1224 487,1218.5 487.2,1211.8 487.4,1204.2 487.6,1196.6 487.8,1184.7 488,1178.6 488.2,1166.2 488.4,1162.3 488.6,1156.1 488.8,1148.8 489,1145.8 489.2,1143.9 489.4,1146.1 489.6,1144.1 489.8,1143 490,1148.3 490.2,1156.3 490.4,1154 490.6,1159.9 490.8,1169.8 491,1179.7 491.2,1190.2 491.4,1193.6 491.6,1202.3 491.8,1208.6 492,1209.9 492.2,1217.2 492.4,1220.8 492.6,1226.9 492.8,1232.7 493,1236.1 493.2,1233.1 493.4,1238.7 493.6,1256.5 493.8,1234.4 494,1246 494.2,1253 494.4,1251.5 494.6,1246.8 494.8,1254.8 495,1255.9 495.2,1246.4 495.4,1259.4 495.6,1257.9 495.8,1254 496,1255.9 496.2,1261.2 496.4,1258.3 496.6,1258.2 496.8,1258.9 497,1255.4 497.2,1246.3 497.4,1251.5 497.6,1263.8 497.8,1250.9 498,1252.2 498.2,1259.4 498.4,1258.7 498.6,1262.3 498.8,1255.8 499,1254.8 499.2,1253.1 499.4,1260.2 499.6,1259 499.8,1254.6 500,1258.6 500.2,1251.9 500.4,1251.2 500.6,1259.6 500.8,1247.7 501,1268.6 501.2,1256 501.4,1251.5 501.6,1245.3 501.8,1270.2 502,1250.4 502.2,1258 502.4,1260.2 502.6,1261.7 502.8,1260.7 503,1262.1 503.2,1259.3 503.4,1259.5 503.6,1254.2 503.8,1259.6 504,1257.5 504.2,1255.7 504.4,1260.2 504.6,1252 504.8,1251 505,1254.9 505.2,1257.8 505.4,1254.1 505.6,1258.1 505.8,1249.7 506,1260.2 506.2,1251.7 506.4,1259.1 506.6,1247.3 506.8,1243.7 507,1241.8 507.2,1237.8 507.4,1236.4 507.6,1235.7 507.8,1222.2 508,1211 508.2,1207 508.4,1191.5 508.6,1175 508.8,1155.4 509,1135.3 509.2,1109.9 509.4,1086.8 509.6,1055.7 509.8,1020.9 510,999.9 510.2,968.5 510.4,947 510.6,927.6 510.8,916.7 511,911 511.2,916 511.4,912.7 511.6,925.5 511.8,932.3 512,948.4 512.2,958.5 512.4,975.6 512.6,988.5 512.8,1006.4 513,1022 513.2,1040.4 513.4,1055 513.6,1074.7 513.8,1090.6 514,1102.1 514.2,1117 514.4,1131.6 514.6,1147.9 514.8,1158.7 515,1170.7 515.2,1177.3 515.4,1190.5 515.6,1194.4 515.8,1205.3 516,1214.1 516.2,1214.8 516.4,1221.7 516.6,1229.6 516.8,1228.6 517,1232.6 517.2,1240.7 517.4,1239.3 517.6,1243.5 517.8,1244.6 518,1250.6 518.2,1249.9 518.4,1251.1 518.6,1252.3 518.8,1250.7 519,1247.7 519.2,1250.6 519.4,1244.8 519.6,1250.8 519.8,1253.3 520,1255.4 520.2,1250.5 520.4,1256.8 520.6,1257.6 520.8,1271.4 521,1263.1 521.2,1258.5 521.4,1250.5 521.6,1253.5 521.8,1261.4 522,1257.9 522.2,1261.1 522.4,1257.4 522.6,1257.8 522.8,1258 523,1254 523.2,1250.7 523.4,1255.4 523.6,1261.5 523.8,1264.2 524,1259.2 524.2,1262.9 524.4,1258.2 524.6,1257.6 524.8,1262.9 525,1256.2 525.2,1255.1 525.4,1252.5 525.6,1259.8 525.8,1260.2 526,1267.2 526.2,1258.6 526.4,1261.1 526.6,1261.8 526.8,1246 527,1249.8 527.2,1258.8 527.4,1263 527.6,1257.8 527.8,1261 528,1260.9 528.2,1252.5 528.4,1257.9 528.6,1249.5 528.8,1261.4 529,1256.9 529.2,1262.8 529.4,1262.3 529.6,1254.8 529.8,1257.5 530,1258.6 530.2,1262.4 530.4,1260.6 530.6,1259.3 530.8,1254.7 531,1262.8 531.2,1263.2 531.4,1258.6 531.6,1265.5 531.8,1266.1 532,1254.4 532.2,1263.8 532.4,1260.7 532.6,1260.4 532.8,1250.2 533,1259.7 533.2,1258.5 533.4,1251.5 533.6,1256.3 533.8,1255 534,1254.7 534.2,1251.7 534.4,1258.2 534.6,1262.7 534.8,1259.1 535,1269.7 535.2,1260.2 535.4,1251.6 535.6,1256.5 535.8,1242.5 536,1240.7 536.2,1237.7 536.4,1229.9 536.6,1219.9 536.8,1211.4 537,1197.9 537.2,1188.6 537.4,1174.5 537.6,1158.5 537.8,1145.8 538,1122.2 538.2,1113.6 538.4,1102.3 538.6,1095.1 538.8,1085.9 539,1092.8 539.2,1095 539.4,1097 539.6,1099.3 539.8,1109.3 540,1116.8 540.2,1120.8 540.4,1130.9 540.6,1138.8 540.8,1157.5 541,1157.2 541.2,1174.4 541.4,1180.4 541.6,1186.3 541.8,1201.8 542,1204.7 542.2,1218.9 542.4,1217.7 542.6,1228.8 542.8,1229.5 543,1232.4 543.2,1234.8 543.4,1244.1 543.6,1243.8 543.8,1253.2 544,1249.3 544.2,1249.2 544.4,1253.2 544.6,1250 544.8,1257.2 545,1245.3 545.2,1257.4 545.4,1264.4 545.6,1254.6 545.8,1254.4 546,1262.3 546.2,1249.7 546.4,1258.9 546.6,1260.9 546.8,1258.8 547,1261.3 547.2,1258.7 547.4,1263.2 547.6,1258.9 547.8,1265.5 548,1257.7 548.2,1264.4 548.4,1262.4 548.6,1261.4 548.8,1262.9 549,1261.5 549.2,1271.9 549.4,1258.8 549.6,1270.9 549.8,1260.5 550,1256.5 550.2,1264.7 550.4,1256.5 550.6,1268.3 550.8,1266.9 551,1263.7 551.2,1261.7 551.4,1261.5 551.6,1261.5 551.8,1266 552,1252.3 552.2,1258.5 552.4,1267.6 552.6,1260.6 552.8,1266.4 553,1260.6 553.2,1260.2 553.4,1263.3 553.6,1265.4 553.8,1261.7 554,1260.7 554.2,1257.8 554.4,1269.4 554.6,1262.7 554.8,1255.1 555,1263 555.2,1263 555.4,1265 555.6,1263.7 555.8,1268.4 556,1267.8 556.2,1256.3 556.4,1270.8 556.6,1264.8 556.8,1264.5 557,1259.9 557.2,1259.9 557.4,1268.7 557.6,1265.3 557.8,1263.7 558,1262.8 558.2,1273.6 558.4,1267.3 558.6,1267.2 558.8,1259.1 559,1267.7 559.2,1267 559.4,1265.1 559.6,1265.8 559.8,1268.1 560,1265 560.2,1265.1 560.4,1267.7 560.6,1266.2 560.8,1265.5 561,1263.6 561.2,1265.4 561.4,1265.7 561.6,1260.4 561.8,1263.1 562,1267.2 562.2,1270.8 562.4,1265.7 562.6,1265.6 562.8,1270.4 563,1264 563.2,1267 563.4,1259.6 563.6,1279.7 563.8,1268.7 564,1275.1 564.2,1263.3 564.4,1260.2 564.6,1256.9 564.8,1267.3 565,1263.1 565.2,1268.2 565.4,1263.4 565.6,1263.8 565.8,1267.2 566,1268 566.2,1265.5 566.4,1262.1 566.6,1261.4 566.8,1259.9 567,1258 567.2,1270 567.4,1258.5 567.6,1269.2 567.8,1266.2 568,1261.5 568.2,1266.1 568.4,1267.7 568.6,1265.9 568.8,1261.4 569,1258.9 569.2,1263.1 569.4,1262.7 569.6,1264.5 569.8,1261.4 570,1258.8 570.2,1260.1 570.4,1264.3 570.6,1257.2 570.8,1252.2 571,1266.5 571.2,1262.1 571.4,1265.1 571.6,1261.8 571.8,1264.8 572,1260.5 572.2,1259 572.4,1272.3 572.6,1267.9 572.8,1266.3 573,1259.9 573.2,1251.4 573.4,1258 573.6,1258.5 573.8,1260.7 574,1260.7 574.2,1265.9 574.4,1261.3 574.6,1255.1 574.8,1268.6 575,1271.2 575.2,1257.6 575.4,1259.3 575.6,1256.6 575.8,1253.5 576,1262.6 576.2,1266.5 576.4,1260.8 576.6,1260.7 576.8,1262.3 577,1261.8 577.2,1259.6 577.4,1258.6 577.6,1256.2 577.8,1261.8 578,1254 578.2,1256.2 578.4,1257.9 578.6,1257 578.8,1264.9 579,1256.9 579.2,1253.4 579.4,1264.3 579.6,1248.2 579.8,1253.9 580,1251.7 580.2,1247.8 580.4,1248.6 580.6,1250.5 580.8,1247.8 581,1246.9 581.2,1239.8 581.4,1238.2 581.6,1234.4 581.8,1220.6 582,1230.2 582.2,1231.5 582.4,1228.3 582.6,1222.9 582.8,1227.9 583,1234.8 583.2,1224.3 583.4,1229.6 583.6,1221.2 583.8,1222.1 584,1229.2 584.2,1229 584.4,1231.6 584.6,1226.4 584.8,1227.2 585,1234.2 585.2,1230.5 585.4,1246.9 585.6,1243 585.8,1237.1 586,1242.7 586.2,1246.3 586.4,1247.8 586.6,1242.8 586.8,1239.3 587,1243.8 587.2,1243.2 587.4,1254.6 587.6,1250.5 587.8,1244.1 588,1252.2 588.2,1249.9 588.4,1249.2 588.6,1259.2 588.8,1250.5 589,1252 589.2,1251.8 589.4,1265.2 589.6,1255.7 589.8,1258.1 590,1255.1 590.2,1256.5 590.4,1266.1 590.6,1258 590.8,1259.2 591,1249.7 591.2,1262.9 591.4,1259.6 591.6,1252.7 591.8,1246.7 592,1253.7 592.2,1257.7 592.4,1259.3 592.6,1257.2 592.8,1260.9 593,1254.9 593.2,1262.6 593.4,1252.9 593.6,1262.3 593.8,1256.8 594,1256.3 594.2,1256.6 594.4,1267.2 594.6,1264.5 594.8,1255.9 595,1252.8 595.2,1254.2 595.4,1259.8 595.6,1260 595.8,1258.5 596,1247.6 596.2,1254.2 596.4,1254.4 596.6,1253.5 596.8,1257 597,1250.8 597.2,1259.5 597.4,1256.3 597.6,1258.7 597.8,1254.5 598,1261.9 598.2,1256.3 598.4,1253.2 598.6,1257.1 598.8,1254.4 599,1256.8 599.2,1259 599.4,1259.1 599.6,1259.1 599.8,1256.7 600,1274.4 600.2,1259.5 600.4,1260.1 600.6,1262.2 600.8,1262.2 601,1258.2 601.2,1252.9 601.4,1247.3 601.6,1255.7 601.8,1260.1 602,1256 602.2,1255.8 602.4,1260.4 602.6,1253.6 602.8,1255.8 603,1257.3 603.2,1262.7 603.4,1256.9 603.6,1260.9 603.8,1265.9 604,1257.5 604.2,1253.5 604.4,1256.9 604.6,1253.3 604.8,1255.6 605,1252.4 605.2,1254.5 605.4,1253.3 605.6,1259 605.8,1259.7 606,1260.7 606.2,1259 606.4,1255.2 606.6,1255.6 606.8,1257 607,1260.3 607.2,1261.2 607.4,1262 607.6,1258.5 607.8,1258.5 608,1256 608.2,1258.9 608.4,1250 608.6,1249.1 608.8,1247.5 609,1239 609.2,1250.3 609.4,1241.3 609.6,1238.5 609.8,1238.5 610,1228.4 610.2,1227.5 610.4,1220.9 610.6,1214.2 610.8,1211.3 611,1207.5 611.2,1197.9 611.4,1191.4 611.6,1187 611.8,1185.4 612,1182.2 612.2,1183.9 612.4,1179.3 612.6,1181.7 612.8,1185.8 613,1187.7 613.2,1193.4 613.4,1192.7 613.6,1200.6 613.8,1198.8 614,1213 614.2,1214 614.4,1218.7 614.6,1222 614.8,1222.3 615,1227.3 615.2,1243.4 615.4,1235.7 615.6,1241 615.8,1240 616,1244.1 616.2,1248.1 616.4,1249.5 616.6,1251.9 616.8,1251 617,1253.4 617.2,1251.7 617.4,1254.7 617.6,1259.9 617.8,1264.8 618,1257.7 618.2,1254.4 618.4,1267.9 618.6,1258.6 618.8,1262.2 619,1261.3 619.2,1263.8 619.4,1258.2 619.6,1261.1 619.8,1270.6 620,1253.4 620.2,1260 620.4,1265 620.6,1258.9 620.8,1267.2 621,1272.3 621.2,1264.5 621.4,1257 621.6,1261.9 621.8,1266 622,1259.8 622.2,1261.9 622.4,1265 622.6,1265.6 622.8,1269 623,1265.8 623.2,1268.2 623.4,1260.8 623.6,1259.9 623.8,1261.7 624,1261.9 624.2,1260.8 624.4,1262.5 624.6,1260 624.8,1258.1 625,1254.4 625.2,1254.2 625.4,1256.8 625.6,1252.5 625.8,1253.2 626,1249.9 626.2,1247.6 626.4,1241.5 626.6,1245.1 626.8,1241 627,1228.4 627.2,1222.2 627.4,1223.2 627.6,1220.2 627.8,1216.9 628,1212.7 628.2,1207.2 628.4,1208.7 628.6,1206.5 628.8,1204.1 629,1201.6 629.2,1208.8 629.4,1209.4 629.6,1207.2 629.8,1210 630,1210.7 630.2,1217.4 630.4,1217.6 630.6,1222.7 630.8,1222.7 631,1227.8 631.2,1231.6 631.4,1235.1 631.6,1234.6 631.8,1244.5 632,1239.1 632.2,1239.1 632.4,1245.2 632.6,1251.5 632.8,1250.2 633,1245.4 633.2,1249.4 633.4,1252.8 633.6,1249.2 633.8,1254.1 634,1256 634.2,1253.9 634.4,1250.3 634.6,1253.8 634.8,1257.4 635,1257.2 635.2,1262 635.4,1258.6 635.6,1257.6 635.8,1256.3 636,1246.7 636.2,1267 636.4,1262.8 636.6,1260.2 636.8,1268.1 637,1262.6 637.2,1258.9 637.4,1259.5 637.6,1261.7 637.8,1268.1 638,1263.5 638.2,1241.2 638.4,1263.6 638.6,1260.2 638.8,1262.6 639,1259.4 639.2,1261 639.4,1270.2 639.6,1261.7 639.8,1265 640,1266.1 640.2,1262.3 640.4,1270.5 640.6,1269.4 640.8,1257.5 641,1267.1 641.2,1257 641.4,1261 641.6,1264.9 641.8,1259.7 642,1261 642.2,1263.4 642.4,1265.9 642.6,1261.9 642.8,1261.9 643,1264.1 643.2,1262.2 643.4,1266.4 643.6,1259.8 643.8,1261.6 644,1265 644.2,1258 644.4,1266 644.6,1272.1 644.8,1264.9 645,1262.9 645.2,1264.9 645.4,1258.6 645.6,1263.3 645.8,1268 646,1261.8 646.2,1260.1 646.4,1268.9 646.6,1263.1 646.8,1265.1 647,1266.7 647.2,1265.1 647.4,1267.4 647.6,1268.6 647.8,1265.9 648,1260.8 648.2,1266.9 648.4,1266.9 648.6,1264.6 648.8,1270.2 649,1263.8 649.2,1266.4 649.4,1261.4 649.6,1264.1 649.8,1264.9 650,1262.9 650.2,1258.8 650.4,1263.2 650.6,1265.8 650.8,1266.4 651,1264.5 651.2,1261.6 651.4,1263.6 651.6,1266.5 651.8,1258.8 652,1258.1 652.2,1262 652.4,1264.4 652.6,1265.8 652.8,1267.4 653,1260.9 653.2,1267.4 653.4,1266.9 653.6,1249.6 653.8,1260.1 654,1264.6 654.2,1261.8 654.4,1270.1 654.6,1251.5 654.8,1262.2 655,1267.8 655.2,1264.8 655.4,1260 655.6,1268 655.8,1261.3 656,1262.2 656.2,1264.7 656.4,1263.9 656.6,1259.8 656.8,1265.5 657,1258.1 657.2,1263.3 657.4,1262.6 657.6,1271.7 657.8,1262.9 658,1259.4 658.2,1260.5 658.4,1267.9 658.6,1259.4 658.8,1257.1 659,1263.8 659.2,1261.8 659.4,1263.2 659.6,1265.6 659.8,1265.4 660,1260 660.2,1267.3 660.4,1271.4 660.6,1256.1 660.8,1255.7 661,1264 661.2,1262.8 661.4,1260.6 661.6,1260.6 661.8,1259.3 662,1263.8 662.2,1260.9 662.4,1264 662.6,1261.8 662.8,1266.7 663,1265.2 663.2,1265.8 663.4,1259 663.6,1258.4 663.8,1254.3 664,1267.5 664.2,1265.8 664.4,1269.3 664.6,1268.1 664.8,1261.8 665,1262.3 665.2,1264.7 665.4,1260.2 665.6,1264.7 665.8,1258.5 666,1258.7 666.2,1267.8 666.4,1267.4 666.6,1257.6 666.8,1263.6 667,1260.6 667.2,1257.7 667.4,1264.9 667.6,1267.1 667.8,1257.8 668,1259.8 668.2,1264.9 668.4,1263.4 668.6,1264 668.8,1262.5 669,1270.6 669.2,1265.7 669.4,1264.8 669.6,1265.3 669.8,1262.7 670,1263.5 670.2,1258.2 670.4,1264.7 670.6,1255.5 670.8,1266.8 671,1262.5 671.2,1256.8 671.4,1260.1 671.6,1265.7 671.8,1256.4 672,1264.6 672.2,1266.7 672.4,1264.5 672.6,1267.4 672.8,1258 673,1259.4 673.2,1264.4 673.4,1268.2 673.6,1266.1 673.8,1265.6 674,1262.8 674.2,1260.9 674.4,1261.6 674.6,1265.1 674.8,1264.8 675,1257.2 675.2,1264.4 675.4,1255.5 675.6,1260 675.8,1267.9 676,1266.5 676.2,1261.4 676.4,1264.2 676.6,1263.2 676.8,1264.2 677,1259.3 677.2,1266.1 677.4,1260.8 677.6,1261.5 677.8,1255.7 678,1260.6 678.2,1259.4 678.4,1261.4 678.6,1267.5 678.8,1272.9 679,1260.2 679.2,1257.7 679.4,1257 679.6,1264.9 679.8,1265.9 680,1261.7 680.2,1260.9 680.4,1260.1 680.6,1265.5 680.8,1257.5 681,1262.5 681.2,1267.9 681.4,1261.6 681.6,1257.3 681.8,1264.1 682,1261.7 682.2,1256.5 682.4,1256.6 682.6,1258.8 682.8,1254.2 683,1253.4 683.2,1257.2 683.4,1254.3 683.6,1251.2 683.8,1245.9 684,1251.2 684.2,1247.5 684.4,1241.8 684.6,1239.4 684.8,1235.5 685,1237.4 685.2,1236.1 685.4,1232.1 685.6,1224.6 685.8,1220.5 686,1214 686.2,1206.4 686.4,1205.7 686.6,1193.9 686.8,1197.9 687,1184.7 687.2,1183.8 687.4,1177.4 687.6,1174.6 687.8,1172.3 688,1168.2 688.2,1169.8 688.4,1164.4 688.6,1171.8 688.8,1171.1 689,1170 689.2,1174.6 689.4,1175.7 689.6,1182.7 689.8,1184.4 690,1190.9 690.2,1197.4 690.4,1197.1 690.6,1205 690.8,1199.9 691,1213.6 691.2,1216.3 691.4,1222.2 691.6,1225.4 691.8,1231.8 692,1231.9 692.2,1231.7 692.4,1239.4 692.6,1238.4 692.8,1237.5 693,1248.7 693.2,1225.7 693.4,1231.2 693.6,1229.7 693.8,1223.5 694,1222.7 694.2,1210 694.4,1204.7 694.6,1197.7 694.8,1189.5 695,1181.9 695.2,1178.4 695.4,1162.6 695.6,1154.4 695.8,1142.8 696,1129.8 696.2,1118.9 696.4,1113.4 696.6,1103.7 696.8,1106 697,1095.2 697.2,1089.3 697.4,1089.8 697.6,1092.5 697.8,1094.4 698,1092.4 698.2,1098.8 698.4,1105.1 698.6,1107.2 698.8,1112 699,1116.1 699.2,1123.3 699.4,1123.4 699.6,1130.7 699.8,1133.4 700,1133.9 700.2,1136.3 700.4,1135 700.6,1144.4 700.8,1142.7 701,1147.1 701.2,1144.3 701.4,1147.5 701.6,1143.9 701.8,1147.2 702,1145.3 702.2,1146.3 702.4,1147.3 702.6,1147 702.8,1151.6 703,1158.3 703.2,1159.7 703.4,1160.8 703.6,1163 703.8,1168.8 704,1181.3 704.2,1170.7 704.4,1179.5 704.6,1184.3 704.8,1189.9 705,1191.8 705.2,1197.9 705.4,1202.6 705.6,1206.7 705.8,1210.4 706,1213 706.2,1214.3 706.4,1223.4 706.6,1227.3 706.8,1226.6 707,1229 707.2,1234.5 707.4,1237.5 707.6,1236.5 707.8,1244.3 708,1243.9 708.2,1246.9 708.4,1245.4 708.6,1246.3 708.8,1252.6 709,1244.8 709.2,1258.3 709.4,1252.8 709.6,1253.3 709.8,1257.9 710,1248.3 710.2,1252.9 710.4,1259.5 710.6,1241.8 710.8,1251 711,1258.4 711.2,1248.4 711.4,1256.1 711.6,1259.8 711.8,1262.1 712,1259.6 712.2,1258.5 712.4,1269.1 712.6,1257.8 712.8,1261.2 713,1260.4 713.2,1260.7 713.4,1257.3 713.6,1253.4 713.8,1264.1 714,1261 714.2,1260.3 714.4,1262.8 714.6,1256.4 714.8,1261.4 715,1261.3 715.2,1256.8 715.4,1265.6 715.6,1262.8 715.8,1267.1 716,1262.9 716.2,1260.1 716.4,1264.5 716.6,1261.6 716.8,1259.1 717,1259 717.2,1260.5 717.4,1270.7 717.6,1260.4 717.8,1258.5 718,1264.3 718.2,1265.2 718.4,1263 718.6,1263.1 718.8,1255 719,1259.5 719.2,1262.8 719.4,1262.3 719.6,1259.1 719.8,1261.3 720,1263.1 720.2,1261.8 720.4,1270.1 720.6,1266.1 720.8,1259.1 721,1260.8 721.2,1261 721.4,1259.3 721.6,1260 721.8,1265.7 722,1263.7 722.2,1267.6 722.4,1260.1 722.6,1260.3 722.8,1258.2 723,1261.2 723.2,1264.2 723.4,1258 723.6,1267.7 723.8,1259.9 724,1264 724.2,1265.2 724.4,1257.8 724.6,1261.5 724.8,1264.5 725,1267 725.2,1268.2 725.4,1262.4 725.6,1272 725.8,1266.4 726,1259.3 726.2,1261.7 726.4,1268.3 726.6,1265.6 726.8,1268.3 727,1256.7 727.2,1266.9 727.4,1262 727.6,1262.7 727.8,1262.8 728,1258.8 728.2,1259.2 728.4,1280.7 728.6,1255.7 728.8,1264.3 729,1260.1 729.2,1261.7 729.4,1259.8 729.6,1261.3 729.8,1266.2 730,1265 730.2,1263.8 730.4,1258 730.6,1261.8 730.8,1259.5 731,1261.4 731.2,1264.3 731.4,1256.2 731.6,1261.5 731.8,1263 732,1269.1 732.2,1256.5 732.4,1261.1 732.6,1251.2 732.8,1259.8 733,1254.5 733.2,1273.4 733.4,1263.2 733.6,1256.7 733.8,1259.9 734,1263.8 734.2,1259.7 734.4,1263 734.6,1259.2 734.8,1261.6 735,1265.3 735.2,1268.1 735.4,1261.3 735.6,1249.7 735.8,1264.7 736,1259.7 736.2,1263.2 736.4,1261.2 736.6,1266.8 736.8,1256.9 737,1260.2 737.2,1253.2 737.4,1259.2 737.6,1256.4 737.8,1261 738,1256.9 738.2,1260.4 738.4,1261.5 738.6,1260.6 738.8,1252.5 739,1260.3 739.2,1266.4 739.4,1251 739.6,1272.2 739.8,1263.3 740,1266.7 740.2,1252.5 740.4,1258.6 740.6,1263.9 740.8,1273.1 741,1266.5 741.2,1260.5 741.4,1263 741.6,1258.5 741.8,1262.2 742,1256.4 742.2,1259.6 742.4,1260 742.6,1262.8 742.8,1260.1 743,1260.2 743.2,1260.8 743.4,1262.1 743.6,1263.8 743.8,1258.5 744,1259.4 744.2,1262.2 744.4,1259.8 744.6,1259.8 744.8,1259.7 745,1264.4 745.2,1264.3 745.4,1264.3 745.6,1263.2 745.8,1255.4 746,1265.4 746.2,1261.6 746.4,1258.6 746.6,1253.8 746.8,1261.2 747,1260.6 747.2,1262 747.4,1263 747.6,1258.2 747.8,1261.1 748,1254.2 748.2,1249 748.4,1253.3 748.6,1258.1 748.8,1262.9 749,1260.8 749.2,1264.7 749.4,1259.8 749.6,1254.8 749.8,1264.1 750,1259.5 750.2,1261.4 750.4,1253.5 750.6,1257 750.8,1255.3 751,1255.9 751.2,1255.4 751.4,1250.6 751.6,1251.2 751.8,1249.1 752,1256.7 752.2,1257.4 752.4,1260.4 752.6,1256.8 752.8,1257.9 753,1255.1 753.2,1251.8 753.4,1256 753.6,1256.6 753.8,1251.6 754,1256.4 754.2,1251.7 754.4,1252.9 754.6,1255.5 754.8,1252.7 755,1255.7 755.2,1259.7 755.4,1251 755.6,1257.1 755.8,1253 756,1244.9 756.2,1251.7 756.4,1250.7 756.6,1257.4 756.8,1257.5 757,1252.4 757.2,1255.9 757.4,1248.6 757.6,1252.3 757.8,1246.5 758,1249.2 758.2,1251.8 758.4,1246.8 758.6,1249.5 758.8,1249.5 759,1253.4 759.2,1242.5 759.4,1243.9 759.6,1242.8 759.8,1248.8 760,1244.6 760.2,1250.4 760.4,1250.5 760.6,1244.4 760.8,1242.4 761,1242.2 761.2,1244.7 761.4,1241.7 761.6,1239.7 761.8,1240.3 762,1235.3 762.2,1244 762.4,1241.9 762.6,1237.2 762.8,1228.7 763,1237.2 763.2,1239.1 763.4,1242.8 763.6,1235.4 763.8,1239.6 764,1241.8 764.2,1235 764.4,1236.9 764.6,1235.7 764.8,1233.2 765,1233.7 765.2,1231.2 765.4,1235.6 765.6,1231.5 765.8,1227.4 766,1224.6 766.2,1230.3 766.4,1226.9 766.6,1221.5 766.8,1226.9 767,1221.4 767.2,1217.1 767.4,1222.3 767.6,1223.3 767.8,1220.6 768,1216.2 768.2,1208.4 768.4,1215 768.6,1214.1 768.8,1214.4 769,1208.6 769.2,1202.6 769.4,1202.9 769.6,1198.2 769.8,1186 770,1184.8 770.2,1179.8 770.4,1165.9 770.6,1156.6 770.8,1143.7 771,1127.3 771.2,1113 771.4,1090.1 771.6,1072.4 771.8,1059.9 772,1020.7 772.2,1001.5 772.4,966.2 772.6,949.1 772.8,925.9 773,910.3 773.2,897.4 773.4,889.8 773.6,883.4 773.8,883.7 774,886.6 774.2,898.9 774.4,909.8 774.6,924.2 774.8,933.4 775,955.3 775.2,972.7 775.4,986.6 775.6,1007.1 775.8,1022.7 776,1040.7 776.2,1059.3 776.4,1078.8 776.6,1091.6 776.8,1106.9 777,1120.4 777.2,1136.2 777.4,1147.9 777.6,1153.6 777.8,1167.5 778,1176.8 778.2,1183.4 778.4,1190.4 778.6,1196.1 778.8,1196.5 779,1208.5 779.2,1209.7 779.4,1215.4 779.6,1213.3 779.8,1219.8 780,1220.3 780.2,1226.5 780.4,1230.8 780.6,1232.1 780.8,1227.5 781,1231.1 781.2,1234.6 781.4,1238.4 781.6,1238.6 781.8,1234.3 782,1239.1 782.2,1242.2 782.4,1243.9 782.6,1241.8 782.8,1245.7 783,1247.8 783.2,1239.5 783.4,1237.8 783.6,1239.4 783.8,1242.8 784,1239.4 784.2,1240.6 784.4,1235 784.6,1234.9 784.8,1232.5 785,1232.7 785.2,1226.3 785.4,1219.5 785.6,1216.7 785.8,1214.1 786,1206.8 786.2,1203.4 786.4,1200 786.6,1188.9 786.8,1188.6 787,1189 787.2,1186.3 787.4,1179.7 787.6,1186.6 787.8,1185.2 788,1187.7 788.2,1191.9 788.4,1192.8 788.6,1201.3 788.8,1202.3 789,1205.2 789.2,1217.1 789.4,1214.6 789.6,1216.6 789.8,1219 790,1228.1 790.2,1230.7 790.4,1232.3 790.6,1237.8 790.8,1230.6 791,1241.4 791.2,1245.5 791.4,1246.9 791.6,1242 791.8,1249.9 792,1248.1 792.2,1252.5 792.4,1254.6 792.6,1245.4 792.8,1254.8 793,1254 793.2,1265.8 793.4,1251.7 793.6,1253.3 793.8,1253.9 794,1257.6 794.2,1257 794.4,1258.3 794.6,1264.4 794.8,1253.9 795,1255.1 795.2,1258.1 795.4,1260.9 795.6,1258.6 795.8,1260.2 796,1256.5 796.2,1249 796.4,1262.3 796.6,1255.6 796.8,1249.4 797,1261.7 797.2,1250.7 797.4,1258.2 797.6,1260.2 797.8,1263.3 798,1262.8 798.2,1259.4 798.4,1261.7 798.6,1262 798.8,1258.9 799,1255.3 799.2,1267.7 799.4,1253.4 799.6,1266.8 799.8,1267.2 800,1260.3 800.2,1265.6 800.4,1259.6 800.6,1263.6 800.8,1254.8 801,1263.7 801.2,1258.8 801.4,1261.9 801.6,1257.8 801.8,1260.1 802,1264.6 802.2,1264.3 802.4,1257.4 802.6,1267.2 802.8,1260.9 803,1260.1 803.2,1262.1 803.4,1257.9 803.6,1254.8 803.8,1259 804,1262.2 804.2,1263.5 804.4,1265 804.6,1258.8 804.8,1254.9 805,1256.2 805.2,1258.3 805.4,1264.4 805.6,1260.5 805.8,1276.7 806,1266.9 806.2,1265 806.4,1266.5 806.6,1263.8 806.8,1253 807,1255.3 807.2,1266.5 807.4,1272.7 807.6,1261.6 807.8,1257 808,1258.4 808.2,1262.9 808.4,1262 808.6,1255.6 808.8,1261.4 809,1254 809.2,1264.1 809.4,1267.9 809.6,1266.9 809.8,1265.9 810,1269.4 810.2,1265.2 810.4,1260.5 810.6,1259.4 810.8,1262.9 811,1266 811.2,1267.4 811.4,1269.3 811.6,1263.7 811.8,1270.4 812,1264.3 812.2,1272.2 812.4,1257.1 812.6,1250.9 812.8,1270.2 813,1256.6 813.2,1259.8 813.4,1261.3 813.6,1268.9 813.8,1258.8 814,1261.2 814.2,1262.7 814.4,1273 814.6,1259.7 814.8,1261.1 815,1262.9 815.2,1256.3 815.4,1262 815.6,1270.7 815.8,1256.6 816,1275.5 816.2,1257.8 816.4,1268.5 816.6,1264.5 816.8,1258.5 817,1264.9 817.2,1267.9 817.4,1262.3 817.6,1263.7 817.8,1262.5 818,1262.8 818.2,1258.2 818.4,1243.7 818.6,1255.8 818.8,1264.7 819,1257 819.2,1261.7 819.4,1264.6 819.6,1259.3 819.8,1254.9 820,1251.4 820.2,1260.3 820.4,1256.8 820.6,1253.4 820.8,1251.7 821,1248 821.2,1251.2 821.4,1253.6 821.6,1246.1 821.8,1246.8 822,1240.8 822.2,1237.9 822.4,1232.8 822.6,1222.5 822.8,1220.6 823,1211.9 823.2,1207.9 823.4,1198.9 823.6,1196.2 823.8,1193.7 824,1185.6 824.2,1194 824.4,1192.8 824.6,1193.1 824.8,1191.9 825,1202.4 825.2,1203.8 825.4,1205.8 825.6,1209.1 825.8,1210.6 826,1218.6 826.2,1212.7 826.4,1221.8 826.6,1222.6 826.8,1225.9 827,1228.8 827.2,1230.9 827.4,1224.7 827.6,1231.3 827.8,1230.7 828,1227.6 828.2,1232.1 828.4,1233 828.6,1230 828.8,1227.9 829,1227.3 829.2,1227.6 829.4,1227.4 829.6,1221.8 829.8,1223.5 830,1218.9 830.2,1225.2 830.4,1224.4 830.6,1225 830.8,1224.9 831,1227.3 831.2,1229.4 831.4,1230.2 831.6,1226.9 831.8,1224.6 832,1229 832.2,1231.3 832.4,1220.1 832.6,1231.8 832.8,1240.6 833,1231.9 833.2,1234.4 833.4,1238.4 833.6,1235.1 833.8,1238.4 834,1230 834.2,1236.5 834.4,1239.2 834.6,1244.3 834.8,1239.4 835,1240.2 835.2,1241.4 835.4,1246.3 835.6,1240.9 835.8,1247.3 836,1246.9 836.2,1242.3 836.4,1243.6 836.6,1242.8 836.8,1246.8 837,1256.5 837.2,1243.5 837.4,1256.8 837.6,1246.5 837.8,1252 838,1250 838.2,1246.9 838.4,1246.2 838.6,1248.2 838.8,1250.9 839,1254.1 839.2,1253.5 839.4,1252.8 839.6,1255.3 839.8,1256.4 840,1254.8 840.2,1247.2 840.4,1258.7 840.6,1262.6 840.8,1253.4 841,1257.1 841.2,1254.1 841.4,1257.3 841.6,1261.6 841.8,1246.7 842,1272.8 842.2,1249.6 842.4,1258.8 842.6,1259.5 842.8,1252.6 843,1265.5 843.2,1253.4 843.4,1258.4 843.6,1267.2 843.8,1254.7 844,1264.2 844.2,1256.2 844.4,1251.5 844.6,1257.8 844.8,1260.5 845,1255.1 845.2,1259.4 845.4,1257.7 845.6,1254.6 845.8,1257.8 846,1257.5 846.2,1254.4 846.4,1252.3 846.6,1253.4 846.8,1251.1 847,1249.4 847.2,1262 847.4,1251.3 847.6,1248.7 847.8,1246.5 848,1246.7 848.2,1254.3 848.4,1252.4 848.6,1258 848.8,1251.3 849,1246.1 849.2,1247.7 849.4,1249.1 849.6,1247.4 849.8,1255 850,1249.7 850.2,1243.7 850.4,1245.1 850.6,1253.6 850.8,1249.4 851,1249.1 851.2,1247.2 851.4,1245.7 851.6,1250.9 851.8,1247.1 852,1256.3 852.2,1258.6 852.4,1248.7 852.6,1249.4 852.8,1251.8 853,1255 853.2,1258.9 853.4,1253.8 853.6,1257.4 853.8,1254 854,1250.9 854.2,1265.5 854.4,1248.5 854.6,1255.1 854.8,1255 855,1261.1 855.2,1253.7 855.4,1251.7 855.6,1264.5 855.8,1260.9 856,1257.7 856.2,1259.2 856.4,1264.4 856.6,1252.6 856.8,1254.1 857,1255.4 857.2,1256.6 857.4,1259.8 857.6,1256.4 857.8,1257.5 858,1264.6 858.2,1263.1 858.4,1255.4 858.6,1259.8 858.8,1259.2 859,1258 859.2,1262.4 859.4,1261.3 859.6,1262.2 859.8,1271.4 860,1259.1 860.2,1270.5 860.4,1254.9 860.6,1242.8 860.8,1265 861,1264.7 861.2,1258.2 861.4,1260.2 861.6,1256.4 861.8,1259.9 862,1275.2 862.2,1261.2 862.4,1254.6 862.6,1265.8 862.8,1261.5 863,1251.9 863.2,1254.4 863.4,1258.3 863.6,1262.4 863.8,1263.2 864,1260 864.2,1255.9 864.4,1263.1 864.6,1257.3 864.8,1264.7 865,1266.4 865.2,1265 865.4,1262.5 865.6,1264.8 865.8,1256.4 866,1263.3 866.2,1260.9 866.4,1256.5 866.6,1264.8 866.8,1254.8 867,1259.5 867.2,1257.3 867.4,1261.9 867.6,1256.3 867.8,1264.3 868,1260.1 868.2,1255 868.4,1263.4 868.6,1261.7 868.8,1257.7 869,1255.9 869.2,1272.9 869.4,1254.1 869.6,1253.2 869.8,1246.9 870,1261.9 870.2,1249.2 870.4,1249.2 870.6,1248.7 870.8,1257.7 871,1246.7 871.2,1251.9 871.4,1250.4 871.6,1250.5 871.8,1250.5 872,1247.7 872.2,1252.2 872.4,1247.3 872.6,1243.6 872.8,1244.8 873,1249.4 873.2,1255.8 873.4,1258.8 873.6,1252.5 873.8,1244.7 874,1250.6 874.2,1257.5 874.4,1250.6 874.6,1256.1 874.8,1257.2 875,1255.9 875.2,1258.7 875.4,1260.1 875.6,1257.1 875.8,1253.9 876,1255.8 876.2,1262.7 876.4,1269 876.6,1267.8 876.8,1269.8 877,1263.1 877.2,1262 877.4,1263.8 877.6,1276.1 877.8,1264.3 878,1255.4 878.2,1268.3 878.4,1260.6 878.6,1274.7 878.8,1270.4 879,1258.8 879.2,1266.6 879.4,1264.1 879.6,1256 879.8,1274.3 880,1268.8 880.2,1268.8 880.4,1269.9 880.6,1263.5 880.8,1264.6 881,1264.8 881.2,1262.1 881.4,1268.5 881.6,1283.9 881.8,1264 882,1270.4 882.2,1266.5 882.4,1268.7 882.6,1260.2 882.8,1271.5 883,1264.6 883.2,1259.8 883.4,1267.8 883.6,1264.2 883.8,1274.9 884,1270.6 884.2,1270 884.4,1262.6 884.6,1264.5 884.8,1265.5 885,1265.8 885.2,1261.4 885.4,1257.4 885.6,1270.6 885.8,1265.8 886,1271.5 886.2,1275.4 886.4,1264.5 886.6,1267.5 886.8,1278.9 887,1267.8 887.2,1272.2 887.4,1267.2 887.6,1270.3 887.8,1270.4 888,1268.3 888.2,1262.7 888.4,1269.1 888.6,1272 888.8,1265.1 889,1258.8 889.2,1270.6 889.4,1270.5 889.6,1262.4 889.8,1268.7 890,1269.7 890.2,1261.4 890.4,1264.9 890.6,1261.9 890.8,1267.5 891,1263.4 891.2,1266.7 891.4,1263 891.6,1264.1 891.8,1265.1 892,1265.5 892.2,1266.9 892.4,1259.8 892.6,1267.1 892.8,1265.6 893,1268.8 893.2,1270.7 893.4,1261.8 893.6,1261.1 893.8,1265.9 894,1262.4 894.2,1261.1 894.4,1262.4 894.6,1260.3 894.8,1255.6 895,1267.1 895.2,1261.3 895.4,1260.1 895.6,1253 895.8,1260.9 896,1257.5 896.2,1256.7 896.4,1252.9 896.6,1254.2 896.8,1256.6 897,1257.3 897.2,1257.5 897.4,1261.6 897.6,1261.3 897.8,1261.5 898,1255.8 898.2,1268.7 898.4,1250.9 898.6,1255.2 898.8,1250.2 899,1255.4 899.2,1253.3 899.4,1249.9 899.6,1257.9 899.8,1251.1 900,1248.8 900.2,1251.9 900.4,1262.9 900.6,1258.9 900.8,1253.6 901,1257.3 901.2,1262.1 901.4,1260.6 901.6,1259.8 901.8,1253.9 902,1248.1 902.2,1260 902.4,1257.4 902.6,1255.5 902.8,1260.4 903,1254.7 903.2,1257.4 903.4,1261 903.6,1265.5 903.8,1262.6 904,1255 904.2,1256.6 904.4,1262.8 904.6,1263.3 904.8,1261.4 905,1261 905.2,1257.6 905.4,1262 905.6,1260.9 905.8,1264.9 906,1260.7 906.2,1262.7 906.4,1263.6 906.6,1258.9 906.8,1261.5 907,1257.3 907.2,1262.9 907.4,1257.6 907.6,1261.5 907.8,1264.4 908,1252.5 908.2,1263 908.4,1267.6 908.6,1260.1 908.8,1261.1 909,1263.7 909.2,1264.5 909.4,1266.6 909.6,1262.5 909.8,1267.5 910,1259.8 910.2,1261.2 910.4,1266.2 910.6,1263.6 910.8,1261.7 911,1269.1 911.2,1250 911.4,1261 911.6,1266.4 911.8,1261.6 912,1271.9 912.2,1258.2 912.4,1267.4 912.6,1273.9 912.8,1262.9 913,1263.6 913.2,1266.6 913.4,1267.8 913.6,1265.9 913.8,1261 914,1268.2 914.2,1264.7 914.4,1262.1 914.6,1271.2 914.8,1251.2 915,1277.6 915.2,1264.2 915.4,1263.3 915.6,1269.3 915.8,1268.9 916,1275.7 916.2,1266.9 916.4,1257.5 916.6,1264.8 916.8,1272.1 917,1268.3 917.2,1259.6 917.4,1264 917.6,1272.8 917.8,1268.1 918,1272.8 918.2,1272.9 918.4,1269.3 918.6,1263 918.8,1268.2 919,1264.5 919.2,1270.2 919.4,1267.8 919.6,1274.4 919.8,1267 920,1263.7 920.2,1267.7 920.4,1265.1 920.6,1270.5 920.8,1271.5 921,1275.5 921.2,1270.1 921.4,1264.5 921.6,1265.4 921.8,1270.9 922,1265.2 922.2,1270.2 922.4,1257.1 922.6,1256.6 922.8,1263.7 923,1267.6 923.2,1263.8 923.4,1266 923.6,1266 923.8,1262.4 924,1266.6 924.2,1271.6 924.4,1262.6 924.6,1270.1 924.8,1262.6 925,1255 925.2,1266.3 925.4,1265.4 925.6,1257.8 925.8,1267.9 926,1261.7 926.2,1272.3 926.4,1262.3 926.6,1269.4 926.8,1262.1 927,1263.8 927.2,1257.4 927.4,1262.2 927.6,1265.6 927.8,1256.1 928,1258.9 928.2,1263.7 928.4,1261.8 928.6,1260.9 928.8,1262.3 929,1262.4 929.2,1256.3 929.4,1263.5 929.6,1264.1 929.8,1259.5 930,1261.7 930.2,1257.5 930.4,1262.1 930.6,1260.6 930.8,1267.1 931,1262.9 931.2,1250.5 931.4,1254.2 931.6,1260 931.8,1253.6 932,1251.5 932.2,1254.1 932.4,1253.7 932.6,1245.6 932.8,1255.5 933,1249.8 933.2,1256.1 933.4,1257.5 933.6,1253.4 933.8,1254.7 934,1247.1 934.2,1246.4 934.4,1253.2 934.6,1251 934.8,1252.7 935,1252.3 935.2,1248.4 935.4,1241.4 935.6,1246.3 935.8,1244 936,1246.5 936.2,1247.7 936.4,1237.6 936.6,1240.8 936.8,1239.9 937,1230 937.2,1239 937.4,1237.1 937.6,1237.3 937.8,1237.8 938,1234.7 938.2,1227.8 938.4,1231.5 938.6,1239.5 938.8,1237.9 939,1231.1 939.2,1229 939.4,1235.8"/>
<rect x="95" y="727.3" width="844.5" height="563.3" fill="none" stroke="#000" stroke-width="3"/>
<path d="M95 1290.6v-11.4M155.3 1290.6v-6M215.6 1290.6v-11.4M276 1290.6v-6M336.3 1290.6v-11.4M396.6 1290.6v-6M456.9 1290.6v-11.4M517.2 1290.6v-6M577.6 1290.6v-11.4M637.9 1290.6v-6M698.2 1290.6v-11.4M758.5 1290.6v-6M818.9 1290.6v-11.4M879.2 1290.6v-6M939.5 1290.6v-11.4" stroke="#000" stroke-width="3.0" fill="none"/>
<g font-family='"Liberation Sans",Arial,sans-serif' font-size="24.0" text-anchor="middle" stroke="#000" stroke-width="0.3">
<text x="93.9" y="1320.8">20</text>
<text x="214.5" y="1320.8">30</text>
<text x="335.2" y="1320.8">40</text>
<text x="455.8" y="1320.8">50</text>
<text x="576.5" y="1320.8">60</text>
<text x="697.1" y="1320.8">70</text>
<text x="817.8" y="1320.8">80</text>
<text x="938.4" y="1320.8">90</text>
</g>
<text x="517.2" y="1362.2" font-family='"Liberation Serif","Times New Roman",serif' font-size="24.6" text-anchor="middle">2Theta (Degree)</text>
<text transform="translate(68 1026) rotate(-90)" font-family='"Liberation Serif","Times New Roman",serif' font-size="24.9" text-anchor="middle">Intensity (a.u)</text>
<text transform="translate(-1 787.2) scale(1.05 1)" font-family='"Liberation Serif","Times New Roman",serif' font-size="85" font-weight="bold">(c)</text>
<g font-family='"Liberation Serif","Times New Roman",serif' font-size="25.1" letter-spacing="0.8">
<text transform="translate(795.2 755.7) scale(0.93 1)" xml:space="preserve">A : NaCl</text>
<text transform="translate(795.2 794.3) scale(0.93 1)" xml:space="preserve">B : TiO<tspan dy="10" font-size="14">2</tspan></text>
<text transform="translate(795.2 832.9) scale(0.93 1)" xml:space="preserve">C : Na<tspan dy="10" font-size="14">4</tspan><tspan dy="-10">Ti</tspan><tspan dy="10" font-size="14">5</tspan><tspan dy="-10">O</tspan><tspan dy="10" font-size="14">12</tspan></text>
<text transform="translate(795.2 871.5) scale(0.93 1)" xml:space="preserve">D : Ti</text>
</g>
<g font-family='"Liberation Serif","Times New Roman",serif' font-size="25.1" text-anchor="middle"><text transform="translate(187 775.6) scale(0.93 1)">A</text><text transform="translate(186.5 814.8) scale(0.93 1)">B</text><text transform="translate(287.4 805.9) scale(0.93 1)">B</text><text transform="translate(512.3 908.3) scale(0.93 1)">B</text><text transform="translate(776.6 935.2) scale(0.93 1)">B</text><text transform="translate(112.7 1092.3) scale(0.93 1)">C</text><text transform="translate(261.3 1086.6) scale(0.93 1)">C</text><text transform="translate(237.7 1187) scale(0.93 1)">A</text><text transform="translate(268.2 1193.7) scale(0.93 1)">C</text><text transform="translate(328.4 1163) scale(0.93 1)">B</text><text transform="translate(353 1055.4) scale(0.93 1)">B</text><text transform="translate(388.8 1155.8) scale(0.93 1)">B</text><text transform="translate(407.3 1231.4) scale(0.93 1)">A</text><text transform="translate(445.7 1215.2) scale(0.93 1)">C</text><text transform="translate(476.5 1240.8) scale(0.93 1)">C</text><text transform="translate(499 1232.1) scale(0.93 1)">C</text><text transform="translate(505.9 1191.1) scale(0.93 1)">A</text><text transform="translate(537.7 1057.2) scale(0.93 1)">A</text><text transform="translate(537.7 1081.5) scale(0.93 1)">B</text><text transform="translate(584 1215.2) scale(0.93 1)">C</text><text transform="translate(612.7 1155.8) scale(0.93 1)">B</text><text transform="translate(628.8 1201.9) scale(0.93 1)">B</text><text transform="translate(685.7 1162.2) scale(0.93 1)">B</text><text transform="translate(694.7 1092.3) scale(0.93 1)">B</text><text transform="translate(831.7 1200.6) scale(0.93 1)">C</text><text transform="translate(849.7 1216.8) scale(0.93 1)">B</text><text transform="translate(876 1218.6) scale(0.93 1)">A</text><text transform="translate(874 1239.1) scale(0.93 1)">B</text><text transform="translate(932.4 1229.6) scale(0.93 1)">B</text></g>
<g font-family='"Liberation Sans",Arial,sans-serif' font-size="23.0" text-anchor="middle" stroke="#000" stroke-width="0.5"><text x="313" y="809.7">D</text><text x="340.7" y="917.3">D</text><text x="776.6" y="907">D</text><text x="278.7" y="1212.2">D</text><text x="486.7" y="1139.9">D</text><text x="613.2" y="1181.9">D</text><text x="707.5" y="1143.5">D</text><text x="786.4" y="1177.1">D</text><text x="851.4" y="1240.8">D</text><text x="900.4" y="1243.4">D</text></g>
</g>
</svg>
</body>
</html>
